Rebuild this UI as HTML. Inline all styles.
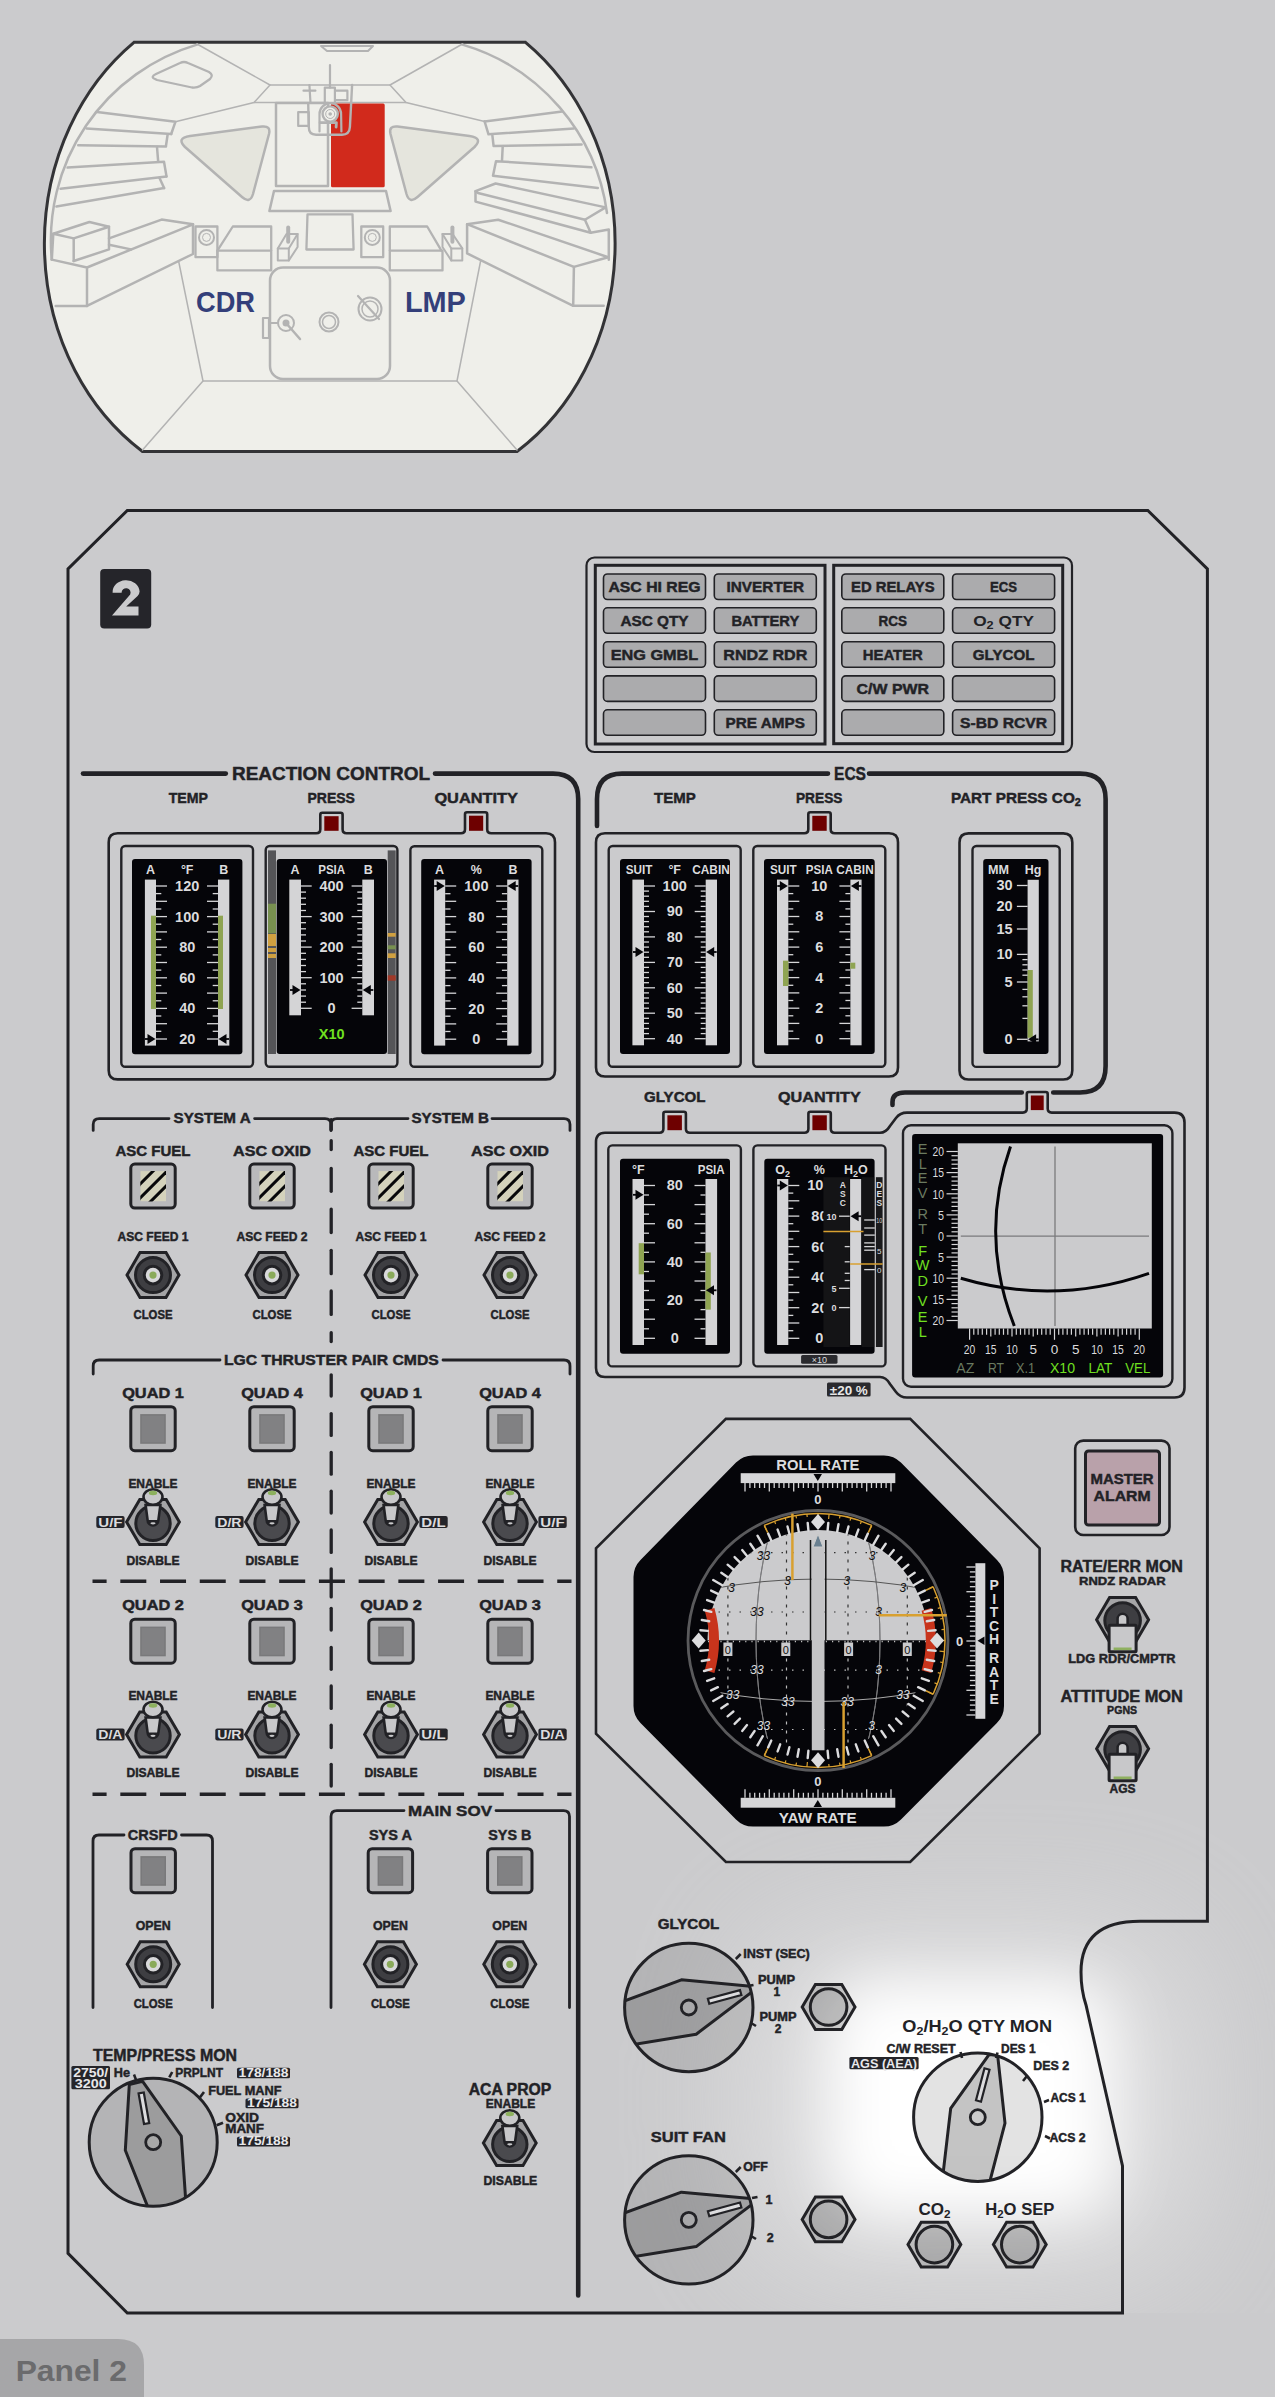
<!DOCTYPE html>
<html><head><meta charset="utf-8"><style>
html,body{margin:0;padding:0;background:#cbcbcd;overflow:hidden;}
svg{display:block;}

</style></head><body>
<svg width="1275" height="2397" viewBox="0 0 1275 2397" font-family='"Liberation Sans", sans-serif' font-weight="bold" fill="#222226">
<defs><filter id="gblur" x="-50%" y="-50%" width="200%" height="200%"><feGaussianBlur stdDeviation="30"/></filter></defs><defs><filter id="gblur2" x="-50%" y="-50%" width="200%" height="200%"><feGaussianBlur stdDeviation="70"/></filter></defs><clipPath id="gclip"><rect x="0" y="1800" width="1275" height="513"/></clipPath><g clip-path="url(#gclip)"><rect x="760" y="1940" width="420" height="320" rx="60" fill="#ffffff" opacity="0.45" filter="url(#gblur2)"/><rect x="832" y="1982" width="280" height="232" rx="40" fill="#ffffff" filter="url(#gblur)"/></g><path d="M134,42.3 L525.5,42.3 A219.2,249.5 0 0 1 517,451.5 L142.5,451.5 A219.2,249.5 0 0 1 134,42.3 Z" fill="#efefea" stroke="#333336" stroke-width="3"/><path d="M197,44.6 A204,204 0 0 0 51.8,259.6" fill="none" stroke="#b3b3b3" stroke-width="2.5" stroke-linejoin="round" stroke-linecap="round"/><path d="M462.5,44.6 A204,204 0 0 1 607,213" fill="none" stroke="#b3b3b3" stroke-width="2.5" stroke-linejoin="round" stroke-linecap="round"/><path d="M197.0,44.0 L270.0,85.0 L254.0,102.5 L175.4,121.8" fill="none" stroke="#b3b3b3" stroke-width="1.5" stroke-linejoin="round" stroke-linecap="round"/><path d="M462.5,44.0 L390.0,85.0 L406.0,102.5 L484.6,121.4" fill="none" stroke="#b3b3b3" stroke-width="1.5" stroke-linejoin="round" stroke-linecap="round"/><path d="M270.0,85.0 L390.0,85.0" fill="none" stroke="#b3b3b3" stroke-width="1.5" stroke-linejoin="round" stroke-linecap="round"/><path d="M254.0,102.5 L406.0,102.5" fill="none" stroke="#b3b3b3" stroke-width="1.5" stroke-linejoin="round" stroke-linecap="round"/><path d="M321.0,46.0 L373.0,46.0 L368.0,51.0 L327.0,51.0 Z" fill="none" stroke="#b3b3b3" stroke-width="2" stroke-linejoin="round" stroke-linecap="round"/><path d="M155,79 Q150,77 156,74 L180,63 Q184,61 188,63 L209,72 Q214,75 210,79 L200,86 Q197,88 192,87.5 L157,80 Z" fill="none" stroke="#b3b3b3" stroke-width="2.3" stroke-linejoin="round" stroke-linecap="round"/><path d="M185,147 Q176,138 190,136 L262,126.5 Q271,125.5 269,134 L253,194 Q250,204 242,197 Z" fill="#e5e5dd" stroke="#b3b3b3" stroke-width="2.5" stroke-linejoin="round" stroke-linecap="round"/><path d="M474.5,147 Q483.5,138 469.5,136 L397.5,126.5 Q388.5,125.5 390.5,134 L406.5,194 Q409.5,204 417.5,197 Z" fill="#e5e5dd" stroke="#b3b3b3" stroke-width="2.5" stroke-linejoin="round" stroke-linecap="round"/><path d="M97.0,111.9 L175.4,121.8 L171.2,134.0" fill="none" stroke="#b3b3b3" stroke-width="2.5" stroke-linejoin="round" stroke-linecap="round"/><path d="M86.5,128.4 L171.2,134.0" fill="none" stroke="#b3b3b3" stroke-width="2.5" stroke-linejoin="round" stroke-linecap="round"/><path d="M167.6,134.7 L166.0,145.8" fill="none" stroke="#b3b3b3" stroke-width="2.5" stroke-linejoin="round" stroke-linecap="round"/><path d="M78.2,145.3 L166.0,146.5" fill="none" stroke="#b3b3b3" stroke-width="2.5" stroke-linejoin="round" stroke-linecap="round"/><path d="M157.0,147.0 L158.2,161.8" fill="none" stroke="#b3b3b3" stroke-width="2.5" stroke-linejoin="round" stroke-linecap="round"/><path d="M67.6,167.6 L164.0,161.8 L166.5,176.4" fill="none" stroke="#b3b3b3" stroke-width="2.5" stroke-linejoin="round" stroke-linecap="round"/><path d="M60.6,188.8 L166.5,176.4" fill="none" stroke="#b3b3b3" stroke-width="2.5" stroke-linejoin="round" stroke-linecap="round"/><path d="M159.4,177.8 L164.1,188.1" fill="none" stroke="#b3b3b3" stroke-width="2.5" stroke-linejoin="round" stroke-linecap="round"/><path d="M56.4,206.5 L164.1,188.1" fill="none" stroke="#b3b3b3" stroke-width="2.5" stroke-linejoin="round" stroke-linecap="round"/><path d="M484.6,121.4 L562.2,111.6" fill="none" stroke="#b3b3b3" stroke-width="2.5" stroke-linejoin="round" stroke-linecap="round"/><path d="M484.6,121.4 L488.5,134.3 L573.9,128.5" fill="none" stroke="#b3b3b3" stroke-width="2.5" stroke-linejoin="round" stroke-linecap="round"/><path d="M492.4,135.6 L493.6,146.0 L581.6,144.6" fill="none" stroke="#b3b3b3" stroke-width="2.5" stroke-linejoin="round" stroke-linecap="round"/><path d="M502.7,146.6 L502.0,160.8" fill="none" stroke="#b3b3b3" stroke-width="2.5" stroke-linejoin="round" stroke-linecap="round"/><path d="M591.4,167.3 L496.0,161.2 L493.0,175.7 L597.8,188.0" fill="none" stroke="#b3b3b3" stroke-width="2.5" stroke-linejoin="round" stroke-linecap="round"/><path d="M475.5,191.2 L495.6,183.5 L605.6,207.4 L584.9,219.7 L478.0,193.0 Z" fill="none" stroke="#b3b3b3" stroke-width="2.5" stroke-linejoin="round" stroke-linecap="round"/><path d="M475.5,191.2 L475.5,201.6 L590.7,232.7 L584.9,219.7" fill="none" stroke="#b3b3b3" stroke-width="2.5" stroke-linejoin="round" stroke-linecap="round"/><path d="M467.1,224.2 L498.2,219.7 L608.2,257.2 L573.9,266.9 L467.1,224.2 Z" fill="none" stroke="#b3b3b3" stroke-width="2.5" stroke-linejoin="round" stroke-linecap="round"/><path d="M590.7,232.7 L608.8,229.4 L608.8,259.8" fill="none" stroke="#b3b3b3" stroke-width="2.5" stroke-linejoin="round" stroke-linecap="round"/><path d="M467.1,224.2 L467.1,253.4 L573.2,305.8 L573.9,266.9" fill="none" stroke="#b3b3b3" stroke-width="2.5" stroke-linejoin="round" stroke-linecap="round"/><path d="M573.2,305.8 L603.7,305.8" fill="none" stroke="#b3b3b3" stroke-width="2.5" stroke-linejoin="round" stroke-linecap="round"/><path d="M53.3,233.7 L89.4,222.0 L109.0,226.7 L73.7,238.4 L53.3,233.7 Z" fill="none" stroke="#b3b3b3" stroke-width="2.5" stroke-linejoin="round" stroke-linecap="round"/><path d="M53.3,233.7 L51.8,259.6" fill="none" stroke="#b3b3b3" stroke-width="2.5" stroke-linejoin="round" stroke-linecap="round"/><path d="M73.7,238.4 L73.7,261.0" fill="none" stroke="#b3b3b3" stroke-width="2.5" stroke-linejoin="round" stroke-linecap="round"/><path d="M109.0,226.7 L109.0,249.4 L73.7,261.0" fill="none" stroke="#b3b3b3" stroke-width="2.5" stroke-linejoin="round" stroke-linecap="round"/><path d="M109.0,238.4 L161.6,219.6 L193.0,224.3" fill="none" stroke="#b3b3b3" stroke-width="2.5" stroke-linejoin="round" stroke-linecap="round"/><path d="M51.8,259.6 L87.0,267.5 L193.0,224.3 L193.0,254.0 L87.0,305.9 L87.0,267.5" fill="none" stroke="#b3b3b3" stroke-width="2.5" stroke-linejoin="round" stroke-linecap="round"/><path d="M109.0,244.7 L131.0,249.4" fill="none" stroke="#b3b3b3" stroke-width="2.5" stroke-linejoin="round" stroke-linecap="round"/><path d="M55.7,305.9 L87.0,305.9" fill="none" stroke="#b3b3b3" stroke-width="2.5" stroke-linejoin="round" stroke-linecap="round"/><path d="M195.5,226.5 L217.4,226.5 L217.4,257.2 L195.5,257.2 Z" fill="none" stroke="#b3b3b3" stroke-width="2.3" stroke-linejoin="round" stroke-linecap="round"/><path d="M361.3,226.5 L383.2,226.5 L383.2,257.2 L361.3,257.2 Z" fill="none" stroke="#b3b3b3" stroke-width="2.3" stroke-linejoin="round" stroke-linecap="round"/><circle cx="206.5" cy="237.4" r="7.5" fill="none" stroke="#b3b3b3" stroke-width="2"/><circle cx="206.5" cy="237.4" r="4" fill="none" stroke="#b3b3b3" stroke-width="1"/><circle cx="372.3" cy="237.4" r="7.5" fill="none" stroke="#b3b3b3" stroke-width="2"/><circle cx="372.3" cy="237.4" r="4" fill="none" stroke="#b3b3b3" stroke-width="1"/><path d="M217.4,250.6 L232.8,226.5 L271.2,226.5 L271.2,250.6" fill="none" stroke="#b3b3b3" stroke-width="2.3" stroke-linejoin="round" stroke-linecap="round"/><path d="M217.4,250.6 L271.2,250.6 L271.2,270.4 L217.4,270.4 Z" fill="none" stroke="#b3b3b3" stroke-width="2.3" stroke-linejoin="round" stroke-linecap="round"/><path d="M389.8,250.6 L389.8,226.5 L427.2,226.5 L441.4,250.6" fill="none" stroke="#b3b3b3" stroke-width="2.3" stroke-linejoin="round" stroke-linecap="round"/><path d="M389.8,250.6 L442.5,250.6 L442.5,270.4 L389.8,270.4 Z" fill="none" stroke="#b3b3b3" stroke-width="2.3" stroke-linejoin="round" stroke-linecap="round"/><path d="M277.8,248.4 L288.8,248.4 L288.8,260.5 L277.8,260.5 Z" fill="none" stroke="#b3b3b3" stroke-width="2" stroke-linejoin="round" stroke-linecap="round"/><path d="M277.8,248.4 L286.5,234.0 L297.6,234.0 L288.8,248.4" fill="none" stroke="#b3b3b3" stroke-width="2" stroke-linejoin="round" stroke-linecap="round"/><path d="M297.6,234.0 L297.6,247.0 L288.8,260.5" fill="none" stroke="#b3b3b3" stroke-width="2" stroke-linejoin="round" stroke-linecap="round"/><path d="M288.2,227.6 L288.2,241.8" fill="none" stroke="#b3b3b3" stroke-width="4" stroke-linejoin="round" stroke-linecap="round"/><path d="M451.3,248.4 L462.3,248.4 L462.3,260.5 L451.3,260.5 Z" fill="none" stroke="#b3b3b3" stroke-width="2" stroke-linejoin="round" stroke-linecap="round"/><path d="M462.3,248.4 L452.6,234.0 L442.5,234.0 L451.3,248.4" fill="none" stroke="#b3b3b3" stroke-width="2" stroke-linejoin="round" stroke-linecap="round"/><path d="M442.5,234.0 L442.5,247.0 L451.3,260.5" fill="none" stroke="#b3b3b3" stroke-width="2" stroke-linejoin="round" stroke-linecap="round"/><path d="M452.4,227.6 L452.4,241.8" fill="none" stroke="#b3b3b3" stroke-width="4" stroke-linejoin="round" stroke-linecap="round"/><path d="M307.5,214.4 L352.5,214.4 L353.6,249.5 L306.4,249.5 Z" fill="none" stroke="#b3b3b3" stroke-width="2.3" stroke-linejoin="round" stroke-linecap="round"/><path d="M276.0,103.0 L328.0,103.0 L328.0,186.0 L276.0,186.0 Z" fill="none" stroke="#b3b3b3" stroke-width="2.5" stroke-linejoin="round" stroke-linecap="round"/><path d="M274.0,191.0 L386.0,191.0 L390.6,211.0 L269.4,211.0 Z" fill="none" stroke="#b3b3b3" stroke-width="2.5" stroke-linejoin="round" stroke-linecap="round"/><path d="M178.8,262.0 L203.0,381.0 L142.5,450.0" fill="none" stroke="#b3b3b3" stroke-width="1.5" stroke-linejoin="round" stroke-linecap="round"/><path d="M480.7,260.5 L457.0,381.0 L517.0,450.0" fill="none" stroke="#b3b3b3" stroke-width="1.5" stroke-linejoin="round" stroke-linecap="round"/><path d="M203.0,381.0 L457.0,381.0" fill="none" stroke="#b3b3b3" stroke-width="1.5" stroke-linejoin="round" stroke-linecap="round"/><rect x="270" y="267.6" width="120" height="111.4" rx="13" fill="#efefea" stroke="#b3b3b3" stroke-width="2.5"/><circle cx="286" cy="323" r="8" fill="none" stroke="#b3b3b3" stroke-width="2"/><circle cx="286" cy="323" r="3.5" fill="#b3b3b3"/><path d="M286,323 L300,339" fill="none" stroke="#b3b3b3" stroke-width="2.5" stroke-linejoin="round" stroke-linecap="round"/><path d="M263,318 L269,318 L269,338 L263,338 Z" fill="none" stroke="#b3b3b3" stroke-width="2.2" stroke-linejoin="round" stroke-linecap="round"/><path d="M269,323 L278,323" fill="none" stroke="#b3b3b3" stroke-width="2" stroke-linejoin="round" stroke-linecap="round"/><circle cx="329" cy="322" r="9.5" fill="none" stroke="#b3b3b3" stroke-width="2"/><circle cx="329" cy="322" r="6.5" fill="none" stroke="#b3b3b3" stroke-width="1.5"/><circle cx="370" cy="309" r="11.5" fill="none" stroke="#b3b3b3" stroke-width="2"/><circle cx="370" cy="309" r="8" fill="none" stroke="#b3b3b3" stroke-width="1.5"/><path d="M358,296 L379,319" fill="none" stroke="#b3b3b3" stroke-width="2.2" stroke-linejoin="round" stroke-linecap="round"/><rect x="331" y="103.4" width="53.7" height="83.8" rx="1.5" fill="#d12a1c"/><path d="M330,65 L330,87.6" fill="none" stroke="#b3b3b3" stroke-width="2.2" stroke-linejoin="round" stroke-linecap="round"/><path d="M309.4,85 L310.5,103 M303.5,90.7 L315.4,90.7" fill="none" stroke="#b3b3b3" stroke-width="2.2" stroke-linejoin="round" stroke-linecap="round"/><path d="M324.8,103 L324.8,87.6 L334.9,87.6 L334.9,103 M334.9,90.7 L347.4,90.7 L347.4,100.2 L334.9,100.2" fill="none" stroke="#b3b3b3" stroke-width="2.2" stroke-linejoin="round" stroke-linecap="round"/><path d="M352.1,85 L349.9,127 Q349.5,134.7 342,134.7 L316,134.7 Q308.8,134.7 308.8,127 L308.2,103.3" fill="none" stroke="#b3b3b3" stroke-width="2.4" stroke-linejoin="round" stroke-linecap="round"/><path d="M319.5,131.5 L319.5,114 A10.8,10.8 0 0 1 341.1,114 L341.4,131.5" fill="none" stroke="#b3b3b3" stroke-width="2.2" stroke-linejoin="round" stroke-linecap="round"/><circle cx="330.2" cy="114" r="7.6" fill="#efefea" stroke="#b3b3b3" stroke-width="2.4"/><circle cx="330.2" cy="114" r="4.5" fill="none" stroke="#b3b3b3" stroke-width="1"/><circle cx="330.2" cy="114" r="1.8" fill="#b3b3b3"/><path d="M298.2,112.1 L308.8,112.1 L308.8,125.9 L298.2,125.9 Z" fill="none" stroke="#b3b3b3" stroke-width="2.2" stroke-linejoin="round" stroke-linecap="round"/><path d="M320.1,122.7 L336.4,122.7 L336.1,127.1" fill="none" stroke="#b3b3b3" stroke-width="2.8" stroke-linejoin="round" stroke-linecap="round"/><text x="225.5" y="312.4" font-size="29.5" text-anchor="middle" fill="#343f7a" textLength="59" lengthAdjust="spacingAndGlyphs">CDR</text><text x="435.4" y="312.4" font-size="29.5" text-anchor="middle" fill="#343f7a" textLength="61" lengthAdjust="spacingAndGlyphs">LMP</text><path d="M127.3,510.4 L1147.8,510.4 L1207.4,569 L1207.4,1921.3 L1140,1921.3 Q1081,1921.3 1081,1972 Q1081,1990 1086,2005 L1122.5,2166 L1122.5,2313 L127.3,2313 L68,2253.3 L68,569 Z" fill="none" stroke="#222226" stroke-width="3"/><rect x="100.2" y="569.0" width="51.0" height="59.4" rx="4" fill="#25252a"/><path d="M112,615.4 L138.5,615.4 L138.5,606.6 L126.2,606.6 L137.6,596 Q139.6,593.5 139.6,591.5 A13.5,12 0 1 0 112.6,592.8 L121.6,592.8 A4.5,4.5 0 1 1 130.2,594.5 Z" fill="#cbcbcd" stroke="none" stroke-width="0"/><path d="M0,2339 L118,2339 Q144,2339 144,2365 L144,2397 L0,2397 Z" fill="#a6a6a8" stroke="none" stroke-width="0"/><text x="71.3" y="2381.0" font-size="29" text-anchor="middle" fill="#6b6b6d" textLength="111.3" lengthAdjust="spacingAndGlyphs">Panel 2</text><rect x="586.5" y="557.5" width="485.5" height="194.5" rx="8" fill="none" stroke="#222226" stroke-width="2.2"/><rect x="595.3" y="565.3" width="229.7" height="178.7" rx="0" fill="none" stroke="#222226" stroke-width="3"/><rect x="833.7" y="565.3" width="229.0" height="178.4" rx="0" fill="none" stroke="#222226" stroke-width="3"/><rect x="603.5" y="574.0" width="102.0" height="25.5" rx="4" fill="#ababad" stroke="#222226" stroke-width="1.6"/><text x="654.5" y="591.9" font-size="15" text-anchor="middle" stroke="#222226" stroke-width="0.45" textLength="92.2" lengthAdjust="spacingAndGlyphs">ASC HI REG</text><rect x="714.3" y="574.0" width="102.0" height="25.5" rx="4" fill="#ababad" stroke="#222226" stroke-width="1.6"/><text x="765.3" y="591.9" font-size="15" text-anchor="middle" stroke="#222226" stroke-width="0.45" textLength="77.5" lengthAdjust="spacingAndGlyphs">INVERTER</text><rect x="841.8" y="574.0" width="102.0" height="25.5" rx="4" fill="#ababad" stroke="#222226" stroke-width="1.6"/><text x="892.8" y="591.9" font-size="15" text-anchor="middle" stroke="#222226" stroke-width="0.45" textLength="83.6" lengthAdjust="spacingAndGlyphs">ED RELAYS</text><rect x="952.6" y="574.0" width="102.0" height="25.5" rx="4" fill="#ababad" stroke="#222226" stroke-width="1.6"/><text x="1003.6" y="591.9" font-size="15" text-anchor="middle" stroke="#222226" stroke-width="0.45" textLength="27" lengthAdjust="spacingAndGlyphs">ECS</text><rect x="603.5" y="607.8" width="102.0" height="25.5" rx="4" fill="#ababad" stroke="#222226" stroke-width="1.6"/><text x="654.5" y="625.7" font-size="15" text-anchor="middle" stroke="#222226" stroke-width="0.45" textLength="68.2" lengthAdjust="spacingAndGlyphs">ASC QTY</text><rect x="714.3" y="607.8" width="102.0" height="25.5" rx="4" fill="#ababad" stroke="#222226" stroke-width="1.6"/><text x="765.3" y="625.7" font-size="15" text-anchor="middle" stroke="#222226" stroke-width="0.45" textLength="67.8" lengthAdjust="spacingAndGlyphs">BATTERY</text><rect x="841.8" y="607.8" width="102.0" height="25.5" rx="4" fill="#ababad" stroke="#222226" stroke-width="1.6"/><text x="892.8" y="625.7" font-size="15" text-anchor="middle" stroke="#222226" stroke-width="0.45" textLength="28.5" lengthAdjust="spacingAndGlyphs">RCS</text><rect x="952.6" y="607.8" width="102.0" height="25.5" rx="4" fill="#ababad" stroke="#222226" stroke-width="1.6"/><text x="1003.6" y="625.8" font-size="15" text-anchor="middle" textLength="60.8" lengthAdjust="spacingAndGlyphs">O<tspan font-size="11" dy="3">2</tspan><tspan dy="-3"> QTY</tspan></text><rect x="603.5" y="641.8" width="102.0" height="25.5" rx="4" fill="#ababad" stroke="#222226" stroke-width="1.6"/><text x="654.5" y="659.7" font-size="15" text-anchor="middle" stroke="#222226" stroke-width="0.45" textLength="87.6" lengthAdjust="spacingAndGlyphs">ENG GMBL</text><rect x="714.3" y="641.8" width="102.0" height="25.5" rx="4" fill="#ababad" stroke="#222226" stroke-width="1.6"/><text x="765.3" y="659.7" font-size="15" text-anchor="middle" stroke="#222226" stroke-width="0.45" textLength="84" lengthAdjust="spacingAndGlyphs">RNDZ RDR</text><rect x="841.8" y="641.8" width="102.0" height="25.5" rx="4" fill="#ababad" stroke="#222226" stroke-width="1.6"/><text x="892.8" y="659.7" font-size="15" text-anchor="middle" stroke="#222226" stroke-width="0.45" textLength="60" lengthAdjust="spacingAndGlyphs">HEATER</text><rect x="952.6" y="641.8" width="102.0" height="25.5" rx="4" fill="#ababad" stroke="#222226" stroke-width="1.6"/><text x="1003.6" y="659.7" font-size="15" text-anchor="middle" stroke="#222226" stroke-width="0.45" textLength="61.6" lengthAdjust="spacingAndGlyphs">GLYCOL</text><rect x="603.5" y="675.9" width="102.0" height="25.5" rx="4" fill="#ababad" stroke="#222226" stroke-width="1.6"/><rect x="714.3" y="675.9" width="102.0" height="25.5" rx="4" fill="#ababad" stroke="#222226" stroke-width="1.6"/><rect x="841.8" y="675.9" width="102.0" height="25.5" rx="4" fill="#ababad" stroke="#222226" stroke-width="1.6"/><text x="892.8" y="693.8" font-size="15" text-anchor="middle" stroke="#222226" stroke-width="0.45" textLength="72.4" lengthAdjust="spacingAndGlyphs">C/W PWR</text><rect x="952.6" y="675.9" width="102.0" height="25.5" rx="4" fill="#ababad" stroke="#222226" stroke-width="1.6"/><rect x="603.5" y="709.8" width="102.0" height="25.5" rx="4" fill="#ababad" stroke="#222226" stroke-width="1.6"/><rect x="714.3" y="709.8" width="102.0" height="25.5" rx="4" fill="#ababad" stroke="#222226" stroke-width="1.6"/><text x="765.3" y="727.7" font-size="15" text-anchor="middle" stroke="#222226" stroke-width="0.45" textLength="79.4" lengthAdjust="spacingAndGlyphs">PRE AMPS</text><rect x="841.8" y="709.8" width="102.0" height="25.5" rx="4" fill="#ababad" stroke="#222226" stroke-width="1.6"/><rect x="952.6" y="709.8" width="102.0" height="25.5" rx="4" fill="#ababad" stroke="#222226" stroke-width="1.6"/><text x="1003.6" y="727.7" font-size="15" text-anchor="middle" stroke="#222226" stroke-width="0.45" textLength="87" lengthAdjust="spacingAndGlyphs">S-BD RCVR</text><line x1="83.0" y1="773.6" x2="225.8" y2="773.6" stroke="#222226" stroke-width="4.6" stroke-linecap="round"/><text x="331.0" y="780.4" font-size="19" text-anchor="middle" stroke="#222226" stroke-width="0.45" textLength="198" lengthAdjust="spacingAndGlyphs">REACTION CONTROL</text><path d="M435,773.6 L553,773.6 Q578.2,773.6 578.2,799 L578.2,2295.5" fill="none" stroke="#222226" stroke-width="4.6" stroke-linecap="round"/><text x="188.3" y="802.8" font-size="15.4" text-anchor="middle" stroke="#222226" stroke-width="0.45" textLength="39.3" lengthAdjust="spacingAndGlyphs">TEMP</text><text x="331.2" y="802.8" font-size="15.4" text-anchor="middle" stroke="#222226" stroke-width="0.45" textLength="47.5" lengthAdjust="spacingAndGlyphs">PRESS</text><text x="476.2" y="802.8" font-size="15.4" text-anchor="middle" stroke="#222226" stroke-width="0.45" textLength="83.6" lengthAdjust="spacingAndGlyphs">QUANTITY</text><path d="M108.7,842.3 Q108.7,833.3 117.7,833.3 L316.3,833.3 Q320.3,833.3 320.3,829.3 L320.3,814.7 Q320.3,812.7 322.3,812.7 L340.6,812.7 Q342.6,812.7 342.6,814.7 L342.6,829.3 Q342.6,833.3 346.6,833.3 L461,833.3 Q465,833.3 465,829.3 L465,814.2 Q465,812.2 467,812.2 L485.2,812.2 Q487.2,812.2 487.2,814.2 L487.2,829.3 Q487.2,833.3 491.2,833.3 L546,833.3 Q555,833.3 555,842.3 L555,1070.4 Q555,1079.4 546,1079.4 L117.7,1079.4 Q108.7,1079.4 108.7,1070.4 Z" fill="none" stroke="#222226" stroke-width="2.6"/><rect x="324.3" y="816.2" width="14.3" height="14.6" rx="0" fill="#6e0000"/><rect x="469.0" y="815.7" width="14.2" height="15.1" rx="0" fill="#6e0000"/><rect x="121.3" y="846.0" width="131.7" height="220.7" rx="4" fill="none" stroke="#222226" stroke-width="2.4"/><rect x="265.7" y="846.0" width="131.7" height="220.7" rx="4" fill="none" stroke="#222226" stroke-width="2.4"/><rect x="410.4" y="846.2" width="131.9" height="220.6" rx="4" fill="none" stroke="#222226" stroke-width="2.4"/><rect x="132.0" y="859.0" width="110.4" height="195.2" rx="3" fill="#050509"/><rect x="144.9" y="879.6" width="11.1" height="166.0" rx="0" fill="#d4d4d6"/><rect x="218.0" y="879.6" width="11.3" height="166.0" rx="0" fill="#d4d4d6"/><rect x="151.0" y="915.7" width="5.0" height="93.3" rx="0" fill="#8fa452"/><rect x="218.0" y="915.7" width="5.0" height="93.3" rx="0" fill="#8fa452"/><text x="150.4" y="873.7" font-size="12.5" text-anchor="middle" fill="#dcdcde">A</text><text x="187.2" y="873.7" font-size="12.5" text-anchor="middle" fill="#dcdcde">°F</text><text x="223.7" y="873.7" font-size="12.5" text-anchor="middle" fill="#dcdcde">B</text><line x1="156.0" y1="886.0" x2="167.0" y2="886.0" stroke="#d6d6d8" stroke-width="1.3" stroke-linecap="butt"/><line x1="218.0" y1="886.0" x2="207.0" y2="886.0" stroke="#d6d6d8" stroke-width="1.3" stroke-linecap="butt"/><line x1="156.0" y1="893.6" x2="161.3" y2="893.6" stroke="#d6d6d8" stroke-width="1.3" stroke-linecap="butt"/><line x1="218.0" y1="893.6" x2="212.7" y2="893.6" stroke="#d6d6d8" stroke-width="1.3" stroke-linecap="butt"/><line x1="156.0" y1="901.3" x2="167.0" y2="901.3" stroke="#d6d6d8" stroke-width="1.3" stroke-linecap="butt"/><line x1="218.0" y1="901.3" x2="207.0" y2="901.3" stroke="#d6d6d8" stroke-width="1.3" stroke-linecap="butt"/><line x1="156.0" y1="909.0" x2="161.3" y2="909.0" stroke="#d6d6d8" stroke-width="1.3" stroke-linecap="butt"/><line x1="218.0" y1="909.0" x2="212.7" y2="909.0" stroke="#d6d6d8" stroke-width="1.3" stroke-linecap="butt"/><line x1="156.0" y1="916.6" x2="167.0" y2="916.6" stroke="#d6d6d8" stroke-width="1.3" stroke-linecap="butt"/><line x1="218.0" y1="916.6" x2="207.0" y2="916.6" stroke="#d6d6d8" stroke-width="1.3" stroke-linecap="butt"/><line x1="156.0" y1="924.2" x2="161.3" y2="924.2" stroke="#d6d6d8" stroke-width="1.3" stroke-linecap="butt"/><line x1="218.0" y1="924.2" x2="212.7" y2="924.2" stroke="#d6d6d8" stroke-width="1.3" stroke-linecap="butt"/><line x1="156.0" y1="931.9" x2="167.0" y2="931.9" stroke="#d6d6d8" stroke-width="1.3" stroke-linecap="butt"/><line x1="218.0" y1="931.9" x2="207.0" y2="931.9" stroke="#d6d6d8" stroke-width="1.3" stroke-linecap="butt"/><line x1="156.0" y1="939.5" x2="161.3" y2="939.5" stroke="#d6d6d8" stroke-width="1.3" stroke-linecap="butt"/><line x1="218.0" y1="939.5" x2="212.7" y2="939.5" stroke="#d6d6d8" stroke-width="1.3" stroke-linecap="butt"/><line x1="156.0" y1="947.2" x2="167.0" y2="947.2" stroke="#d6d6d8" stroke-width="1.3" stroke-linecap="butt"/><line x1="218.0" y1="947.2" x2="207.0" y2="947.2" stroke="#d6d6d8" stroke-width="1.3" stroke-linecap="butt"/><line x1="156.0" y1="954.9" x2="161.3" y2="954.9" stroke="#d6d6d8" stroke-width="1.3" stroke-linecap="butt"/><line x1="218.0" y1="954.9" x2="212.7" y2="954.9" stroke="#d6d6d8" stroke-width="1.3" stroke-linecap="butt"/><line x1="156.0" y1="962.5" x2="167.0" y2="962.5" stroke="#d6d6d8" stroke-width="1.3" stroke-linecap="butt"/><line x1="218.0" y1="962.5" x2="207.0" y2="962.5" stroke="#d6d6d8" stroke-width="1.3" stroke-linecap="butt"/><line x1="156.0" y1="970.1" x2="161.3" y2="970.1" stroke="#d6d6d8" stroke-width="1.3" stroke-linecap="butt"/><line x1="218.0" y1="970.1" x2="212.7" y2="970.1" stroke="#d6d6d8" stroke-width="1.3" stroke-linecap="butt"/><line x1="156.0" y1="977.8" x2="167.0" y2="977.8" stroke="#d6d6d8" stroke-width="1.3" stroke-linecap="butt"/><line x1="218.0" y1="977.8" x2="207.0" y2="977.8" stroke="#d6d6d8" stroke-width="1.3" stroke-linecap="butt"/><line x1="156.0" y1="985.5" x2="161.3" y2="985.5" stroke="#d6d6d8" stroke-width="1.3" stroke-linecap="butt"/><line x1="218.0" y1="985.5" x2="212.7" y2="985.5" stroke="#d6d6d8" stroke-width="1.3" stroke-linecap="butt"/><line x1="156.0" y1="993.1" x2="167.0" y2="993.1" stroke="#d6d6d8" stroke-width="1.3" stroke-linecap="butt"/><line x1="218.0" y1="993.1" x2="207.0" y2="993.1" stroke="#d6d6d8" stroke-width="1.3" stroke-linecap="butt"/><line x1="156.0" y1="1000.8" x2="161.3" y2="1000.8" stroke="#d6d6d8" stroke-width="1.3" stroke-linecap="butt"/><line x1="218.0" y1="1000.8" x2="212.7" y2="1000.8" stroke="#d6d6d8" stroke-width="1.3" stroke-linecap="butt"/><line x1="156.0" y1="1008.4" x2="167.0" y2="1008.4" stroke="#d6d6d8" stroke-width="1.3" stroke-linecap="butt"/><line x1="218.0" y1="1008.4" x2="207.0" y2="1008.4" stroke="#d6d6d8" stroke-width="1.3" stroke-linecap="butt"/><line x1="156.0" y1="1016.0" x2="161.3" y2="1016.0" stroke="#d6d6d8" stroke-width="1.3" stroke-linecap="butt"/><line x1="218.0" y1="1016.0" x2="212.7" y2="1016.0" stroke="#d6d6d8" stroke-width="1.3" stroke-linecap="butt"/><line x1="156.0" y1="1023.7" x2="167.0" y2="1023.7" stroke="#d6d6d8" stroke-width="1.3" stroke-linecap="butt"/><line x1="218.0" y1="1023.7" x2="207.0" y2="1023.7" stroke="#d6d6d8" stroke-width="1.3" stroke-linecap="butt"/><line x1="156.0" y1="1031.3" x2="161.3" y2="1031.3" stroke="#d6d6d8" stroke-width="1.3" stroke-linecap="butt"/><line x1="218.0" y1="1031.3" x2="212.7" y2="1031.3" stroke="#d6d6d8" stroke-width="1.3" stroke-linecap="butt"/><line x1="156.0" y1="1039.0" x2="167.0" y2="1039.0" stroke="#d6d6d8" stroke-width="1.3" stroke-linecap="butt"/><line x1="218.0" y1="1039.0" x2="207.0" y2="1039.0" stroke="#d6d6d8" stroke-width="1.3" stroke-linecap="butt"/><text x="187.2" y="890.9" font-size="14.5" text-anchor="middle" fill="#dcdcde">120</text><text x="187.2" y="921.5" font-size="14.5" text-anchor="middle" fill="#dcdcde">100</text><text x="187.2" y="952.1" font-size="14.5" text-anchor="middle" fill="#dcdcde">80</text><text x="187.2" y="982.7" font-size="14.5" text-anchor="middle" fill="#dcdcde">60</text><text x="187.2" y="1013.3" font-size="14.5" text-anchor="middle" fill="#dcdcde">40</text><text x="187.2" y="1043.9" font-size="14.5" text-anchor="middle" fill="#dcdcde">20</text><path d="M155.5,1039.0 L147.5,1034.0 L147.5,1044.0 Z" fill="#050509"/><line x1="145.0" y1="1039.0" x2="149.5" y2="1039.0" stroke="#050509" stroke-width="1.8" stroke-linecap="butt"/><path d="M218.5,1039.0 L226.5,1034.0 L226.5,1044.0 Z" fill="#050509"/><line x1="229.0" y1="1039.0" x2="224.5" y2="1039.0" stroke="#050509" stroke-width="1.8" stroke-linecap="butt"/><rect x="268.0" y="850.4" width="8.0" height="203.6" rx="0" fill="#555558"/><rect x="387.7" y="850.4" width="8.0" height="203.6" rx="0" fill="#555558"/><rect x="268.0" y="903.7" width="8.0" height="29.6" rx="0" fill="#789050"/><rect x="268.0" y="934.0" width="8.0" height="12.0" rx="0" fill="#d0a040"/><rect x="268.0" y="948.0" width="8.0" height="4.0" rx="0" fill="#d0a040"/><rect x="268.0" y="954.0" width="8.0" height="4.0" rx="0" fill="#d0a040"/><rect x="387.7" y="933.0" width="8.0" height="3.7" rx="0" fill="#d0a040"/><rect x="387.7" y="945.3" width="8.0" height="4.0" rx="0" fill="#789050"/><rect x="387.7" y="953.3" width="8.0" height="4.7" rx="0" fill="#d0a040"/><rect x="387.7" y="975.3" width="8.0" height="5.4" rx="0" fill="#a03828"/><rect x="276.7" y="859.0" width="110.3" height="195.0" rx="3" fill="#050509"/><rect x="289.3" y="879.6" width="11.7" height="135.7" rx="0" fill="#d4d4d6"/><rect x="362.3" y="879.6" width="11.7" height="135.7" rx="0" fill="#d4d4d6"/><text x="295.0" y="873.7" font-size="12.5" text-anchor="middle" fill="#dcdcde">A</text><text x="331.7" y="873.7" font-size="12.5" text-anchor="middle" fill="#dcdcde" textLength="27" lengthAdjust="spacingAndGlyphs">PSIA</text><text x="368.3" y="873.7" font-size="12.5" text-anchor="middle" fill="#dcdcde">B</text><line x1="301.0" y1="886.0" x2="311.7" y2="886.0" stroke="#d6d6d8" stroke-width="1.3" stroke-linecap="butt"/><line x1="362.3" y1="886.0" x2="351.6" y2="886.0" stroke="#d6d6d8" stroke-width="1.3" stroke-linecap="butt"/><line x1="301.0" y1="892.1" x2="306.0" y2="892.1" stroke="#d6d6d8" stroke-width="1.3" stroke-linecap="butt"/><line x1="362.3" y1="892.1" x2="357.3" y2="892.1" stroke="#d6d6d8" stroke-width="1.3" stroke-linecap="butt"/><line x1="301.0" y1="898.2" x2="306.0" y2="898.2" stroke="#d6d6d8" stroke-width="1.3" stroke-linecap="butt"/><line x1="362.3" y1="898.2" x2="357.3" y2="898.2" stroke="#d6d6d8" stroke-width="1.3" stroke-linecap="butt"/><line x1="301.0" y1="904.3" x2="306.0" y2="904.3" stroke="#d6d6d8" stroke-width="1.3" stroke-linecap="butt"/><line x1="362.3" y1="904.3" x2="357.3" y2="904.3" stroke="#d6d6d8" stroke-width="1.3" stroke-linecap="butt"/><line x1="301.0" y1="910.5" x2="306.0" y2="910.5" stroke="#d6d6d8" stroke-width="1.3" stroke-linecap="butt"/><line x1="362.3" y1="910.5" x2="357.3" y2="910.5" stroke="#d6d6d8" stroke-width="1.3" stroke-linecap="butt"/><line x1="301.0" y1="916.6" x2="311.7" y2="916.6" stroke="#d6d6d8" stroke-width="1.3" stroke-linecap="butt"/><line x1="362.3" y1="916.6" x2="351.6" y2="916.6" stroke="#d6d6d8" stroke-width="1.3" stroke-linecap="butt"/><line x1="301.0" y1="922.7" x2="306.0" y2="922.7" stroke="#d6d6d8" stroke-width="1.3" stroke-linecap="butt"/><line x1="362.3" y1="922.7" x2="357.3" y2="922.7" stroke="#d6d6d8" stroke-width="1.3" stroke-linecap="butt"/><line x1="301.0" y1="928.8" x2="306.0" y2="928.8" stroke="#d6d6d8" stroke-width="1.3" stroke-linecap="butt"/><line x1="362.3" y1="928.8" x2="357.3" y2="928.8" stroke="#d6d6d8" stroke-width="1.3" stroke-linecap="butt"/><line x1="301.0" y1="934.9" x2="306.0" y2="934.9" stroke="#d6d6d8" stroke-width="1.3" stroke-linecap="butt"/><line x1="362.3" y1="934.9" x2="357.3" y2="934.9" stroke="#d6d6d8" stroke-width="1.3" stroke-linecap="butt"/><line x1="301.0" y1="941.0" x2="306.0" y2="941.0" stroke="#d6d6d8" stroke-width="1.3" stroke-linecap="butt"/><line x1="362.3" y1="941.0" x2="357.3" y2="941.0" stroke="#d6d6d8" stroke-width="1.3" stroke-linecap="butt"/><line x1="301.0" y1="947.1" x2="311.7" y2="947.1" stroke="#d6d6d8" stroke-width="1.3" stroke-linecap="butt"/><line x1="362.3" y1="947.1" x2="351.6" y2="947.1" stroke="#d6d6d8" stroke-width="1.3" stroke-linecap="butt"/><line x1="301.0" y1="953.3" x2="306.0" y2="953.3" stroke="#d6d6d8" stroke-width="1.3" stroke-linecap="butt"/><line x1="362.3" y1="953.3" x2="357.3" y2="953.3" stroke="#d6d6d8" stroke-width="1.3" stroke-linecap="butt"/><line x1="301.0" y1="959.4" x2="306.0" y2="959.4" stroke="#d6d6d8" stroke-width="1.3" stroke-linecap="butt"/><line x1="362.3" y1="959.4" x2="357.3" y2="959.4" stroke="#d6d6d8" stroke-width="1.3" stroke-linecap="butt"/><line x1="301.0" y1="965.5" x2="306.0" y2="965.5" stroke="#d6d6d8" stroke-width="1.3" stroke-linecap="butt"/><line x1="362.3" y1="965.5" x2="357.3" y2="965.5" stroke="#d6d6d8" stroke-width="1.3" stroke-linecap="butt"/><line x1="301.0" y1="971.6" x2="306.0" y2="971.6" stroke="#d6d6d8" stroke-width="1.3" stroke-linecap="butt"/><line x1="362.3" y1="971.6" x2="357.3" y2="971.6" stroke="#d6d6d8" stroke-width="1.3" stroke-linecap="butt"/><line x1="301.0" y1="977.7" x2="311.7" y2="977.7" stroke="#d6d6d8" stroke-width="1.3" stroke-linecap="butt"/><line x1="362.3" y1="977.7" x2="351.6" y2="977.7" stroke="#d6d6d8" stroke-width="1.3" stroke-linecap="butt"/><line x1="301.0" y1="983.8" x2="306.0" y2="983.8" stroke="#d6d6d8" stroke-width="1.3" stroke-linecap="butt"/><line x1="362.3" y1="983.8" x2="357.3" y2="983.8" stroke="#d6d6d8" stroke-width="1.3" stroke-linecap="butt"/><line x1="301.0" y1="990.0" x2="306.0" y2="990.0" stroke="#d6d6d8" stroke-width="1.3" stroke-linecap="butt"/><line x1="362.3" y1="990.0" x2="357.3" y2="990.0" stroke="#d6d6d8" stroke-width="1.3" stroke-linecap="butt"/><line x1="301.0" y1="996.1" x2="306.0" y2="996.1" stroke="#d6d6d8" stroke-width="1.3" stroke-linecap="butt"/><line x1="362.3" y1="996.1" x2="357.3" y2="996.1" stroke="#d6d6d8" stroke-width="1.3" stroke-linecap="butt"/><line x1="301.0" y1="1002.2" x2="306.0" y2="1002.2" stroke="#d6d6d8" stroke-width="1.3" stroke-linecap="butt"/><line x1="362.3" y1="1002.2" x2="357.3" y2="1002.2" stroke="#d6d6d8" stroke-width="1.3" stroke-linecap="butt"/><line x1="301.0" y1="1008.3" x2="311.7" y2="1008.3" stroke="#d6d6d8" stroke-width="1.3" stroke-linecap="butt"/><line x1="362.3" y1="1008.3" x2="351.6" y2="1008.3" stroke="#d6d6d8" stroke-width="1.3" stroke-linecap="butt"/><text x="331.5" y="890.9" font-size="14.5" text-anchor="middle" fill="#dcdcde">400</text><text x="331.5" y="921.5" font-size="14.5" text-anchor="middle" fill="#dcdcde">300</text><text x="331.5" y="952.0" font-size="14.5" text-anchor="middle" fill="#dcdcde">200</text><text x="331.5" y="982.6" font-size="14.5" text-anchor="middle" fill="#dcdcde">100</text><text x="331.5" y="1013.2" font-size="14.5" text-anchor="middle" fill="#dcdcde">0</text><path d="M300.5,990.0 L292.5,985.0 L292.5,995.0 Z" fill="#050509"/><line x1="290.0" y1="990.0" x2="294.5" y2="990.0" stroke="#050509" stroke-width="1.8" stroke-linecap="butt"/><path d="M362.8,990.0 L370.8,985.0 L370.8,995.0 Z" fill="#050509"/><line x1="373.3" y1="990.0" x2="368.8" y2="990.0" stroke="#050509" stroke-width="1.8" stroke-linecap="butt"/><text x="331.7" y="1039.3" font-size="14.5" text-anchor="middle" fill="#70e020">X10</text><rect x="421.2" y="859.0" width="110.4" height="195.2" rx="3" fill="#050509"/><rect x="434.1" y="879.6" width="11.1" height="166.0" rx="0" fill="#d4d4d6"/><rect x="507.2" y="879.6" width="11.3" height="166.0" rx="0" fill="#d4d4d6"/><text x="439.6" y="873.7" font-size="12.5" text-anchor="middle" fill="#dcdcde">A</text><text x="476.4" y="873.7" font-size="12.5" text-anchor="middle" fill="#dcdcde">%</text><text x="512.9" y="873.7" font-size="12.5" text-anchor="middle" fill="#dcdcde">B</text><line x1="445.2" y1="886.0" x2="456.2" y2="886.0" stroke="#d6d6d8" stroke-width="1.3" stroke-linecap="butt"/><line x1="507.2" y1="886.0" x2="496.2" y2="886.0" stroke="#d6d6d8" stroke-width="1.3" stroke-linecap="butt"/><line x1="445.2" y1="893.7" x2="450.5" y2="893.7" stroke="#d6d6d8" stroke-width="1.3" stroke-linecap="butt"/><line x1="507.2" y1="893.7" x2="501.9" y2="893.7" stroke="#d6d6d8" stroke-width="1.3" stroke-linecap="butt"/><line x1="445.2" y1="901.3" x2="456.2" y2="901.3" stroke="#d6d6d8" stroke-width="1.3" stroke-linecap="butt"/><line x1="507.2" y1="901.3" x2="496.2" y2="901.3" stroke="#d6d6d8" stroke-width="1.3" stroke-linecap="butt"/><line x1="445.2" y1="909.0" x2="450.5" y2="909.0" stroke="#d6d6d8" stroke-width="1.3" stroke-linecap="butt"/><line x1="507.2" y1="909.0" x2="501.9" y2="909.0" stroke="#d6d6d8" stroke-width="1.3" stroke-linecap="butt"/><line x1="445.2" y1="916.6" x2="456.2" y2="916.6" stroke="#d6d6d8" stroke-width="1.3" stroke-linecap="butt"/><line x1="507.2" y1="916.6" x2="496.2" y2="916.6" stroke="#d6d6d8" stroke-width="1.3" stroke-linecap="butt"/><line x1="445.2" y1="924.3" x2="450.5" y2="924.3" stroke="#d6d6d8" stroke-width="1.3" stroke-linecap="butt"/><line x1="507.2" y1="924.3" x2="501.9" y2="924.3" stroke="#d6d6d8" stroke-width="1.3" stroke-linecap="butt"/><line x1="445.2" y1="932.0" x2="456.2" y2="932.0" stroke="#d6d6d8" stroke-width="1.3" stroke-linecap="butt"/><line x1="507.2" y1="932.0" x2="496.2" y2="932.0" stroke="#d6d6d8" stroke-width="1.3" stroke-linecap="butt"/><line x1="445.2" y1="939.6" x2="450.5" y2="939.6" stroke="#d6d6d8" stroke-width="1.3" stroke-linecap="butt"/><line x1="507.2" y1="939.6" x2="501.9" y2="939.6" stroke="#d6d6d8" stroke-width="1.3" stroke-linecap="butt"/><line x1="445.2" y1="947.3" x2="456.2" y2="947.3" stroke="#d6d6d8" stroke-width="1.3" stroke-linecap="butt"/><line x1="507.2" y1="947.3" x2="496.2" y2="947.3" stroke="#d6d6d8" stroke-width="1.3" stroke-linecap="butt"/><line x1="445.2" y1="954.9" x2="450.5" y2="954.9" stroke="#d6d6d8" stroke-width="1.3" stroke-linecap="butt"/><line x1="507.2" y1="954.9" x2="501.9" y2="954.9" stroke="#d6d6d8" stroke-width="1.3" stroke-linecap="butt"/><line x1="445.2" y1="962.6" x2="456.2" y2="962.6" stroke="#d6d6d8" stroke-width="1.3" stroke-linecap="butt"/><line x1="507.2" y1="962.6" x2="496.2" y2="962.6" stroke="#d6d6d8" stroke-width="1.3" stroke-linecap="butt"/><line x1="445.2" y1="970.3" x2="450.5" y2="970.3" stroke="#d6d6d8" stroke-width="1.3" stroke-linecap="butt"/><line x1="507.2" y1="970.3" x2="501.9" y2="970.3" stroke="#d6d6d8" stroke-width="1.3" stroke-linecap="butt"/><line x1="445.2" y1="977.9" x2="456.2" y2="977.9" stroke="#d6d6d8" stroke-width="1.3" stroke-linecap="butt"/><line x1="507.2" y1="977.9" x2="496.2" y2="977.9" stroke="#d6d6d8" stroke-width="1.3" stroke-linecap="butt"/><line x1="445.2" y1="985.6" x2="450.5" y2="985.6" stroke="#d6d6d8" stroke-width="1.3" stroke-linecap="butt"/><line x1="507.2" y1="985.6" x2="501.9" y2="985.6" stroke="#d6d6d8" stroke-width="1.3" stroke-linecap="butt"/><line x1="445.2" y1="993.2" x2="456.2" y2="993.2" stroke="#d6d6d8" stroke-width="1.3" stroke-linecap="butt"/><line x1="507.2" y1="993.2" x2="496.2" y2="993.2" stroke="#d6d6d8" stroke-width="1.3" stroke-linecap="butt"/><line x1="445.2" y1="1000.9" x2="450.5" y2="1000.9" stroke="#d6d6d8" stroke-width="1.3" stroke-linecap="butt"/><line x1="507.2" y1="1000.9" x2="501.9" y2="1000.9" stroke="#d6d6d8" stroke-width="1.3" stroke-linecap="butt"/><line x1="445.2" y1="1008.6" x2="456.2" y2="1008.6" stroke="#d6d6d8" stroke-width="1.3" stroke-linecap="butt"/><line x1="507.2" y1="1008.6" x2="496.2" y2="1008.6" stroke="#d6d6d8" stroke-width="1.3" stroke-linecap="butt"/><line x1="445.2" y1="1016.2" x2="450.5" y2="1016.2" stroke="#d6d6d8" stroke-width="1.3" stroke-linecap="butt"/><line x1="507.2" y1="1016.2" x2="501.9" y2="1016.2" stroke="#d6d6d8" stroke-width="1.3" stroke-linecap="butt"/><line x1="445.2" y1="1023.9" x2="456.2" y2="1023.9" stroke="#d6d6d8" stroke-width="1.3" stroke-linecap="butt"/><line x1="507.2" y1="1023.9" x2="496.2" y2="1023.9" stroke="#d6d6d8" stroke-width="1.3" stroke-linecap="butt"/><line x1="445.2" y1="1031.5" x2="450.5" y2="1031.5" stroke="#d6d6d8" stroke-width="1.3" stroke-linecap="butt"/><line x1="507.2" y1="1031.5" x2="501.9" y2="1031.5" stroke="#d6d6d8" stroke-width="1.3" stroke-linecap="butt"/><line x1="445.2" y1="1039.2" x2="456.2" y2="1039.2" stroke="#d6d6d8" stroke-width="1.3" stroke-linecap="butt"/><line x1="507.2" y1="1039.2" x2="496.2" y2="1039.2" stroke="#d6d6d8" stroke-width="1.3" stroke-linecap="butt"/><text x="476.4" y="890.9" font-size="14.5" text-anchor="middle" fill="#dcdcde">100</text><text x="476.4" y="921.5" font-size="14.5" text-anchor="middle" fill="#dcdcde">80</text><text x="476.4" y="952.2" font-size="14.5" text-anchor="middle" fill="#dcdcde">60</text><text x="476.4" y="982.8" font-size="14.5" text-anchor="middle" fill="#dcdcde">40</text><text x="476.4" y="1013.5" font-size="14.5" text-anchor="middle" fill="#dcdcde">20</text><text x="476.4" y="1044.1" font-size="14.5" text-anchor="middle" fill="#dcdcde">0</text><path d="M444.7,886.0 L436.7,881.0 L436.7,891.0 Z" fill="#050509"/><line x1="434.2" y1="886.0" x2="438.7" y2="886.0" stroke="#050509" stroke-width="1.8" stroke-linecap="butt"/><path d="M507.7,886.0 L515.7,881.0 L515.7,891.0 Z" fill="#050509"/><line x1="518.2" y1="886.0" x2="513.7" y2="886.0" stroke="#050509" stroke-width="1.8" stroke-linecap="butt"/><path d="M597,826 L597,799 Q597,773.6 622,773.6 L828,773.6" fill="none" stroke="#222226" stroke-width="4.6" stroke-linecap="round"/><path d="M869,773.6 L1080,773.6 Q1105.6,773.6 1105.6,799 L1105.6,1066 Q1105.6,1092.5 1080,1092.5 L1053.2,1092.5" fill="none" stroke="#222226" stroke-width="4.6" stroke-linecap="round"/><path d="M1021.8,1092.5 L905,1092.5 Q892.5,1092.5 892.5,1102 L892.5,1105" fill="none" stroke="#222226" stroke-width="4.6" stroke-linecap="round"/><text x="850.0" y="780.4" font-size="19" text-anchor="middle" stroke="#222226" stroke-width="0.45" textLength="32" lengthAdjust="spacingAndGlyphs">ECS</text><text x="674.9" y="802.8" font-size="15.4" text-anchor="middle" stroke="#222226" stroke-width="0.45" textLength="41.7" lengthAdjust="spacingAndGlyphs">TEMP</text><text x="819.2" y="802.8" font-size="15.4" text-anchor="middle" stroke="#222226" stroke-width="0.45" textLength="46.5" lengthAdjust="spacingAndGlyphs">PRESS</text><text x="950.9" y="803" font-size="15.4" text-anchor="start" textLength="130" lengthAdjust="spacingAndGlyphs" stroke="#222226" stroke-width="0.45">PART PRESS CO<tspan font-size="11" dy="3">2</tspan></text><path d="M596,842.3 Q596,833.3 605,833.3 L804.3,833.3 Q808.3,833.3 808.3,829.3 L808.3,814.3 Q808.3,812.3 810.3,812.3 L828.7,812.3 Q830.7,812.3 830.7,814.3 L830.7,829.3 Q830.7,833.3 834.7,833.3 L889,833.3 Q898,833.3 898,842.3 L898,1067.5 Q898,1076.5 889,1076.5 L605,1076.5 Q596,1076.5 596,1067.5 Z" fill="none" stroke="#222226" stroke-width="2.6"/><rect x="812.3" y="815.8" width="14.4" height="15.0" rx="0" fill="#6e0000"/><rect x="608.7" y="846.0" width="132.0" height="220.7" rx="4" fill="none" stroke="#222226" stroke-width="2.4"/><rect x="753.3" y="846.0" width="132.0" height="220.7" rx="4" fill="none" stroke="#222226" stroke-width="2.4"/><path d="M959.5,842.4 Q959.5,833.4 968.5,833.4 L1063.3,833.4 Q1072.3,833.4 1072.3,842.4 L1072.3,1070.5 Q1072.3,1079.5 1063.3,1079.5 L968.5,1079.5 Q959.5,1079.5 959.5,1070.5 Z" fill="none" stroke="#222226" stroke-width="2.6"/><rect x="972.5" y="846.0" width="87.2" height="220.9" rx="4" fill="none" stroke="#222226" stroke-width="2.4"/><rect x="620.0" y="859.0" width="110.0" height="195.0" rx="3" fill="#050509"/><rect x="632.4" y="879.6" width="11.6" height="165.7" rx="0" fill="#d4d4d6"/><rect x="705.7" y="879.6" width="11.3" height="165.7" rx="0" fill="#d4d4d6"/><text x="639.0" y="873.7" font-size="12.5" text-anchor="middle" fill="#dcdcde" textLength="26.7" lengthAdjust="spacingAndGlyphs">SUIT</text><text x="674.7" y="873.7" font-size="12.5" text-anchor="middle" fill="#dcdcde">°F</text><text x="711.0" y="873.7" font-size="12.5" text-anchor="middle" fill="#dcdcde" textLength="37.5" lengthAdjust="spacingAndGlyphs">CABIN</text><line x1="644.0" y1="886.0" x2="655.0" y2="886.0" stroke="#d6d6d8" stroke-width="1.3" stroke-linecap="butt"/><line x1="705.7" y1="886.0" x2="694.7" y2="886.0" stroke="#d6d6d8" stroke-width="1.3" stroke-linecap="butt"/><line x1="644.0" y1="891.1" x2="649.0" y2="891.1" stroke="#d6d6d8" stroke-width="1.3" stroke-linecap="butt"/><line x1="705.7" y1="891.1" x2="700.7" y2="891.1" stroke="#d6d6d8" stroke-width="1.3" stroke-linecap="butt"/><line x1="644.0" y1="896.2" x2="649.0" y2="896.2" stroke="#d6d6d8" stroke-width="1.3" stroke-linecap="butt"/><line x1="705.7" y1="896.2" x2="700.7" y2="896.2" stroke="#d6d6d8" stroke-width="1.3" stroke-linecap="butt"/><line x1="644.0" y1="901.3" x2="649.0" y2="901.3" stroke="#d6d6d8" stroke-width="1.3" stroke-linecap="butt"/><line x1="705.7" y1="901.3" x2="700.7" y2="901.3" stroke="#d6d6d8" stroke-width="1.3" stroke-linecap="butt"/><line x1="644.0" y1="906.4" x2="649.0" y2="906.4" stroke="#d6d6d8" stroke-width="1.3" stroke-linecap="butt"/><line x1="705.7" y1="906.4" x2="700.7" y2="906.4" stroke="#d6d6d8" stroke-width="1.3" stroke-linecap="butt"/><line x1="644.0" y1="911.5" x2="655.0" y2="911.5" stroke="#d6d6d8" stroke-width="1.3" stroke-linecap="butt"/><line x1="705.7" y1="911.5" x2="694.7" y2="911.5" stroke="#d6d6d8" stroke-width="1.3" stroke-linecap="butt"/><line x1="644.0" y1="916.5" x2="649.0" y2="916.5" stroke="#d6d6d8" stroke-width="1.3" stroke-linecap="butt"/><line x1="705.7" y1="916.5" x2="700.7" y2="916.5" stroke="#d6d6d8" stroke-width="1.3" stroke-linecap="butt"/><line x1="644.0" y1="921.6" x2="649.0" y2="921.6" stroke="#d6d6d8" stroke-width="1.3" stroke-linecap="butt"/><line x1="705.7" y1="921.6" x2="700.7" y2="921.6" stroke="#d6d6d8" stroke-width="1.3" stroke-linecap="butt"/><line x1="644.0" y1="926.7" x2="649.0" y2="926.7" stroke="#d6d6d8" stroke-width="1.3" stroke-linecap="butt"/><line x1="705.7" y1="926.7" x2="700.7" y2="926.7" stroke="#d6d6d8" stroke-width="1.3" stroke-linecap="butt"/><line x1="644.0" y1="931.8" x2="649.0" y2="931.8" stroke="#d6d6d8" stroke-width="1.3" stroke-linecap="butt"/><line x1="705.7" y1="931.8" x2="700.7" y2="931.8" stroke="#d6d6d8" stroke-width="1.3" stroke-linecap="butt"/><line x1="644.0" y1="936.9" x2="655.0" y2="936.9" stroke="#d6d6d8" stroke-width="1.3" stroke-linecap="butt"/><line x1="705.7" y1="936.9" x2="694.7" y2="936.9" stroke="#d6d6d8" stroke-width="1.3" stroke-linecap="butt"/><line x1="644.0" y1="942.0" x2="649.0" y2="942.0" stroke="#d6d6d8" stroke-width="1.3" stroke-linecap="butt"/><line x1="705.7" y1="942.0" x2="700.7" y2="942.0" stroke="#d6d6d8" stroke-width="1.3" stroke-linecap="butt"/><line x1="644.0" y1="947.1" x2="649.0" y2="947.1" stroke="#d6d6d8" stroke-width="1.3" stroke-linecap="butt"/><line x1="705.7" y1="947.1" x2="700.7" y2="947.1" stroke="#d6d6d8" stroke-width="1.3" stroke-linecap="butt"/><line x1="644.0" y1="952.2" x2="649.0" y2="952.2" stroke="#d6d6d8" stroke-width="1.3" stroke-linecap="butt"/><line x1="705.7" y1="952.2" x2="700.7" y2="952.2" stroke="#d6d6d8" stroke-width="1.3" stroke-linecap="butt"/><line x1="644.0" y1="957.3" x2="649.0" y2="957.3" stroke="#d6d6d8" stroke-width="1.3" stroke-linecap="butt"/><line x1="705.7" y1="957.3" x2="700.7" y2="957.3" stroke="#d6d6d8" stroke-width="1.3" stroke-linecap="butt"/><line x1="644.0" y1="962.4" x2="655.0" y2="962.4" stroke="#d6d6d8" stroke-width="1.3" stroke-linecap="butt"/><line x1="705.7" y1="962.4" x2="694.7" y2="962.4" stroke="#d6d6d8" stroke-width="1.3" stroke-linecap="butt"/><line x1="644.0" y1="967.4" x2="649.0" y2="967.4" stroke="#d6d6d8" stroke-width="1.3" stroke-linecap="butt"/><line x1="705.7" y1="967.4" x2="700.7" y2="967.4" stroke="#d6d6d8" stroke-width="1.3" stroke-linecap="butt"/><line x1="644.0" y1="972.5" x2="649.0" y2="972.5" stroke="#d6d6d8" stroke-width="1.3" stroke-linecap="butt"/><line x1="705.7" y1="972.5" x2="700.7" y2="972.5" stroke="#d6d6d8" stroke-width="1.3" stroke-linecap="butt"/><line x1="644.0" y1="977.6" x2="649.0" y2="977.6" stroke="#d6d6d8" stroke-width="1.3" stroke-linecap="butt"/><line x1="705.7" y1="977.6" x2="700.7" y2="977.6" stroke="#d6d6d8" stroke-width="1.3" stroke-linecap="butt"/><line x1="644.0" y1="982.7" x2="649.0" y2="982.7" stroke="#d6d6d8" stroke-width="1.3" stroke-linecap="butt"/><line x1="705.7" y1="982.7" x2="700.7" y2="982.7" stroke="#d6d6d8" stroke-width="1.3" stroke-linecap="butt"/><line x1="644.0" y1="987.8" x2="655.0" y2="987.8" stroke="#d6d6d8" stroke-width="1.3" stroke-linecap="butt"/><line x1="705.7" y1="987.8" x2="694.7" y2="987.8" stroke="#d6d6d8" stroke-width="1.3" stroke-linecap="butt"/><line x1="644.0" y1="992.9" x2="649.0" y2="992.9" stroke="#d6d6d8" stroke-width="1.3" stroke-linecap="butt"/><line x1="705.7" y1="992.9" x2="700.7" y2="992.9" stroke="#d6d6d8" stroke-width="1.3" stroke-linecap="butt"/><line x1="644.0" y1="998.0" x2="649.0" y2="998.0" stroke="#d6d6d8" stroke-width="1.3" stroke-linecap="butt"/><line x1="705.7" y1="998.0" x2="700.7" y2="998.0" stroke="#d6d6d8" stroke-width="1.3" stroke-linecap="butt"/><line x1="644.0" y1="1003.1" x2="649.0" y2="1003.1" stroke="#d6d6d8" stroke-width="1.3" stroke-linecap="butt"/><line x1="705.7" y1="1003.1" x2="700.7" y2="1003.1" stroke="#d6d6d8" stroke-width="1.3" stroke-linecap="butt"/><line x1="644.0" y1="1008.2" x2="649.0" y2="1008.2" stroke="#d6d6d8" stroke-width="1.3" stroke-linecap="butt"/><line x1="705.7" y1="1008.2" x2="700.7" y2="1008.2" stroke="#d6d6d8" stroke-width="1.3" stroke-linecap="butt"/><line x1="644.0" y1="1013.2" x2="655.0" y2="1013.2" stroke="#d6d6d8" stroke-width="1.3" stroke-linecap="butt"/><line x1="705.7" y1="1013.2" x2="694.7" y2="1013.2" stroke="#d6d6d8" stroke-width="1.3" stroke-linecap="butt"/><line x1="644.0" y1="1018.3" x2="649.0" y2="1018.3" stroke="#d6d6d8" stroke-width="1.3" stroke-linecap="butt"/><line x1="705.7" y1="1018.3" x2="700.7" y2="1018.3" stroke="#d6d6d8" stroke-width="1.3" stroke-linecap="butt"/><line x1="644.0" y1="1023.4" x2="649.0" y2="1023.4" stroke="#d6d6d8" stroke-width="1.3" stroke-linecap="butt"/><line x1="705.7" y1="1023.4" x2="700.7" y2="1023.4" stroke="#d6d6d8" stroke-width="1.3" stroke-linecap="butt"/><line x1="644.0" y1="1028.5" x2="649.0" y2="1028.5" stroke="#d6d6d8" stroke-width="1.3" stroke-linecap="butt"/><line x1="705.7" y1="1028.5" x2="700.7" y2="1028.5" stroke="#d6d6d8" stroke-width="1.3" stroke-linecap="butt"/><line x1="644.0" y1="1033.6" x2="649.0" y2="1033.6" stroke="#d6d6d8" stroke-width="1.3" stroke-linecap="butt"/><line x1="705.7" y1="1033.6" x2="700.7" y2="1033.6" stroke="#d6d6d8" stroke-width="1.3" stroke-linecap="butt"/><line x1="644.0" y1="1038.7" x2="655.0" y2="1038.7" stroke="#d6d6d8" stroke-width="1.3" stroke-linecap="butt"/><line x1="705.7" y1="1038.7" x2="694.7" y2="1038.7" stroke="#d6d6d8" stroke-width="1.3" stroke-linecap="butt"/><text x="674.7" y="890.9" font-size="14.5" text-anchor="middle" fill="#dcdcde">100</text><text x="674.7" y="916.4" font-size="14.5" text-anchor="middle" fill="#dcdcde">90</text><text x="674.7" y="941.8" font-size="14.5" text-anchor="middle" fill="#dcdcde">80</text><text x="674.7" y="967.2" font-size="14.5" text-anchor="middle" fill="#dcdcde">70</text><text x="674.7" y="992.7" font-size="14.5" text-anchor="middle" fill="#dcdcde">60</text><text x="674.7" y="1018.1" font-size="14.5" text-anchor="middle" fill="#dcdcde">50</text><text x="674.7" y="1043.6" font-size="14.5" text-anchor="middle" fill="#dcdcde">40</text><path d="M643.5,952.0 L635.5,947.0 L635.5,957.0 Z" fill="#050509"/><line x1="633.0" y1="952.0" x2="637.5" y2="952.0" stroke="#050509" stroke-width="1.8" stroke-linecap="butt"/><path d="M706.2,952.0 L714.2,947.0 L714.2,957.0 Z" fill="#050509"/><line x1="716.7" y1="952.0" x2="712.2" y2="952.0" stroke="#050509" stroke-width="1.8" stroke-linecap="butt"/><rect x="764.0" y="859.0" width="110.7" height="195.0" rx="3" fill="#050509"/><rect x="783.0" y="960.7" width="5.3" height="25.3" rx="0" fill="#8fa452"/><rect x="850.4" y="962.7" width="4.9" height="6.0" rx="0" fill="#8fa452"/><rect x="777.0" y="879.6" width="11.3" height="165.7" rx="0" fill="#d4d4d6"/><rect x="850.4" y="879.6" width="11.2" height="165.7" rx="0" fill="#d4d4d6"/><rect x="783.0" y="960.7" width="5.3" height="25.3" rx="0" fill="#8fa452"/><rect x="850.4" y="962.7" width="4.9" height="6.0" rx="0" fill="#8fa452"/><text x="783.3" y="873.7" font-size="12.5" text-anchor="middle" fill="#dcdcde" textLength="26.7" lengthAdjust="spacingAndGlyphs">SUIT</text><text x="819.3" y="873.7" font-size="12.5" text-anchor="middle" fill="#dcdcde" textLength="27" lengthAdjust="spacingAndGlyphs">PSIA</text><text x="855.0" y="873.7" font-size="12.5" text-anchor="middle" fill="#dcdcde" textLength="37.3" lengthAdjust="spacingAndGlyphs">CABIN</text><line x1="788.3" y1="886.0" x2="799.3" y2="886.0" stroke="#d6d6d8" stroke-width="1.3" stroke-linecap="butt"/><line x1="850.4" y1="886.0" x2="839.4" y2="886.0" stroke="#d6d6d8" stroke-width="1.3" stroke-linecap="butt"/><line x1="788.3" y1="893.6" x2="793.3" y2="893.6" stroke="#d6d6d8" stroke-width="1.3" stroke-linecap="butt"/><line x1="850.4" y1="893.6" x2="845.4" y2="893.6" stroke="#d6d6d8" stroke-width="1.3" stroke-linecap="butt"/><line x1="788.3" y1="901.3" x2="799.3" y2="901.3" stroke="#d6d6d8" stroke-width="1.3" stroke-linecap="butt"/><line x1="850.4" y1="901.3" x2="839.4" y2="901.3" stroke="#d6d6d8" stroke-width="1.3" stroke-linecap="butt"/><line x1="788.3" y1="908.9" x2="793.3" y2="908.9" stroke="#d6d6d8" stroke-width="1.3" stroke-linecap="butt"/><line x1="850.4" y1="908.9" x2="845.4" y2="908.9" stroke="#d6d6d8" stroke-width="1.3" stroke-linecap="butt"/><line x1="788.3" y1="916.5" x2="799.3" y2="916.5" stroke="#d6d6d8" stroke-width="1.3" stroke-linecap="butt"/><line x1="850.4" y1="916.5" x2="839.4" y2="916.5" stroke="#d6d6d8" stroke-width="1.3" stroke-linecap="butt"/><line x1="788.3" y1="924.2" x2="793.3" y2="924.2" stroke="#d6d6d8" stroke-width="1.3" stroke-linecap="butt"/><line x1="850.4" y1="924.2" x2="845.4" y2="924.2" stroke="#d6d6d8" stroke-width="1.3" stroke-linecap="butt"/><line x1="788.3" y1="931.8" x2="799.3" y2="931.8" stroke="#d6d6d8" stroke-width="1.3" stroke-linecap="butt"/><line x1="850.4" y1="931.8" x2="839.4" y2="931.8" stroke="#d6d6d8" stroke-width="1.3" stroke-linecap="butt"/><line x1="788.3" y1="939.4" x2="793.3" y2="939.4" stroke="#d6d6d8" stroke-width="1.3" stroke-linecap="butt"/><line x1="850.4" y1="939.4" x2="845.4" y2="939.4" stroke="#d6d6d8" stroke-width="1.3" stroke-linecap="butt"/><line x1="788.3" y1="947.1" x2="799.3" y2="947.1" stroke="#d6d6d8" stroke-width="1.3" stroke-linecap="butt"/><line x1="850.4" y1="947.1" x2="839.4" y2="947.1" stroke="#d6d6d8" stroke-width="1.3" stroke-linecap="butt"/><line x1="788.3" y1="954.7" x2="793.3" y2="954.7" stroke="#d6d6d8" stroke-width="1.3" stroke-linecap="butt"/><line x1="850.4" y1="954.7" x2="845.4" y2="954.7" stroke="#d6d6d8" stroke-width="1.3" stroke-linecap="butt"/><line x1="788.3" y1="962.4" x2="799.3" y2="962.4" stroke="#d6d6d8" stroke-width="1.3" stroke-linecap="butt"/><line x1="850.4" y1="962.4" x2="839.4" y2="962.4" stroke="#d6d6d8" stroke-width="1.3" stroke-linecap="butt"/><line x1="788.3" y1="970.0" x2="793.3" y2="970.0" stroke="#d6d6d8" stroke-width="1.3" stroke-linecap="butt"/><line x1="850.4" y1="970.0" x2="845.4" y2="970.0" stroke="#d6d6d8" stroke-width="1.3" stroke-linecap="butt"/><line x1="788.3" y1="977.6" x2="799.3" y2="977.6" stroke="#d6d6d8" stroke-width="1.3" stroke-linecap="butt"/><line x1="850.4" y1="977.6" x2="839.4" y2="977.6" stroke="#d6d6d8" stroke-width="1.3" stroke-linecap="butt"/><line x1="788.3" y1="985.3" x2="793.3" y2="985.3" stroke="#d6d6d8" stroke-width="1.3" stroke-linecap="butt"/><line x1="850.4" y1="985.3" x2="845.4" y2="985.3" stroke="#d6d6d8" stroke-width="1.3" stroke-linecap="butt"/><line x1="788.3" y1="992.9" x2="799.3" y2="992.9" stroke="#d6d6d8" stroke-width="1.3" stroke-linecap="butt"/><line x1="850.4" y1="992.9" x2="839.4" y2="992.9" stroke="#d6d6d8" stroke-width="1.3" stroke-linecap="butt"/><line x1="788.3" y1="1000.5" x2="793.3" y2="1000.5" stroke="#d6d6d8" stroke-width="1.3" stroke-linecap="butt"/><line x1="850.4" y1="1000.5" x2="845.4" y2="1000.5" stroke="#d6d6d8" stroke-width="1.3" stroke-linecap="butt"/><line x1="788.3" y1="1008.2" x2="799.3" y2="1008.2" stroke="#d6d6d8" stroke-width="1.3" stroke-linecap="butt"/><line x1="850.4" y1="1008.2" x2="839.4" y2="1008.2" stroke="#d6d6d8" stroke-width="1.3" stroke-linecap="butt"/><line x1="788.3" y1="1015.8" x2="793.3" y2="1015.8" stroke="#d6d6d8" stroke-width="1.3" stroke-linecap="butt"/><line x1="850.4" y1="1015.8" x2="845.4" y2="1015.8" stroke="#d6d6d8" stroke-width="1.3" stroke-linecap="butt"/><line x1="788.3" y1="1023.4" x2="799.3" y2="1023.4" stroke="#d6d6d8" stroke-width="1.3" stroke-linecap="butt"/><line x1="850.4" y1="1023.4" x2="839.4" y2="1023.4" stroke="#d6d6d8" stroke-width="1.3" stroke-linecap="butt"/><line x1="788.3" y1="1031.1" x2="793.3" y2="1031.1" stroke="#d6d6d8" stroke-width="1.3" stroke-linecap="butt"/><line x1="850.4" y1="1031.1" x2="845.4" y2="1031.1" stroke="#d6d6d8" stroke-width="1.3" stroke-linecap="butt"/><line x1="788.3" y1="1038.7" x2="799.3" y2="1038.7" stroke="#d6d6d8" stroke-width="1.3" stroke-linecap="butt"/><line x1="850.4" y1="1038.7" x2="839.4" y2="1038.7" stroke="#d6d6d8" stroke-width="1.3" stroke-linecap="butt"/><text x="819.3" y="890.9" font-size="14.5" text-anchor="middle" fill="#dcdcde">10</text><text x="819.3" y="921.4" font-size="14.5" text-anchor="middle" fill="#dcdcde">8</text><text x="819.3" y="952.0" font-size="14.5" text-anchor="middle" fill="#dcdcde">6</text><text x="819.3" y="982.5" font-size="14.5" text-anchor="middle" fill="#dcdcde">4</text><text x="819.3" y="1013.1" font-size="14.5" text-anchor="middle" fill="#dcdcde">2</text><text x="819.3" y="1043.6" font-size="14.5" text-anchor="middle" fill="#dcdcde">0</text><path d="M787.8,886.0 L779.8,881.0 L779.8,891.0 Z" fill="#050509"/><line x1="777.3" y1="886.0" x2="781.8" y2="886.0" stroke="#050509" stroke-width="1.8" stroke-linecap="butt"/><path d="M850.9,886.0 L858.9,881.0 L858.9,891.0 Z" fill="#050509"/><line x1="861.4" y1="886.0" x2="856.9" y2="886.0" stroke="#050509" stroke-width="1.8" stroke-linecap="butt"/><rect x="983.2" y="859.0" width="65.3" height="194.9" rx="3" fill="#050509"/><rect x="1027.6" y="879.8" width="11.2" height="161.6" rx="0" fill="#d4d4d6"/><rect x="1027.6" y="970.0" width="5.2" height="67.8" rx="0" fill="#8fa452"/><text x="998.6" y="873.6" font-size="12.5" text-anchor="middle" fill="#dcdcde" textLength="21" lengthAdjust="spacingAndGlyphs">MM</text><text x="1033.1" y="873.6" font-size="12.5" text-anchor="middle" fill="#dcdcde">Hg</text><line x1="1016.9" y1="885.5" x2="1027.6" y2="885.5" stroke="#d6d6d8" stroke-width="1.3" stroke-linecap="butt"/><text x="1012.7" y="890.4" font-size="14.5" text-anchor="end" fill="#dcdcde">30</text><line x1="1016.9" y1="906.4" x2="1027.6" y2="906.4" stroke="#d6d6d8" stroke-width="1.3" stroke-linecap="butt"/><text x="1012.7" y="911.3" font-size="14.5" text-anchor="end" fill="#dcdcde">20</text><line x1="1016.9" y1="929.0" x2="1027.6" y2="929.0" stroke="#d6d6d8" stroke-width="1.3" stroke-linecap="butt"/><text x="1012.7" y="933.9" font-size="14.5" text-anchor="end" fill="#dcdcde">15</text><line x1="1016.9" y1="954.4" x2="1027.6" y2="954.4" stroke="#d6d6d8" stroke-width="1.3" stroke-linecap="butt"/><text x="1012.7" y="959.3" font-size="14.5" text-anchor="end" fill="#dcdcde">10</text><line x1="1016.9" y1="982.0" x2="1027.6" y2="982.0" stroke="#d6d6d8" stroke-width="1.3" stroke-linecap="butt"/><text x="1012.7" y="986.9" font-size="14.5" text-anchor="end" fill="#dcdcde">5</text><line x1="1016.9" y1="1039.3" x2="1027.6" y2="1039.3" stroke="#d6d6d8" stroke-width="1.3" stroke-linecap="butt"/><text x="1012.7" y="1044.2" font-size="14.5" text-anchor="end" fill="#dcdcde">0</text><line x1="1022.4" y1="959.6" x2="1027.6" y2="959.6" stroke="#d6d6d8" stroke-width="1.3" stroke-linecap="butt"/><line x1="1022.4" y1="964.8" x2="1027.6" y2="964.8" stroke="#d6d6d8" stroke-width="1.3" stroke-linecap="butt"/><line x1="1022.4" y1="970.0" x2="1027.6" y2="970.0" stroke="#d6d6d8" stroke-width="1.3" stroke-linecap="butt"/><line x1="1022.4" y1="975.2" x2="1027.6" y2="975.2" stroke="#d6d6d8" stroke-width="1.3" stroke-linecap="butt"/><line x1="1022.4" y1="989.4" x2="1027.6" y2="989.4" stroke="#d6d6d8" stroke-width="1.3" stroke-linecap="butt"/><line x1="1022.4" y1="996.8" x2="1027.6" y2="996.8" stroke="#d6d6d8" stroke-width="1.3" stroke-linecap="butt"/><line x1="1022.4" y1="1005.8" x2="1027.6" y2="1005.8" stroke="#d6d6d8" stroke-width="1.3" stroke-linecap="butt"/><line x1="1022.4" y1="1018.4" x2="1027.6" y2="1018.4" stroke="#d6d6d8" stroke-width="1.3" stroke-linecap="butt"/><path d="M1028.1,1039.3 L1036.1,1034.3 L1036.1,1044.3 Z" fill="#050509"/><line x1="1038.6" y1="1039.3" x2="1034.1" y2="1039.3" stroke="#050509" stroke-width="1.8" stroke-linecap="butt"/><text x="674.8" y="1101.6" font-size="15.4" text-anchor="middle" stroke="#222226" stroke-width="0.45" textLength="61.5" lengthAdjust="spacingAndGlyphs">GLYCOL</text><text x="819.4" y="1101.6" font-size="15.4" text-anchor="middle" stroke="#222226" stroke-width="0.45" textLength="82.8" lengthAdjust="spacingAndGlyphs">QUANTITY</text><path d="M596,1142 Q596,1132.7 605,1132.7 L659.4,1132.7 Q663.4,1132.7 663.4,1128.7 L663.4,1113.8 Q663.4,1111.8 665.4,1111.8 L683.9,1111.8 Q685.9,1111.8 685.9,1113.8 L685.9,1128.7 Q685.9,1132.7 689.9,1132.7 L804.4,1132.7 Q808.4,1132.7 808.4,1128.7 L808.4,1113.8 Q808.4,1111.8 810.4,1111.8 L828.8,1111.8 Q830.8,1111.8 830.8,1113.8 L830.8,1128.7 Q830.8,1132.7 834.8,1132.7 L880,1132.7 Q886,1132.7 890,1126 L896,1118 Q900,1112.6 907,1112.6 L1022.8,1112.6 Q1026.8,1112.6 1026.8,1108.6 L1026.8,1094 Q1026.8,1092 1028.8,1092 L1045.7,1092 Q1047.7,1092 1047.7,1094 L1047.7,1108.6 Q1047.7,1112.6 1051.7,1112.6 L1174.5,1112.6 Q1184.5,1112.6 1184.5,1122.6 L1184.5,1387.5 Q1184.5,1397.5 1174.5,1397.5 L907,1397.5 Q900,1397.5 896,1392 L890,1384 Q886,1377 880,1377 L605,1377 Q596,1377 596,1368 Z" fill="none" stroke="#222226" stroke-width="2.6"/><rect x="667.4" y="1115.3" width="14.5" height="14.9" rx="0" fill="#6e0000"/><rect x="812.4" y="1115.3" width="14.4" height="14.9" rx="0" fill="#6e0000"/><rect x="1030.8" y="1095.5" width="12.9" height="14.6" rx="0" fill="#6e0000"/><rect x="608.3" y="1145.4" width="132.6" height="221.0" rx="4" fill="none" stroke="#222226" stroke-width="2.4"/><rect x="753.4" y="1145.4" width="132.1" height="221.0" rx="4" fill="none" stroke="#222226" stroke-width="2.4"/><rect x="903.0" y="1125.2" width="269.4" height="261.5" rx="8" fill="none" stroke="#222226" stroke-width="2.4"/><rect x="620.0" y="1158.8" width="110.0" height="194.9" rx="3" fill="#050509"/><rect x="632.5" y="1179.0" width="11.5" height="166.0" rx="0" fill="#d4d4d6"/><rect x="705.5" y="1179.0" width="11.6" height="166.0" rx="0" fill="#d4d4d6"/><rect x="638.7" y="1243.2" width="5.3" height="31.1" rx="0" fill="#8fa452"/><rect x="705.5" y="1252.5" width="5.3" height="57.1" rx="0" fill="#8fa452"/><text x="638.3" y="1173.5" font-size="12.5" text-anchor="middle" fill="#dcdcde">°F</text><text x="711.2" y="1173.5" font-size="12.5" text-anchor="middle" fill="#dcdcde" textLength="27" lengthAdjust="spacingAndGlyphs">PSIA</text><line x1="644.0" y1="1185.5" x2="655.0" y2="1185.5" stroke="#d6d6d8" stroke-width="1.3" stroke-linecap="butt"/><line x1="705.5" y1="1185.5" x2="694.5" y2="1185.5" stroke="#d6d6d8" stroke-width="1.3" stroke-linecap="butt"/><line x1="644.0" y1="1195.0" x2="649.0" y2="1195.0" stroke="#d6d6d8" stroke-width="1.3" stroke-linecap="butt"/><line x1="705.5" y1="1195.0" x2="700.5" y2="1195.0" stroke="#d6d6d8" stroke-width="1.3" stroke-linecap="butt"/><line x1="644.0" y1="1204.6" x2="655.0" y2="1204.6" stroke="#d6d6d8" stroke-width="1.3" stroke-linecap="butt"/><line x1="705.5" y1="1204.6" x2="694.5" y2="1204.6" stroke="#d6d6d8" stroke-width="1.3" stroke-linecap="butt"/><line x1="644.0" y1="1214.2" x2="649.0" y2="1214.2" stroke="#d6d6d8" stroke-width="1.3" stroke-linecap="butt"/><line x1="705.5" y1="1214.2" x2="700.5" y2="1214.2" stroke="#d6d6d8" stroke-width="1.3" stroke-linecap="butt"/><line x1="644.0" y1="1223.7" x2="655.0" y2="1223.7" stroke="#d6d6d8" stroke-width="1.3" stroke-linecap="butt"/><line x1="705.5" y1="1223.7" x2="694.5" y2="1223.7" stroke="#d6d6d8" stroke-width="1.3" stroke-linecap="butt"/><line x1="644.0" y1="1233.2" x2="649.0" y2="1233.2" stroke="#d6d6d8" stroke-width="1.3" stroke-linecap="butt"/><line x1="705.5" y1="1233.2" x2="700.5" y2="1233.2" stroke="#d6d6d8" stroke-width="1.3" stroke-linecap="butt"/><line x1="644.0" y1="1242.8" x2="655.0" y2="1242.8" stroke="#d6d6d8" stroke-width="1.3" stroke-linecap="butt"/><line x1="705.5" y1="1242.8" x2="694.5" y2="1242.8" stroke="#d6d6d8" stroke-width="1.3" stroke-linecap="butt"/><line x1="644.0" y1="1252.3" x2="649.0" y2="1252.3" stroke="#d6d6d8" stroke-width="1.3" stroke-linecap="butt"/><line x1="705.5" y1="1252.3" x2="700.5" y2="1252.3" stroke="#d6d6d8" stroke-width="1.3" stroke-linecap="butt"/><line x1="644.0" y1="1261.9" x2="655.0" y2="1261.9" stroke="#d6d6d8" stroke-width="1.3" stroke-linecap="butt"/><line x1="705.5" y1="1261.9" x2="694.5" y2="1261.9" stroke="#d6d6d8" stroke-width="1.3" stroke-linecap="butt"/><line x1="644.0" y1="1271.5" x2="649.0" y2="1271.5" stroke="#d6d6d8" stroke-width="1.3" stroke-linecap="butt"/><line x1="705.5" y1="1271.5" x2="700.5" y2="1271.5" stroke="#d6d6d8" stroke-width="1.3" stroke-linecap="butt"/><line x1="644.0" y1="1281.0" x2="655.0" y2="1281.0" stroke="#d6d6d8" stroke-width="1.3" stroke-linecap="butt"/><line x1="705.5" y1="1281.0" x2="694.5" y2="1281.0" stroke="#d6d6d8" stroke-width="1.3" stroke-linecap="butt"/><line x1="644.0" y1="1290.5" x2="649.0" y2="1290.5" stroke="#d6d6d8" stroke-width="1.3" stroke-linecap="butt"/><line x1="705.5" y1="1290.5" x2="700.5" y2="1290.5" stroke="#d6d6d8" stroke-width="1.3" stroke-linecap="butt"/><line x1="644.0" y1="1300.1" x2="655.0" y2="1300.1" stroke="#d6d6d8" stroke-width="1.3" stroke-linecap="butt"/><line x1="705.5" y1="1300.1" x2="694.5" y2="1300.1" stroke="#d6d6d8" stroke-width="1.3" stroke-linecap="butt"/><line x1="644.0" y1="1309.6" x2="649.0" y2="1309.6" stroke="#d6d6d8" stroke-width="1.3" stroke-linecap="butt"/><line x1="705.5" y1="1309.6" x2="700.5" y2="1309.6" stroke="#d6d6d8" stroke-width="1.3" stroke-linecap="butt"/><line x1="644.0" y1="1319.2" x2="655.0" y2="1319.2" stroke="#d6d6d8" stroke-width="1.3" stroke-linecap="butt"/><line x1="705.5" y1="1319.2" x2="694.5" y2="1319.2" stroke="#d6d6d8" stroke-width="1.3" stroke-linecap="butt"/><line x1="644.0" y1="1328.8" x2="649.0" y2="1328.8" stroke="#d6d6d8" stroke-width="1.3" stroke-linecap="butt"/><line x1="705.5" y1="1328.8" x2="700.5" y2="1328.8" stroke="#d6d6d8" stroke-width="1.3" stroke-linecap="butt"/><line x1="644.0" y1="1338.3" x2="655.0" y2="1338.3" stroke="#d6d6d8" stroke-width="1.3" stroke-linecap="butt"/><line x1="705.5" y1="1338.3" x2="694.5" y2="1338.3" stroke="#d6d6d8" stroke-width="1.3" stroke-linecap="butt"/><text x="674.8" y="1190.4" font-size="14.5" text-anchor="middle" fill="#dcdcde">80</text><text x="674.8" y="1228.6" font-size="14.5" text-anchor="middle" fill="#dcdcde">60</text><text x="674.8" y="1266.8" font-size="14.5" text-anchor="middle" fill="#dcdcde">40</text><text x="674.8" y="1305.0" font-size="14.5" text-anchor="middle" fill="#dcdcde">20</text><text x="674.8" y="1343.2" font-size="14.5" text-anchor="middle" fill="#dcdcde">0</text><path d="M643.5,1194.8 L635.5,1189.8 L635.5,1199.8 Z" fill="#050509"/><line x1="633.0" y1="1194.8" x2="637.5" y2="1194.8" stroke="#050509" stroke-width="1.8" stroke-linecap="butt"/><path d="M706.0,1290.3 L714.0,1285.3 L714.0,1295.3 Z" fill="#050509"/><line x1="716.5" y1="1290.3" x2="712.0" y2="1290.3" stroke="#050509" stroke-width="1.8" stroke-linecap="butt"/><rect x="764.3" y="1158.8" width="110.3" height="194.9" rx="3" fill="#050509"/><rect x="777.1" y="1179.0" width="11.2" height="166.0" rx="0" fill="#d4d4d6"/><text x="782.7" y="1173.5" font-size="12.5" text-anchor="middle" fill="#dcdcde">O<tspan font-size="9" dy="3">2</tspan></text><text x="819.4" y="1173.5" font-size="12.5" text-anchor="middle" fill="#dcdcde">%</text><text x="855.9" y="1173.5" font-size="12.5" text-anchor="middle" fill="#dcdcde">H<tspan font-size="9" dy="3">2</tspan><tspan dy="-3">O</tspan></text><line x1="788.3" y1="1185.5" x2="799.3" y2="1185.5" stroke="#d6d6d8" stroke-width="1.3" stroke-linecap="butt"/><line x1="788.3" y1="1193.1" x2="793.3" y2="1193.1" stroke="#d6d6d8" stroke-width="1.3" stroke-linecap="butt"/><line x1="788.3" y1="1200.8" x2="799.3" y2="1200.8" stroke="#d6d6d8" stroke-width="1.3" stroke-linecap="butt"/><line x1="788.3" y1="1208.4" x2="793.3" y2="1208.4" stroke="#d6d6d8" stroke-width="1.3" stroke-linecap="butt"/><line x1="788.3" y1="1216.1" x2="799.3" y2="1216.1" stroke="#d6d6d8" stroke-width="1.3" stroke-linecap="butt"/><line x1="788.3" y1="1223.7" x2="793.3" y2="1223.7" stroke="#d6d6d8" stroke-width="1.3" stroke-linecap="butt"/><line x1="788.3" y1="1231.3" x2="799.3" y2="1231.3" stroke="#d6d6d8" stroke-width="1.3" stroke-linecap="butt"/><line x1="788.3" y1="1239.0" x2="793.3" y2="1239.0" stroke="#d6d6d8" stroke-width="1.3" stroke-linecap="butt"/><line x1="788.3" y1="1246.6" x2="799.3" y2="1246.6" stroke="#d6d6d8" stroke-width="1.3" stroke-linecap="butt"/><line x1="788.3" y1="1254.3" x2="793.3" y2="1254.3" stroke="#d6d6d8" stroke-width="1.3" stroke-linecap="butt"/><line x1="788.3" y1="1261.9" x2="799.3" y2="1261.9" stroke="#d6d6d8" stroke-width="1.3" stroke-linecap="butt"/><line x1="788.3" y1="1269.5" x2="793.3" y2="1269.5" stroke="#d6d6d8" stroke-width="1.3" stroke-linecap="butt"/><line x1="788.3" y1="1277.2" x2="799.3" y2="1277.2" stroke="#d6d6d8" stroke-width="1.3" stroke-linecap="butt"/><line x1="788.3" y1="1284.8" x2="793.3" y2="1284.8" stroke="#d6d6d8" stroke-width="1.3" stroke-linecap="butt"/><line x1="788.3" y1="1292.5" x2="799.3" y2="1292.5" stroke="#d6d6d8" stroke-width="1.3" stroke-linecap="butt"/><line x1="788.3" y1="1300.1" x2="793.3" y2="1300.1" stroke="#d6d6d8" stroke-width="1.3" stroke-linecap="butt"/><line x1="788.3" y1="1307.7" x2="799.3" y2="1307.7" stroke="#d6d6d8" stroke-width="1.3" stroke-linecap="butt"/><line x1="788.3" y1="1315.4" x2="793.3" y2="1315.4" stroke="#d6d6d8" stroke-width="1.3" stroke-linecap="butt"/><line x1="788.3" y1="1323.0" x2="799.3" y2="1323.0" stroke="#d6d6d8" stroke-width="1.3" stroke-linecap="butt"/><line x1="788.3" y1="1330.7" x2="793.3" y2="1330.7" stroke="#d6d6d8" stroke-width="1.3" stroke-linecap="butt"/><line x1="788.3" y1="1338.3" x2="799.3" y2="1338.3" stroke="#d6d6d8" stroke-width="1.3" stroke-linecap="butt"/><text x="819.4" y="1190.4" font-size="14.5" text-anchor="middle" fill="#dcdcde">100</text><text x="819.4" y="1221.0" font-size="14.5" text-anchor="middle" fill="#dcdcde">80</text><text x="819.4" y="1251.5" font-size="14.5" text-anchor="middle" fill="#dcdcde">60</text><text x="819.4" y="1282.1" font-size="14.5" text-anchor="middle" fill="#dcdcde">40</text><text x="819.4" y="1312.6" font-size="14.5" text-anchor="middle" fill="#dcdcde">20</text><text x="819.4" y="1343.2" font-size="14.5" text-anchor="middle" fill="#dcdcde">0</text><path d="M787.8,1185.5 L779.8,1180.5 L779.8,1190.5 Z" fill="#050509"/><line x1="777.3" y1="1185.5" x2="781.8" y2="1185.5" stroke="#050509" stroke-width="1.8" stroke-linecap="butt"/><rect x="823.4" y="1177.2" width="26.3" height="169.8" rx="0" fill="#141416"/><rect x="850.1" y="1179.0" width="11.1" height="166.0" rx="0" fill="#d4d4d6"/><rect x="861.8" y="1177.2" width="12.4" height="169.8" rx="0" fill="#141416"/><rect x="875.9" y="1177.2" width="6.7" height="169.8" rx="0" fill="#1a1a1c"/><text x="842.8" y="1187.9" font-size="8.5" text-anchor="middle" fill="#dcdcde">A</text><text x="842.8" y="1196.8" font-size="8.5" text-anchor="middle" fill="#dcdcde">S</text><text x="842.8" y="1205.8" font-size="8.5" text-anchor="middle" fill="#dcdcde">C</text><text x="879.3" y="1187.9" font-size="8.5" text-anchor="middle" fill="#dcdcde">D</text><text x="879.3" y="1196.8" font-size="8.5" text-anchor="middle" fill="#dcdcde">E</text><text x="879.3" y="1205.8" font-size="8.5" text-anchor="middle" fill="#dcdcde">S</text><line x1="849.7" y1="1216.2" x2="839.0" y2="1216.2" stroke="#d6d6d8" stroke-width="1.3" stroke-linecap="butt"/><line x1="849.7" y1="1246.6" x2="844.7" y2="1246.6" stroke="#d6d6d8" stroke-width="1.3" stroke-linecap="butt"/><line x1="849.7" y1="1261.8" x2="844.7" y2="1261.8" stroke="#d6d6d8" stroke-width="1.3" stroke-linecap="butt"/><line x1="849.7" y1="1273.3" x2="844.7" y2="1273.3" stroke="#d6d6d8" stroke-width="1.3" stroke-linecap="butt"/><line x1="849.7" y1="1280.5" x2="844.7" y2="1280.5" stroke="#d6d6d8" stroke-width="1.3" stroke-linecap="butt"/><line x1="849.7" y1="1288.3" x2="839.0" y2="1288.3" stroke="#d6d6d8" stroke-width="1.3" stroke-linecap="butt"/><line x1="849.7" y1="1307.6" x2="839.0" y2="1307.6" stroke="#d6d6d8" stroke-width="1.3" stroke-linecap="butt"/><text x="836.5" y="1219.5" font-size="9" text-anchor="end" fill="#dcdcde">10</text><text x="836.5" y="1291.6" font-size="9" text-anchor="end" fill="#dcdcde">5</text><text x="836.5" y="1310.9" font-size="9" text-anchor="end" fill="#dcdcde">0</text><path d="M850.6,1216.2 L858.6,1211.2 L858.6,1221.2 Z" fill="#050509"/><line x1="861.1" y1="1216.2" x2="856.6" y2="1216.2" stroke="#050509" stroke-width="1.8" stroke-linecap="butt"/><line x1="864.2" y1="1220.0" x2="874.8" y2="1220.0" stroke="#d6d6d8" stroke-width="1.3" stroke-linecap="butt"/><line x1="864.2" y1="1228.0" x2="874.8" y2="1228.0" stroke="#d6d6d8" stroke-width="1.3" stroke-linecap="butt"/><line x1="864.2" y1="1235.1" x2="874.8" y2="1235.1" stroke="#d6d6d8" stroke-width="1.3" stroke-linecap="butt"/><line x1="864.2" y1="1242.9" x2="874.8" y2="1242.9" stroke="#d6d6d8" stroke-width="1.3" stroke-linecap="butt"/><line x1="864.2" y1="1246.6" x2="874.8" y2="1246.6" stroke="#d6d6d8" stroke-width="1.3" stroke-linecap="butt"/><line x1="864.2" y1="1250.2" x2="874.8" y2="1250.2" stroke="#d6d6d8" stroke-width="1.3" stroke-linecap="butt"/><line x1="864.2" y1="1269.6" x2="874.8" y2="1269.6" stroke="#d6d6d8" stroke-width="1.3" stroke-linecap="butt"/><text x="879.3" y="1223.3" font-size="8" text-anchor="middle" fill="#dcdcde" font-weight="normal" textLength="6" lengthAdjust="spacingAndGlyphs">10</text><text x="879.3" y="1254.3" font-size="8" text-anchor="middle" fill="#dcdcde" font-weight="normal">5</text><text x="879.3" y="1273.3" font-size="8" text-anchor="middle" fill="#dcdcde" font-weight="normal">0</text><line x1="823.4" y1="1231.5" x2="863.5" y2="1231.5" stroke="#d8a030" stroke-width="1.5" stroke-linecap="butt"/><line x1="850.1" y1="1264.0" x2="882.6" y2="1264.0" stroke="#d8a030" stroke-width="1.5" stroke-linecap="butt"/><rect x="801.1" y="1355.0" width="36.4" height="8.7" rx="1.5" fill="#2a2a2e"/><text x="819.4" y="1362.8" font-size="9" text-anchor="middle" fill="#dcdcde" font-weight="normal">×10</text><rect x="827.0" y="1382.4" width="43.6" height="14.0" rx="1.5" fill="#2a2a2e"/><text x="848.8" y="1394.5" font-size="13" text-anchor="middle" fill="#e8e8e8" textLength="38" lengthAdjust="spacingAndGlyphs">±20 %</text><rect x="912.1" y="1134.0" width="251.0" height="243.4" rx="3" fill="#050509"/><rect x="957.8" y="1143.3" width="194.0" height="185.2" rx="0" fill="#cbcbcd"/><line x1="1055.0" y1="1146.5" x2="1055.0" y2="1326.0" stroke="#7a7a7c" stroke-width="1.3" stroke-linecap="butt"/><line x1="960.8" y1="1236.1" x2="1149.0" y2="1236.1" stroke="#7a7a7c" stroke-width="1.3" stroke-linecap="butt"/><line x1="957.8" y1="1151.5" x2="946.5" y2="1151.5" stroke="#d6d6d8" stroke-width="1.2" stroke-linecap="butt"/><line x1="957.8" y1="1155.7" x2="951.5" y2="1155.7" stroke="#d6d6d8" stroke-width="1.2" stroke-linecap="butt"/><line x1="957.8" y1="1160.0" x2="951.5" y2="1160.0" stroke="#d6d6d8" stroke-width="1.2" stroke-linecap="butt"/><line x1="957.8" y1="1164.2" x2="951.5" y2="1164.2" stroke="#d6d6d8" stroke-width="1.2" stroke-linecap="butt"/><line x1="957.8" y1="1168.4" x2="951.5" y2="1168.4" stroke="#d6d6d8" stroke-width="1.2" stroke-linecap="butt"/><line x1="957.8" y1="1172.6" x2="946.5" y2="1172.6" stroke="#d6d6d8" stroke-width="1.2" stroke-linecap="butt"/><line x1="957.8" y1="1176.8" x2="951.5" y2="1176.8" stroke="#d6d6d8" stroke-width="1.2" stroke-linecap="butt"/><line x1="957.8" y1="1181.1" x2="951.5" y2="1181.1" stroke="#d6d6d8" stroke-width="1.2" stroke-linecap="butt"/><line x1="957.8" y1="1185.3" x2="951.5" y2="1185.3" stroke="#d6d6d8" stroke-width="1.2" stroke-linecap="butt"/><line x1="957.8" y1="1189.5" x2="951.5" y2="1189.5" stroke="#d6d6d8" stroke-width="1.2" stroke-linecap="butt"/><line x1="957.8" y1="1193.8" x2="946.5" y2="1193.8" stroke="#d6d6d8" stroke-width="1.2" stroke-linecap="butt"/><line x1="957.8" y1="1198.0" x2="951.5" y2="1198.0" stroke="#d6d6d8" stroke-width="1.2" stroke-linecap="butt"/><line x1="957.8" y1="1202.2" x2="951.5" y2="1202.2" stroke="#d6d6d8" stroke-width="1.2" stroke-linecap="butt"/><line x1="957.8" y1="1206.4" x2="951.5" y2="1206.4" stroke="#d6d6d8" stroke-width="1.2" stroke-linecap="butt"/><line x1="957.8" y1="1210.7" x2="951.5" y2="1210.7" stroke="#d6d6d8" stroke-width="1.2" stroke-linecap="butt"/><line x1="957.8" y1="1214.9" x2="946.5" y2="1214.9" stroke="#d6d6d8" stroke-width="1.2" stroke-linecap="butt"/><line x1="957.8" y1="1219.1" x2="951.5" y2="1219.1" stroke="#d6d6d8" stroke-width="1.2" stroke-linecap="butt"/><line x1="957.8" y1="1223.3" x2="951.5" y2="1223.3" stroke="#d6d6d8" stroke-width="1.2" stroke-linecap="butt"/><line x1="957.8" y1="1227.5" x2="951.5" y2="1227.5" stroke="#d6d6d8" stroke-width="1.2" stroke-linecap="butt"/><line x1="957.8" y1="1231.8" x2="951.5" y2="1231.8" stroke="#d6d6d8" stroke-width="1.2" stroke-linecap="butt"/><line x1="957.8" y1="1236.0" x2="946.5" y2="1236.0" stroke="#d6d6d8" stroke-width="1.2" stroke-linecap="butt"/><line x1="957.8" y1="1240.2" x2="951.5" y2="1240.2" stroke="#d6d6d8" stroke-width="1.2" stroke-linecap="butt"/><line x1="957.8" y1="1244.5" x2="951.5" y2="1244.5" stroke="#d6d6d8" stroke-width="1.2" stroke-linecap="butt"/><line x1="957.8" y1="1248.7" x2="951.5" y2="1248.7" stroke="#d6d6d8" stroke-width="1.2" stroke-linecap="butt"/><line x1="957.8" y1="1252.9" x2="951.5" y2="1252.9" stroke="#d6d6d8" stroke-width="1.2" stroke-linecap="butt"/><line x1="957.8" y1="1257.1" x2="946.5" y2="1257.1" stroke="#d6d6d8" stroke-width="1.2" stroke-linecap="butt"/><line x1="957.8" y1="1261.3" x2="951.5" y2="1261.3" stroke="#d6d6d8" stroke-width="1.2" stroke-linecap="butt"/><line x1="957.8" y1="1265.6" x2="951.5" y2="1265.6" stroke="#d6d6d8" stroke-width="1.2" stroke-linecap="butt"/><line x1="957.8" y1="1269.8" x2="951.5" y2="1269.8" stroke="#d6d6d8" stroke-width="1.2" stroke-linecap="butt"/><line x1="957.8" y1="1274.0" x2="951.5" y2="1274.0" stroke="#d6d6d8" stroke-width="1.2" stroke-linecap="butt"/><line x1="957.8" y1="1278.2" x2="946.5" y2="1278.2" stroke="#d6d6d8" stroke-width="1.2" stroke-linecap="butt"/><line x1="957.8" y1="1282.5" x2="951.5" y2="1282.5" stroke="#d6d6d8" stroke-width="1.2" stroke-linecap="butt"/><line x1="957.8" y1="1286.7" x2="951.5" y2="1286.7" stroke="#d6d6d8" stroke-width="1.2" stroke-linecap="butt"/><line x1="957.8" y1="1290.9" x2="951.5" y2="1290.9" stroke="#d6d6d8" stroke-width="1.2" stroke-linecap="butt"/><line x1="957.8" y1="1295.2" x2="951.5" y2="1295.2" stroke="#d6d6d8" stroke-width="1.2" stroke-linecap="butt"/><line x1="957.8" y1="1299.4" x2="946.5" y2="1299.4" stroke="#d6d6d8" stroke-width="1.2" stroke-linecap="butt"/><line x1="957.8" y1="1303.6" x2="951.5" y2="1303.6" stroke="#d6d6d8" stroke-width="1.2" stroke-linecap="butt"/><line x1="957.8" y1="1307.8" x2="951.5" y2="1307.8" stroke="#d6d6d8" stroke-width="1.2" stroke-linecap="butt"/><line x1="957.8" y1="1312.0" x2="951.5" y2="1312.0" stroke="#d6d6d8" stroke-width="1.2" stroke-linecap="butt"/><line x1="957.8" y1="1316.3" x2="951.5" y2="1316.3" stroke="#d6d6d8" stroke-width="1.2" stroke-linecap="butt"/><line x1="957.8" y1="1320.5" x2="946.5" y2="1320.5" stroke="#d6d6d8" stroke-width="1.2" stroke-linecap="butt"/><text x="944.0" y="1156.3" font-size="13.5" text-anchor="end" fill="#dcdcde" font-weight="normal" textLength="11.5" lengthAdjust="spacingAndGlyphs">20</text><text x="944.0" y="1177.4" font-size="13.5" text-anchor="end" fill="#dcdcde" font-weight="normal" textLength="11.5" lengthAdjust="spacingAndGlyphs">15</text><text x="944.0" y="1198.5" font-size="13.5" text-anchor="end" fill="#dcdcde" font-weight="normal" textLength="11.5" lengthAdjust="spacingAndGlyphs">10</text><text x="944.0" y="1219.7" font-size="13.5" text-anchor="end" fill="#dcdcde" font-weight="normal" textLength="6" lengthAdjust="spacingAndGlyphs">5</text><text x="944.0" y="1240.8" font-size="13.5" text-anchor="end" fill="#dcdcde" font-weight="normal" textLength="6" lengthAdjust="spacingAndGlyphs">0</text><text x="944.0" y="1261.9" font-size="13.5" text-anchor="end" fill="#dcdcde" font-weight="normal" textLength="6" lengthAdjust="spacingAndGlyphs">5</text><text x="944.0" y="1283.0" font-size="13.5" text-anchor="end" fill="#dcdcde" font-weight="normal" textLength="11.5" lengthAdjust="spacingAndGlyphs">10</text><text x="944.0" y="1304.2" font-size="13.5" text-anchor="end" fill="#dcdcde" font-weight="normal" textLength="11.5" lengthAdjust="spacingAndGlyphs">15</text><text x="944.0" y="1325.3" font-size="13.5" text-anchor="end" fill="#dcdcde" font-weight="normal" textLength="11.5" lengthAdjust="spacingAndGlyphs">20</text><line x1="969.6" y1="1328.5" x2="969.6" y2="1339.8" stroke="#d6d6d8" stroke-width="1.2" stroke-linecap="butt"/><line x1="973.8" y1="1328.5" x2="973.8" y2="1334.8" stroke="#d6d6d8" stroke-width="1.2" stroke-linecap="butt"/><line x1="978.1" y1="1328.5" x2="978.1" y2="1334.8" stroke="#d6d6d8" stroke-width="1.2" stroke-linecap="butt"/><line x1="982.3" y1="1328.5" x2="982.3" y2="1334.8" stroke="#d6d6d8" stroke-width="1.2" stroke-linecap="butt"/><line x1="986.6" y1="1328.5" x2="986.6" y2="1334.8" stroke="#d6d6d8" stroke-width="1.2" stroke-linecap="butt"/><line x1="990.8" y1="1328.5" x2="990.8" y2="1336.5" stroke="#d6d6d8" stroke-width="1.2" stroke-linecap="butt"/><line x1="995.1" y1="1328.5" x2="995.1" y2="1334.8" stroke="#d6d6d8" stroke-width="1.2" stroke-linecap="butt"/><line x1="999.3" y1="1328.5" x2="999.3" y2="1334.8" stroke="#d6d6d8" stroke-width="1.2" stroke-linecap="butt"/><line x1="1003.5" y1="1328.5" x2="1003.5" y2="1334.8" stroke="#d6d6d8" stroke-width="1.2" stroke-linecap="butt"/><line x1="1007.8" y1="1328.5" x2="1007.8" y2="1334.8" stroke="#d6d6d8" stroke-width="1.2" stroke-linecap="butt"/><line x1="1012.0" y1="1328.5" x2="1012.0" y2="1336.5" stroke="#d6d6d8" stroke-width="1.2" stroke-linecap="butt"/><line x1="1016.3" y1="1328.5" x2="1016.3" y2="1334.8" stroke="#d6d6d8" stroke-width="1.2" stroke-linecap="butt"/><line x1="1020.5" y1="1328.5" x2="1020.5" y2="1334.8" stroke="#d6d6d8" stroke-width="1.2" stroke-linecap="butt"/><line x1="1024.8" y1="1328.5" x2="1024.8" y2="1334.8" stroke="#d6d6d8" stroke-width="1.2" stroke-linecap="butt"/><line x1="1029.0" y1="1328.5" x2="1029.0" y2="1334.8" stroke="#d6d6d8" stroke-width="1.2" stroke-linecap="butt"/><line x1="1033.2" y1="1328.5" x2="1033.2" y2="1336.5" stroke="#d6d6d8" stroke-width="1.2" stroke-linecap="butt"/><line x1="1037.5" y1="1328.5" x2="1037.5" y2="1334.8" stroke="#d6d6d8" stroke-width="1.2" stroke-linecap="butt"/><line x1="1041.7" y1="1328.5" x2="1041.7" y2="1334.8" stroke="#d6d6d8" stroke-width="1.2" stroke-linecap="butt"/><line x1="1046.0" y1="1328.5" x2="1046.0" y2="1334.8" stroke="#d6d6d8" stroke-width="1.2" stroke-linecap="butt"/><line x1="1050.2" y1="1328.5" x2="1050.2" y2="1334.8" stroke="#d6d6d8" stroke-width="1.2" stroke-linecap="butt"/><line x1="1054.5" y1="1328.5" x2="1054.5" y2="1339.8" stroke="#d6d6d8" stroke-width="1.2" stroke-linecap="butt"/><line x1="1058.7" y1="1328.5" x2="1058.7" y2="1334.8" stroke="#d6d6d8" stroke-width="1.2" stroke-linecap="butt"/><line x1="1062.9" y1="1328.5" x2="1062.9" y2="1334.8" stroke="#d6d6d8" stroke-width="1.2" stroke-linecap="butt"/><line x1="1067.2" y1="1328.5" x2="1067.2" y2="1334.8" stroke="#d6d6d8" stroke-width="1.2" stroke-linecap="butt"/><line x1="1071.4" y1="1328.5" x2="1071.4" y2="1334.8" stroke="#d6d6d8" stroke-width="1.2" stroke-linecap="butt"/><line x1="1075.7" y1="1328.5" x2="1075.7" y2="1336.5" stroke="#d6d6d8" stroke-width="1.2" stroke-linecap="butt"/><line x1="1079.9" y1="1328.5" x2="1079.9" y2="1334.8" stroke="#d6d6d8" stroke-width="1.2" stroke-linecap="butt"/><line x1="1084.1" y1="1328.5" x2="1084.1" y2="1334.8" stroke="#d6d6d8" stroke-width="1.2" stroke-linecap="butt"/><line x1="1088.4" y1="1328.5" x2="1088.4" y2="1334.8" stroke="#d6d6d8" stroke-width="1.2" stroke-linecap="butt"/><line x1="1092.6" y1="1328.5" x2="1092.6" y2="1334.8" stroke="#d6d6d8" stroke-width="1.2" stroke-linecap="butt"/><line x1="1096.9" y1="1328.5" x2="1096.9" y2="1336.5" stroke="#d6d6d8" stroke-width="1.2" stroke-linecap="butt"/><line x1="1101.1" y1="1328.5" x2="1101.1" y2="1334.8" stroke="#d6d6d8" stroke-width="1.2" stroke-linecap="butt"/><line x1="1105.4" y1="1328.5" x2="1105.4" y2="1334.8" stroke="#d6d6d8" stroke-width="1.2" stroke-linecap="butt"/><line x1="1109.6" y1="1328.5" x2="1109.6" y2="1334.8" stroke="#d6d6d8" stroke-width="1.2" stroke-linecap="butt"/><line x1="1113.8" y1="1328.5" x2="1113.8" y2="1334.8" stroke="#d6d6d8" stroke-width="1.2" stroke-linecap="butt"/><line x1="1118.1" y1="1328.5" x2="1118.1" y2="1336.5" stroke="#d6d6d8" stroke-width="1.2" stroke-linecap="butt"/><line x1="1122.3" y1="1328.5" x2="1122.3" y2="1334.8" stroke="#d6d6d8" stroke-width="1.2" stroke-linecap="butt"/><line x1="1126.6" y1="1328.5" x2="1126.6" y2="1334.8" stroke="#d6d6d8" stroke-width="1.2" stroke-linecap="butt"/><line x1="1130.8" y1="1328.5" x2="1130.8" y2="1334.8" stroke="#d6d6d8" stroke-width="1.2" stroke-linecap="butt"/><line x1="1135.1" y1="1328.5" x2="1135.1" y2="1334.8" stroke="#d6d6d8" stroke-width="1.2" stroke-linecap="butt"/><line x1="1139.3" y1="1328.5" x2="1139.3" y2="1339.8" stroke="#d6d6d8" stroke-width="1.2" stroke-linecap="butt"/><text x="969.6" y="1353.6" font-size="13.5" text-anchor="middle" fill="#dcdcde" font-weight="normal" textLength="11.5" lengthAdjust="spacingAndGlyphs">20</text><text x="990.8" y="1353.6" font-size="13.5" text-anchor="middle" fill="#dcdcde" font-weight="normal" textLength="11.5" lengthAdjust="spacingAndGlyphs">15</text><text x="1012.0" y="1353.6" font-size="13.5" text-anchor="middle" fill="#dcdcde" font-weight="normal" textLength="11.5" lengthAdjust="spacingAndGlyphs">10</text><text x="1033.2" y="1353.6" font-size="13.5" text-anchor="middle" fill="#dcdcde" font-weight="normal">5</text><text x="1054.5" y="1353.6" font-size="13.5" text-anchor="middle" fill="#dcdcde" font-weight="normal">0</text><text x="1075.7" y="1353.6" font-size="13.5" text-anchor="middle" fill="#dcdcde" font-weight="normal">5</text><text x="1096.9" y="1353.6" font-size="13.5" text-anchor="middle" fill="#dcdcde" font-weight="normal" textLength="11.5" lengthAdjust="spacingAndGlyphs">10</text><text x="1118.1" y="1353.6" font-size="13.5" text-anchor="middle" fill="#dcdcde" font-weight="normal" textLength="11.5" lengthAdjust="spacingAndGlyphs">15</text><text x="1139.3" y="1353.6" font-size="13.5" text-anchor="middle" fill="#dcdcde" font-weight="normal" textLength="11.5" lengthAdjust="spacingAndGlyphs">20</text><text x="965.3" y="1373.2" font-size="15" text-anchor="middle" fill="#6a7a60" font-weight="normal" textLength="18" lengthAdjust="spacingAndGlyphs">AZ</text><text x="996.0" y="1373.2" font-size="15" text-anchor="middle" fill="#6a7a60" font-weight="normal" textLength="16" lengthAdjust="spacingAndGlyphs">RT</text><text x="1025.6" y="1373.2" font-size="15" text-anchor="middle" fill="#6a7a60" font-weight="normal" textLength="19" lengthAdjust="spacingAndGlyphs">X.1</text><text x="1062.5" y="1373.2" font-size="15" text-anchor="middle" fill="#70e020" font-weight="normal" textLength="25" lengthAdjust="spacingAndGlyphs">X10</text><text x="1100.4" y="1373.2" font-size="15" text-anchor="middle" fill="#70e020" font-weight="normal" textLength="24" lengthAdjust="spacingAndGlyphs">LAT</text><text x="1137.8" y="1373.2" font-size="15" text-anchor="middle" fill="#70e020" font-weight="normal" textLength="25" lengthAdjust="spacingAndGlyphs">VEL</text><text x="922.7" y="1154.0" font-size="14.5" text-anchor="middle" fill="#6a7a60" font-weight="normal">E</text><text x="922.7" y="1169.1" font-size="14.5" text-anchor="middle" fill="#6a7a60" font-weight="normal">L</text><text x="922.7" y="1183.4" font-size="14.5" text-anchor="middle" fill="#6a7a60" font-weight="normal">E</text><text x="922.7" y="1198.0" font-size="14.5" text-anchor="middle" fill="#6a7a60" font-weight="normal">V</text><text x="922.7" y="1219.3" font-size="14.5" text-anchor="middle" fill="#6a7a60" font-weight="normal">R</text><text x="922.7" y="1234.4" font-size="14.5" text-anchor="middle" fill="#6a7a60" font-weight="normal">T</text><text x="922.7" y="1255.7" font-size="14.5" text-anchor="middle" fill="#70e020" font-weight="normal">F</text><text x="922.7" y="1269.5" font-size="14.5" text-anchor="middle" fill="#70e020" font-weight="normal">W</text><text x="922.7" y="1285.8" font-size="14.5" text-anchor="middle" fill="#70e020" font-weight="normal">D</text><text x="922.7" y="1305.9" font-size="14.5" text-anchor="middle" fill="#70e020" font-weight="normal">V</text><text x="922.7" y="1321.5" font-size="14.5" text-anchor="middle" fill="#70e020" font-weight="normal">E</text><text x="922.7" y="1336.5" font-size="14.5" text-anchor="middle" fill="#70e020" font-weight="normal">L</text><path d="M1010.5,1146.5 Q979,1236 1014.3,1326" fill="none" stroke="#050509" stroke-width="3"/><path d="M960.8,1278.3 Q1055,1306 1149,1273.3" fill="none" stroke="#050509" stroke-width="3"/><path d="M93.2,1130.4 L93.2,1124.6 Q93.2,1118.6 99.2,1118.6 L169,1118.6" fill="none" stroke="#222226" stroke-width="2.8" stroke-linecap="round"/><path d="M254.6,1118.6 L325,1118.6 Q331,1118.6 331,1124.6 L331,1130.4" fill="none" stroke="#222226" stroke-width="2.8" stroke-linecap="round"/><path d="M331,1130.4 L331,1124.6 Q331,1118.6 337,1118.6 L408,1118.6" fill="none" stroke="#222226" stroke-width="2.8" stroke-linecap="round"/><path d="M492,1118.6 L564,1118.6 Q570,1118.6 570,1124.6 L570,1130.4" fill="none" stroke="#222226" stroke-width="2.8" stroke-linecap="round"/><text x="212.1" y="1123.0" font-size="15.5" text-anchor="middle" stroke="#222226" stroke-width="0.45" textLength="77.1" lengthAdjust="spacingAndGlyphs">SYSTEM A</text><text x="450.2" y="1123.0" font-size="15.5" text-anchor="middle" stroke="#222226" stroke-width="0.45" textLength="77.5" lengthAdjust="spacingAndGlyphs">SYSTEM B</text><text x="153.0" y="1155.9" font-size="15" text-anchor="middle" stroke="#222226" stroke-width="0.45" textLength="75" lengthAdjust="spacingAndGlyphs">ASC FUEL</text><rect x="130.8" y="1164.1" width="44.4" height="44.0" rx="4" fill="#b9b9bb" stroke="#222226" stroke-width="3"/><clipPath id="cl153_1164"><rect x="140.3" y="1171.1" width="25.69999999999999" height="30.299999999999955"/></clipPath><g clip-path="url(#cl153_1164)"><rect x="140.3" y="1171.1" width="25.69999999999999" height="30.299999999999955" fill="#d4d2bc"/><line x1="119" y1="1205.1" x2="159" y2="1165.1" stroke="#08080a" stroke-width="3"/><line x1="133" y1="1205.1" x2="173" y2="1165.1" stroke="#08080a" stroke-width="3"/><line x1="147" y1="1205.1" x2="187" y2="1165.1" stroke="#08080a" stroke-width="3"/></g><text x="153.0" y="1240.8" font-size="12.5" text-anchor="middle" stroke="#222226" stroke-width="0.45" textLength="71" lengthAdjust="spacingAndGlyphs">ASC FEED 1</text><path d="M127.0,1275.1 L140.0,1252.6 L166.0,1252.6 L179.0,1275.1 L166.0,1297.6 L140.0,1297.6 Z" fill="#a4a4a6" stroke="#222226" stroke-width="3"/><circle cx="153" cy="1275.1" r="17.5" fill="#3e3e42" stroke="#222226" stroke-width="3"/><circle cx="153" cy="1275.1" r="8.8" fill="#d8d8da" stroke="#222226" stroke-width="3"/><circle cx="153" cy="1275.1" r="3.6" fill="#8aaa5a"/><text x="153.0" y="1318.6" font-size="12.5" text-anchor="middle" stroke="#222226" stroke-width="0.45" textLength="39" lengthAdjust="spacingAndGlyphs">CLOSE</text><text x="272.0" y="1155.9" font-size="15" text-anchor="middle" stroke="#222226" stroke-width="0.45" textLength="78" lengthAdjust="spacingAndGlyphs">ASC OXID</text><rect x="249.8" y="1164.1" width="44.4" height="44.0" rx="4" fill="#b9b9bb" stroke="#222226" stroke-width="3"/><clipPath id="cl272_1164"><rect x="259.3" y="1171.1" width="25.69999999999999" height="30.299999999999955"/></clipPath><g clip-path="url(#cl272_1164)"><rect x="259.3" y="1171.1" width="25.69999999999999" height="30.299999999999955" fill="#d4d2bc"/><line x1="238" y1="1205.1" x2="278" y2="1165.1" stroke="#08080a" stroke-width="3"/><line x1="252" y1="1205.1" x2="292" y2="1165.1" stroke="#08080a" stroke-width="3"/><line x1="266" y1="1205.1" x2="306" y2="1165.1" stroke="#08080a" stroke-width="3"/></g><text x="272.0" y="1240.8" font-size="12.5" text-anchor="middle" stroke="#222226" stroke-width="0.45" textLength="71" lengthAdjust="spacingAndGlyphs">ASC FEED 2</text><path d="M246.0,1275.1 L259.0,1252.6 L285.0,1252.6 L298.0,1275.1 L285.0,1297.6 L259.0,1297.6 Z" fill="#a4a4a6" stroke="#222226" stroke-width="3"/><circle cx="272" cy="1275.1" r="17.5" fill="#3e3e42" stroke="#222226" stroke-width="3"/><circle cx="272" cy="1275.1" r="8.8" fill="#d8d8da" stroke="#222226" stroke-width="3"/><circle cx="272" cy="1275.1" r="3.6" fill="#8aaa5a"/><text x="272.0" y="1318.6" font-size="12.5" text-anchor="middle" stroke="#222226" stroke-width="0.45" textLength="39" lengthAdjust="spacingAndGlyphs">CLOSE</text><text x="391.0" y="1155.9" font-size="15" text-anchor="middle" stroke="#222226" stroke-width="0.45" textLength="75" lengthAdjust="spacingAndGlyphs">ASC FUEL</text><rect x="368.8" y="1164.1" width="44.4" height="44.0" rx="4" fill="#b9b9bb" stroke="#222226" stroke-width="3"/><clipPath id="cl391_1164"><rect x="378.3" y="1171.1" width="25.69999999999999" height="30.299999999999955"/></clipPath><g clip-path="url(#cl391_1164)"><rect x="378.3" y="1171.1" width="25.69999999999999" height="30.299999999999955" fill="#d4d2bc"/><line x1="357" y1="1205.1" x2="397" y2="1165.1" stroke="#08080a" stroke-width="3"/><line x1="371" y1="1205.1" x2="411" y2="1165.1" stroke="#08080a" stroke-width="3"/><line x1="385" y1="1205.1" x2="425" y2="1165.1" stroke="#08080a" stroke-width="3"/></g><text x="391.0" y="1240.8" font-size="12.5" text-anchor="middle" stroke="#222226" stroke-width="0.45" textLength="71" lengthAdjust="spacingAndGlyphs">ASC FEED 1</text><path d="M365.0,1275.1 L378.0,1252.6 L404.0,1252.6 L417.0,1275.1 L404.0,1297.6 L378.0,1297.6 Z" fill="#a4a4a6" stroke="#222226" stroke-width="3"/><circle cx="391" cy="1275.1" r="17.5" fill="#3e3e42" stroke="#222226" stroke-width="3"/><circle cx="391" cy="1275.1" r="8.8" fill="#d8d8da" stroke="#222226" stroke-width="3"/><circle cx="391" cy="1275.1" r="3.6" fill="#8aaa5a"/><text x="391.0" y="1318.6" font-size="12.5" text-anchor="middle" stroke="#222226" stroke-width="0.45" textLength="39" lengthAdjust="spacingAndGlyphs">CLOSE</text><text x="510.0" y="1155.9" font-size="15" text-anchor="middle" stroke="#222226" stroke-width="0.45" textLength="78" lengthAdjust="spacingAndGlyphs">ASC OXID</text><rect x="487.8" y="1164.1" width="44.4" height="44.0" rx="4" fill="#b9b9bb" stroke="#222226" stroke-width="3"/><clipPath id="cl510_1164"><rect x="497.3" y="1171.1" width="25.69999999999999" height="30.299999999999955"/></clipPath><g clip-path="url(#cl510_1164)"><rect x="497.3" y="1171.1" width="25.69999999999999" height="30.299999999999955" fill="#d4d2bc"/><line x1="476" y1="1205.1" x2="516" y2="1165.1" stroke="#08080a" stroke-width="3"/><line x1="490" y1="1205.1" x2="530" y2="1165.1" stroke="#08080a" stroke-width="3"/><line x1="504" y1="1205.1" x2="544" y2="1165.1" stroke="#08080a" stroke-width="3"/></g><text x="510.0" y="1240.8" font-size="12.5" text-anchor="middle" stroke="#222226" stroke-width="0.45" textLength="71" lengthAdjust="spacingAndGlyphs">ASC FEED 2</text><path d="M484.0,1275.1 L497.0,1252.6 L523.0,1252.6 L536.0,1275.1 L523.0,1297.6 L497.0,1297.6 Z" fill="#a4a4a6" stroke="#222226" stroke-width="3"/><circle cx="510" cy="1275.1" r="17.5" fill="#3e3e42" stroke="#222226" stroke-width="3"/><circle cx="510" cy="1275.1" r="8.8" fill="#d8d8da" stroke="#222226" stroke-width="3"/><circle cx="510" cy="1275.1" r="3.6" fill="#8aaa5a"/><text x="510.0" y="1318.6" font-size="12.5" text-anchor="middle" stroke="#222226" stroke-width="0.45" textLength="39" lengthAdjust="spacingAndGlyphs">CLOSE</text><path d="M93.2,1374 L93.2,1366 Q93.2,1360 99.2,1360 L220,1360" fill="none" stroke="#222226" stroke-width="2.8" stroke-linecap="round"/><path d="M443,1360 L564,1360 Q570,1360 570,1366 L570,1374" fill="none" stroke="#222226" stroke-width="2.8" stroke-linecap="round"/><text x="331.4" y="1365.0" font-size="15.5" text-anchor="middle" stroke="#222226" stroke-width="0.45" textLength="214.8" lengthAdjust="spacingAndGlyphs">LGC THRUSTER PAIR CMDS</text><text x="153.0" y="1397.8" font-size="14.5" text-anchor="middle" stroke="#222226" stroke-width="0.45" textLength="61.7" lengthAdjust="spacingAndGlyphs">QUAD 1</text><rect x="130.8" y="1406.7" width="44.4" height="44.0" rx="4" fill="#b5b5b7" stroke="#222226" stroke-width="3"/><rect x="140.2" y="1414.1" width="25.6" height="29.7" rx="0" fill="#79797b"/><rect x="141.7" y="1415.6" width="22.6" height="26.7" rx="0" fill="#818183"/><text x="153.0" y="1487.9" font-size="13" text-anchor="middle" stroke="#222226" stroke-width="0.45" textLength="49.2" lengthAdjust="spacingAndGlyphs">ENABLE</text><path d="M126.6,1522.0 L139.8,1499.4 L166.2,1499.4 L179.4,1522.0 L166.2,1544.6 L139.8,1544.6 Z" fill="#a4a4a6" stroke="#222226" stroke-width="3"/><circle cx="153" cy="1523.3" r="17.2" fill="#4a4a4e" stroke="#222226" stroke-width="3"/><path d="M145.6,1505.0 L147.6,1520.0 A5.4,5.4 0 0 0 158.4,1520.0 L160.4,1505.0 Z" fill="#c8c8ca" stroke="#222226" stroke-width="2.6"/><path d="M147.6,1520.0 A5.4,5.4 0 0 0 158.4,1520.0 Z" fill="#222226"/><ellipse cx="153" cy="1523.3" rx="2.6" ry="1.1" fill="#c8c8ca"/><ellipse cx="153" cy="1497.0" rx="9.5" ry="7.8" fill="#c8c8ca" stroke="#222226" stroke-width="2.6"/><ellipse cx="153" cy="1493.0" rx="4.2" ry="2.2" fill="#8db15e"/><text x="153.0" y="1564.8" font-size="13" text-anchor="middle" stroke="#222226" stroke-width="0.45" textLength="53.2" lengthAdjust="spacingAndGlyphs">DISABLE</text><rect x="96.3" y="1516.0" width="28.3" height="12.0" rx="2" fill="#25252a"/><text x="110.4" y="1526.6" font-size="12.5" text-anchor="middle" fill="#dcdcde" textLength="24.299999999999997" lengthAdjust="spacingAndGlyphs">U/F</text><text x="272.0" y="1397.8" font-size="14.5" text-anchor="middle" stroke="#222226" stroke-width="0.45" textLength="61.7" lengthAdjust="spacingAndGlyphs">QUAD 4</text><rect x="249.8" y="1406.7" width="44.4" height="44.0" rx="4" fill="#b5b5b7" stroke="#222226" stroke-width="3"/><rect x="259.2" y="1414.1" width="25.6" height="29.7" rx="0" fill="#79797b"/><rect x="260.7" y="1415.6" width="22.6" height="26.7" rx="0" fill="#818183"/><text x="272.0" y="1487.9" font-size="13" text-anchor="middle" stroke="#222226" stroke-width="0.45" textLength="49.2" lengthAdjust="spacingAndGlyphs">ENABLE</text><path d="M245.6,1522.0 L258.8,1499.4 L285.2,1499.4 L298.4,1522.0 L285.2,1544.6 L258.8,1544.6 Z" fill="#a4a4a6" stroke="#222226" stroke-width="3"/><circle cx="272" cy="1523.3" r="17.2" fill="#4a4a4e" stroke="#222226" stroke-width="3"/><path d="M264.6,1505.0 L266.6,1520.0 A5.4,5.4 0 0 0 277.4,1520.0 L279.4,1505.0 Z" fill="#c8c8ca" stroke="#222226" stroke-width="2.6"/><path d="M266.6,1520.0 A5.4,5.4 0 0 0 277.4,1520.0 Z" fill="#222226"/><ellipse cx="272" cy="1523.3" rx="2.6" ry="1.1" fill="#c8c8ca"/><ellipse cx="272" cy="1497.0" rx="9.5" ry="7.8" fill="#c8c8ca" stroke="#222226" stroke-width="2.6"/><ellipse cx="272" cy="1493.0" rx="4.2" ry="2.2" fill="#8db15e"/><text x="272.0" y="1564.8" font-size="13" text-anchor="middle" stroke="#222226" stroke-width="0.45" textLength="53.2" lengthAdjust="spacingAndGlyphs">DISABLE</text><rect x="215.3" y="1516.0" width="28.3" height="12.0" rx="2" fill="#25252a"/><text x="229.4" y="1526.6" font-size="12.5" text-anchor="middle" fill="#dcdcde" textLength="24.299999999999983" lengthAdjust="spacingAndGlyphs">D/R</text><text x="391.0" y="1397.8" font-size="14.5" text-anchor="middle" stroke="#222226" stroke-width="0.45" textLength="61.7" lengthAdjust="spacingAndGlyphs">QUAD 1</text><rect x="368.8" y="1406.7" width="44.4" height="44.0" rx="4" fill="#b5b5b7" stroke="#222226" stroke-width="3"/><rect x="378.2" y="1414.1" width="25.6" height="29.7" rx="0" fill="#79797b"/><rect x="379.7" y="1415.6" width="22.6" height="26.7" rx="0" fill="#818183"/><text x="391.0" y="1487.9" font-size="13" text-anchor="middle" stroke="#222226" stroke-width="0.45" textLength="49.2" lengthAdjust="spacingAndGlyphs">ENABLE</text><path d="M364.6,1522.0 L377.8,1499.4 L404.2,1499.4 L417.4,1522.0 L404.2,1544.6 L377.8,1544.6 Z" fill="#a4a4a6" stroke="#222226" stroke-width="3"/><circle cx="391" cy="1523.3" r="17.2" fill="#4a4a4e" stroke="#222226" stroke-width="3"/><path d="M383.6,1505.0 L385.6,1520.0 A5.4,5.4 0 0 0 396.4,1520.0 L398.4,1505.0 Z" fill="#c8c8ca" stroke="#222226" stroke-width="2.6"/><path d="M385.6,1520.0 A5.4,5.4 0 0 0 396.4,1520.0 Z" fill="#222226"/><ellipse cx="391" cy="1523.3" rx="2.6" ry="1.1" fill="#c8c8ca"/><ellipse cx="391" cy="1497.0" rx="9.5" ry="7.8" fill="#c8c8ca" stroke="#222226" stroke-width="2.6"/><ellipse cx="391" cy="1493.0" rx="4.2" ry="2.2" fill="#8db15e"/><text x="391.0" y="1564.8" font-size="13" text-anchor="middle" stroke="#222226" stroke-width="0.45" textLength="53.2" lengthAdjust="spacingAndGlyphs">DISABLE</text><rect x="419.4" y="1516.0" width="28.3" height="12.0" rx="2" fill="#25252a"/><text x="433.5" y="1526.6" font-size="12.5" text-anchor="middle" fill="#dcdcde" textLength="24.30000000000001" lengthAdjust="spacingAndGlyphs">D/L</text><text x="510.0" y="1397.8" font-size="14.5" text-anchor="middle" stroke="#222226" stroke-width="0.45" textLength="61.7" lengthAdjust="spacingAndGlyphs">QUAD 4</text><rect x="487.8" y="1406.7" width="44.4" height="44.0" rx="4" fill="#b5b5b7" stroke="#222226" stroke-width="3"/><rect x="497.2" y="1414.1" width="25.6" height="29.7" rx="0" fill="#79797b"/><rect x="498.7" y="1415.6" width="22.6" height="26.7" rx="0" fill="#818183"/><text x="510.0" y="1487.9" font-size="13" text-anchor="middle" stroke="#222226" stroke-width="0.45" textLength="49.2" lengthAdjust="spacingAndGlyphs">ENABLE</text><path d="M483.6,1522.0 L496.8,1499.4 L523.2,1499.4 L536.4,1522.0 L523.2,1544.6 L496.8,1544.6 Z" fill="#a4a4a6" stroke="#222226" stroke-width="3"/><circle cx="510" cy="1523.3" r="17.2" fill="#4a4a4e" stroke="#222226" stroke-width="3"/><path d="M502.6,1505.0 L504.6,1520.0 A5.4,5.4 0 0 0 515.4,1520.0 L517.4,1505.0 Z" fill="#c8c8ca" stroke="#222226" stroke-width="2.6"/><path d="M504.6,1520.0 A5.4,5.4 0 0 0 515.4,1520.0 Z" fill="#222226"/><ellipse cx="510" cy="1523.3" rx="2.6" ry="1.1" fill="#c8c8ca"/><ellipse cx="510" cy="1497.0" rx="9.5" ry="7.8" fill="#c8c8ca" stroke="#222226" stroke-width="2.6"/><ellipse cx="510" cy="1493.0" rx="4.2" ry="2.2" fill="#8db15e"/><text x="510.0" y="1564.8" font-size="13" text-anchor="middle" stroke="#222226" stroke-width="0.45" textLength="53.2" lengthAdjust="spacingAndGlyphs">DISABLE</text><rect x="538.4" y="1516.0" width="28.3" height="12.0" rx="2" fill="#25252a"/><text x="552.5" y="1526.6" font-size="12.5" text-anchor="middle" fill="#dcdcde" textLength="24.300000000000068" lengthAdjust="spacingAndGlyphs">U/F</text><text x="153.0" y="1610.3" font-size="14.5" text-anchor="middle" stroke="#222226" stroke-width="0.45" textLength="61.7" lengthAdjust="spacingAndGlyphs">QUAD 2</text><rect x="130.8" y="1619.2" width="44.4" height="44.0" rx="4" fill="#b5b5b7" stroke="#222226" stroke-width="3"/><rect x="140.2" y="1626.6" width="25.6" height="29.7" rx="0" fill="#79797b"/><rect x="141.7" y="1628.1" width="22.6" height="26.7" rx="0" fill="#818183"/><text x="153.0" y="1700.4" font-size="13" text-anchor="middle" stroke="#222226" stroke-width="0.45" textLength="49.2" lengthAdjust="spacingAndGlyphs">ENABLE</text><path d="M126.6,1734.5 L139.8,1711.9 L166.2,1711.9 L179.4,1734.5 L166.2,1757.1 L139.8,1757.1 Z" fill="#a4a4a6" stroke="#222226" stroke-width="3"/><circle cx="153" cy="1735.8" r="17.2" fill="#4a4a4e" stroke="#222226" stroke-width="3"/><path d="M145.6,1717.5 L147.6,1732.5 A5.4,5.4 0 0 0 158.4,1732.5 L160.4,1717.5 Z" fill="#c8c8ca" stroke="#222226" stroke-width="2.6"/><path d="M147.6,1732.5 A5.4,5.4 0 0 0 158.4,1732.5 Z" fill="#222226"/><ellipse cx="153" cy="1735.8" rx="2.6" ry="1.1" fill="#c8c8ca"/><ellipse cx="153" cy="1709.5" rx="9.5" ry="7.8" fill="#c8c8ca" stroke="#222226" stroke-width="2.6"/><ellipse cx="153" cy="1705.5" rx="4.2" ry="2.2" fill="#8db15e"/><text x="153.0" y="1777.3" font-size="13" text-anchor="middle" stroke="#222226" stroke-width="0.45" textLength="53.2" lengthAdjust="spacingAndGlyphs">DISABLE</text><rect x="96.3" y="1728.5" width="28.3" height="12.0" rx="2" fill="#25252a"/><text x="110.4" y="1739.1" font-size="12.5" text-anchor="middle" fill="#dcdcde" textLength="24.299999999999997" lengthAdjust="spacingAndGlyphs">D/A</text><text x="272.0" y="1610.3" font-size="14.5" text-anchor="middle" stroke="#222226" stroke-width="0.45" textLength="61.7" lengthAdjust="spacingAndGlyphs">QUAD 3</text><rect x="249.8" y="1619.2" width="44.4" height="44.0" rx="4" fill="#b5b5b7" stroke="#222226" stroke-width="3"/><rect x="259.2" y="1626.6" width="25.6" height="29.7" rx="0" fill="#79797b"/><rect x="260.7" y="1628.1" width="22.6" height="26.7" rx="0" fill="#818183"/><text x="272.0" y="1700.4" font-size="13" text-anchor="middle" stroke="#222226" stroke-width="0.45" textLength="49.2" lengthAdjust="spacingAndGlyphs">ENABLE</text><path d="M245.6,1734.5 L258.8,1711.9 L285.2,1711.9 L298.4,1734.5 L285.2,1757.1 L258.8,1757.1 Z" fill="#a4a4a6" stroke="#222226" stroke-width="3"/><circle cx="272" cy="1735.8" r="17.2" fill="#4a4a4e" stroke="#222226" stroke-width="3"/><path d="M264.6,1717.5 L266.6,1732.5 A5.4,5.4 0 0 0 277.4,1732.5 L279.4,1717.5 Z" fill="#c8c8ca" stroke="#222226" stroke-width="2.6"/><path d="M266.6,1732.5 A5.4,5.4 0 0 0 277.4,1732.5 Z" fill="#222226"/><ellipse cx="272" cy="1735.8" rx="2.6" ry="1.1" fill="#c8c8ca"/><ellipse cx="272" cy="1709.5" rx="9.5" ry="7.8" fill="#c8c8ca" stroke="#222226" stroke-width="2.6"/><ellipse cx="272" cy="1705.5" rx="4.2" ry="2.2" fill="#8db15e"/><text x="272.0" y="1777.3" font-size="13" text-anchor="middle" stroke="#222226" stroke-width="0.45" textLength="53.2" lengthAdjust="spacingAndGlyphs">DISABLE</text><rect x="215.3" y="1728.5" width="28.3" height="12.0" rx="2" fill="#25252a"/><text x="229.4" y="1739.1" font-size="12.5" text-anchor="middle" fill="#dcdcde" textLength="24.299999999999983" lengthAdjust="spacingAndGlyphs">U/R</text><text x="391.0" y="1610.3" font-size="14.5" text-anchor="middle" stroke="#222226" stroke-width="0.45" textLength="61.7" lengthAdjust="spacingAndGlyphs">QUAD 2</text><rect x="368.8" y="1619.2" width="44.4" height="44.0" rx="4" fill="#b5b5b7" stroke="#222226" stroke-width="3"/><rect x="378.2" y="1626.6" width="25.6" height="29.7" rx="0" fill="#79797b"/><rect x="379.7" y="1628.1" width="22.6" height="26.7" rx="0" fill="#818183"/><text x="391.0" y="1700.4" font-size="13" text-anchor="middle" stroke="#222226" stroke-width="0.45" textLength="49.2" lengthAdjust="spacingAndGlyphs">ENABLE</text><path d="M364.6,1734.5 L377.8,1711.9 L404.2,1711.9 L417.4,1734.5 L404.2,1757.1 L377.8,1757.1 Z" fill="#a4a4a6" stroke="#222226" stroke-width="3"/><circle cx="391" cy="1735.8" r="17.2" fill="#4a4a4e" stroke="#222226" stroke-width="3"/><path d="M383.6,1717.5 L385.6,1732.5 A5.4,5.4 0 0 0 396.4,1732.5 L398.4,1717.5 Z" fill="#c8c8ca" stroke="#222226" stroke-width="2.6"/><path d="M385.6,1732.5 A5.4,5.4 0 0 0 396.4,1732.5 Z" fill="#222226"/><ellipse cx="391" cy="1735.8" rx="2.6" ry="1.1" fill="#c8c8ca"/><ellipse cx="391" cy="1709.5" rx="9.5" ry="7.8" fill="#c8c8ca" stroke="#222226" stroke-width="2.6"/><ellipse cx="391" cy="1705.5" rx="4.2" ry="2.2" fill="#8db15e"/><text x="391.0" y="1777.3" font-size="13" text-anchor="middle" stroke="#222226" stroke-width="0.45" textLength="53.2" lengthAdjust="spacingAndGlyphs">DISABLE</text><rect x="419.4" y="1728.5" width="28.3" height="12.0" rx="2" fill="#25252a"/><text x="433.5" y="1739.1" font-size="12.5" text-anchor="middle" fill="#dcdcde" textLength="24.30000000000001" lengthAdjust="spacingAndGlyphs">U/L</text><text x="510.0" y="1610.3" font-size="14.5" text-anchor="middle" stroke="#222226" stroke-width="0.45" textLength="61.7" lengthAdjust="spacingAndGlyphs">QUAD 3</text><rect x="487.8" y="1619.2" width="44.4" height="44.0" rx="4" fill="#b5b5b7" stroke="#222226" stroke-width="3"/><rect x="497.2" y="1626.6" width="25.6" height="29.7" rx="0" fill="#79797b"/><rect x="498.7" y="1628.1" width="22.6" height="26.7" rx="0" fill="#818183"/><text x="510.0" y="1700.4" font-size="13" text-anchor="middle" stroke="#222226" stroke-width="0.45" textLength="49.2" lengthAdjust="spacingAndGlyphs">ENABLE</text><path d="M483.6,1734.5 L496.8,1711.9 L523.2,1711.9 L536.4,1734.5 L523.2,1757.1 L496.8,1757.1 Z" fill="#a4a4a6" stroke="#222226" stroke-width="3"/><circle cx="510" cy="1735.8" r="17.2" fill="#4a4a4e" stroke="#222226" stroke-width="3"/><path d="M502.6,1717.5 L504.6,1732.5 A5.4,5.4 0 0 0 515.4,1732.5 L517.4,1717.5 Z" fill="#c8c8ca" stroke="#222226" stroke-width="2.6"/><path d="M504.6,1732.5 A5.4,5.4 0 0 0 515.4,1732.5 Z" fill="#222226"/><ellipse cx="510" cy="1735.8" rx="2.6" ry="1.1" fill="#c8c8ca"/><ellipse cx="510" cy="1709.5" rx="9.5" ry="7.8" fill="#c8c8ca" stroke="#222226" stroke-width="2.6"/><ellipse cx="510" cy="1705.5" rx="4.2" ry="2.2" fill="#8db15e"/><text x="510.0" y="1777.3" font-size="13" text-anchor="middle" stroke="#222226" stroke-width="0.45" textLength="53.2" lengthAdjust="spacingAndGlyphs">DISABLE</text><rect x="538.4" y="1728.5" width="28.3" height="12.0" rx="2" fill="#25252a"/><text x="552.5" y="1739.1" font-size="12.5" text-anchor="middle" fill="#dcdcde" textLength="24.300000000000068" lengthAdjust="spacingAndGlyphs">D/A</text><line x1="331.2" y1="1119.6" x2="331.2" y2="1129.2" stroke="#222226" stroke-width="3.3" stroke-linecap="round"/><line x1="331.2" y1="1140.7" x2="331.2" y2="1149.5" stroke="#222226" stroke-width="3.3" stroke-linecap="round"/><line x1="331.2" y1="1168.4" x2="331.2" y2="1191.3" stroke="#222226" stroke-width="3.3" stroke-linecap="round"/><line x1="331.2" y1="1209.1" x2="331.2" y2="1232.5" stroke="#222226" stroke-width="3.3" stroke-linecap="round"/><line x1="331.2" y1="1250.3" x2="331.2" y2="1273.7" stroke="#222226" stroke-width="3.3" stroke-linecap="round"/><line x1="331.2" y1="1291.0" x2="331.2" y2="1314.4" stroke="#222226" stroke-width="3.3" stroke-linecap="round"/><line x1="331.2" y1="1332.7" x2="331.2" y2="1341.6" stroke="#222226" stroke-width="3.3" stroke-linecap="round"/><line x1="331.2" y1="1374.8" x2="331.2" y2="1396.0" stroke="#222226" stroke-width="3.3" stroke-linecap="round"/><line x1="331.2" y1="1413.6" x2="331.2" y2="1435.4" stroke="#222226" stroke-width="3.3" stroke-linecap="round"/><line x1="331.2" y1="1452.4" x2="331.2" y2="1474.2" stroke="#222226" stroke-width="3.3" stroke-linecap="round"/><line x1="331.2" y1="1491.2" x2="331.2" y2="1513.0" stroke="#222226" stroke-width="3.3" stroke-linecap="round"/><line x1="331.2" y1="1530.0" x2="331.2" y2="1552.4" stroke="#222226" stroke-width="3.3" stroke-linecap="round"/><line x1="331.2" y1="1568.8" x2="331.2" y2="1596.9" stroke="#222226" stroke-width="3.3" stroke-linecap="round"/><line x1="331.2" y1="1608.3" x2="331.2" y2="1630.1" stroke="#222226" stroke-width="3.3" stroke-linecap="round"/><line x1="331.2" y1="1647.4" x2="331.2" y2="1669.3" stroke="#222226" stroke-width="3.3" stroke-linecap="round"/><line x1="331.2" y1="1686.0" x2="331.2" y2="1708.4" stroke="#222226" stroke-width="3.3" stroke-linecap="round"/><line x1="331.2" y1="1725.2" x2="331.2" y2="1747.5" stroke="#222226" stroke-width="3.3" stroke-linecap="round"/><line x1="331.2" y1="1764.3" x2="331.2" y2="1786.1" stroke="#222226" stroke-width="3.3" stroke-linecap="round"/><line x1="92.5" y1="1581.3" x2="571.5" y2="1581.3" stroke="#222226" stroke-width="3.5" stroke-dasharray="26 13.72" stroke-dashoffset="11.9"/><line x1="92.5" y1="1794.3" x2="571.5" y2="1794.3" stroke="#222226" stroke-width="3.5" stroke-dasharray="26 13.72" stroke-dashoffset="11.9"/><path d="M331,2007.5 L331,1816.6 Q331,1810.6 337,1810.6 L404,1810.6" fill="none" stroke="#222226" stroke-width="2.8" stroke-linecap="round"/><path d="M496,1810.6 L563.5,1810.6 Q569.5,1810.6 569.5,1816.6 L569.5,2007.5" fill="none" stroke="#222226" stroke-width="2.8" stroke-linecap="round"/><text x="450.0" y="1816.0" font-size="15.5" text-anchor="middle" stroke="#222226" stroke-width="0.45" textLength="84" lengthAdjust="spacingAndGlyphs">MAIN SOV</text><path d="M93,2007.5 L93,1841 Q93,1835 99,1835 L124,1835" fill="none" stroke="#222226" stroke-width="2.8" stroke-linecap="round"/><path d="M181.5,1835 L206.5,1835 Q212.5,1835 212.5,1841 L212.5,2007.5" fill="none" stroke="#222226" stroke-width="2.8" stroke-linecap="round"/><text x="152.8" y="1840.2" font-size="15.5" text-anchor="middle" stroke="#222226" stroke-width="0.45" textLength="49.9" lengthAdjust="spacingAndGlyphs">CRSFD</text><rect x="131.0" y="1848.7" width="44.4" height="44.0" rx="4" fill="#b5b5b7" stroke="#222226" stroke-width="3"/><rect x="140.4" y="1856.1" width="25.6" height="29.7" rx="0" fill="#79797b"/><rect x="141.9" y="1857.6" width="22.6" height="26.7" rx="0" fill="#818183"/><text x="153.2" y="1930.0" font-size="12.5" text-anchor="middle" stroke="#222226" stroke-width="0.45" textLength="35" lengthAdjust="spacingAndGlyphs">OPEN</text><path d="M127.2,1964.3 L140.2,1941.8 L166.2,1941.8 L179.2,1964.3 L166.2,1986.8 L140.2,1986.8 Z" fill="#a4a4a6" stroke="#222226" stroke-width="3"/><circle cx="153.2" cy="1964.3" r="17.5" fill="#3e3e42" stroke="#222226" stroke-width="3"/><circle cx="153.2" cy="1964.3" r="8.8" fill="#d8d8da" stroke="#222226" stroke-width="3"/><circle cx="153.2" cy="1964.3" r="3.6" fill="#8aaa5a"/><text x="153.2" y="2007.5" font-size="12.5" text-anchor="middle" stroke="#222226" stroke-width="0.45" textLength="39" lengthAdjust="spacingAndGlyphs">CLOSE</text><text x="390.4" y="1840.2" font-size="15" text-anchor="middle" stroke="#222226" stroke-width="0.45" textLength="43" lengthAdjust="spacingAndGlyphs">SYS A</text><rect x="368.2" y="1848.7" width="44.4" height="44.0" rx="4" fill="#b5b5b7" stroke="#222226" stroke-width="3"/><rect x="377.6" y="1856.1" width="25.6" height="29.7" rx="0" fill="#79797b"/><rect x="379.1" y="1857.6" width="22.6" height="26.7" rx="0" fill="#818183"/><text x="390.4" y="1930.0" font-size="12.5" text-anchor="middle" stroke="#222226" stroke-width="0.45" textLength="35" lengthAdjust="spacingAndGlyphs">OPEN</text><path d="M364.4,1964.3 L377.4,1941.8 L403.4,1941.8 L416.4,1964.3 L403.4,1986.8 L377.4,1986.8 Z" fill="#a4a4a6" stroke="#222226" stroke-width="3"/><circle cx="390.4" cy="1964.3" r="17.5" fill="#3e3e42" stroke="#222226" stroke-width="3"/><circle cx="390.4" cy="1964.3" r="8.8" fill="#d8d8da" stroke="#222226" stroke-width="3"/><circle cx="390.4" cy="1964.3" r="3.6" fill="#8aaa5a"/><text x="390.4" y="2007.5" font-size="12.5" text-anchor="middle" stroke="#222226" stroke-width="0.45" textLength="39" lengthAdjust="spacingAndGlyphs">CLOSE</text><text x="509.8" y="1840.2" font-size="15" text-anchor="middle" stroke="#222226" stroke-width="0.45" textLength="43" lengthAdjust="spacingAndGlyphs">SYS B</text><rect x="487.6" y="1848.7" width="44.4" height="44.0" rx="4" fill="#b5b5b7" stroke="#222226" stroke-width="3"/><rect x="497.0" y="1856.1" width="25.6" height="29.7" rx="0" fill="#79797b"/><rect x="498.5" y="1857.6" width="22.6" height="26.7" rx="0" fill="#818183"/><text x="509.8" y="1930.0" font-size="12.5" text-anchor="middle" stroke="#222226" stroke-width="0.45" textLength="35" lengthAdjust="spacingAndGlyphs">OPEN</text><path d="M483.8,1964.3 L496.8,1941.8 L522.8,1941.8 L535.8,1964.3 L522.8,1986.8 L496.8,1986.8 Z" fill="#a4a4a6" stroke="#222226" stroke-width="3"/><circle cx="509.8" cy="1964.3" r="17.5" fill="#3e3e42" stroke="#222226" stroke-width="3"/><circle cx="509.8" cy="1964.3" r="8.8" fill="#d8d8da" stroke="#222226" stroke-width="3"/><circle cx="509.8" cy="1964.3" r="3.6" fill="#8aaa5a"/><text x="509.8" y="2007.5" font-size="12.5" text-anchor="middle" stroke="#222226" stroke-width="0.45" textLength="39" lengthAdjust="spacingAndGlyphs">CLOSE</text><path d="M725.9,1418.9 L910.2,1418.9 L1039.6,1548.3 L1039.6,1733.6 L910.2,1862 L725.9,1862 L596,1733.6 L596,1548.3 Z" fill="none" stroke="#222226" stroke-width="2.6"/><path d="M736.0,1462.6 Q743.0,1455.5 753.0,1455.5 L883.9,1455.5 Q893.9,1455.5 900.9,1462.6 L997.0,1559.9 Q1004.0,1567.0 1004.0,1577.0 L1004.0,1706.0 Q1004.0,1716.0 996.9,1723.1 L901.0,1819.4 Q893.9,1826.5 883.9,1826.5 L753.0,1826.5 Q743.0,1826.5 736.0,1819.4 L640.5,1723.1 Q633.5,1716.0 633.5,1706.0 L633.5,1577.0 Q633.5,1567.0 640.5,1559.9 Z" fill="#050509" stroke="none" stroke-width="0"/><clipPath id="ball"><circle cx="818.0" cy="1640.5" r="110.5"/></clipPath><g clip-path="url(#ball)"><rect x="707.0" y="1529.5" width="222" height="111" fill="#cbcbcd"/><rect x="707.0" y="1640.5" width="222" height="111" fill="#050509"/><ellipse cx="818.0" cy="1640.5" rx="62" ry="170" fill="none" stroke="#7a7a7c" stroke-width="1"/><ellipse cx="818.0" cy="1640.5" rx="62" ry="170" fill="none" stroke="#7a7a7c" stroke-width="1"/><path d="M708.0,1589.5 Q818.0,1568.5 928.0,1589.5" fill="none" stroke="#555" stroke-width="1"/><path d="M708.0,1690.5 Q818.0,1712.5 928.0,1690.5" fill="none" stroke="#aaa" stroke-width="1"/><line x1="727.9" y1="1532.5" x2="727.9" y2="1640.5" stroke="#333" stroke-width="1.2" stroke-dasharray="3 6"/><line x1="727.9" y1="1640.5" x2="727.9" y2="1748.5" stroke="#bbb" stroke-width="1.2" stroke-dasharray="3 6"/><line x1="786.5" y1="1532.5" x2="786.5" y2="1640.5" stroke="#333" stroke-width="1.2" stroke-dasharray="3 6"/><line x1="786.5" y1="1640.5" x2="786.5" y2="1748.5" stroke="#bbb" stroke-width="1.2" stroke-dasharray="3 6"/><line x1="848" y1="1532.5" x2="848" y2="1640.5" stroke="#333" stroke-width="1.2" stroke-dasharray="3 6"/><line x1="848" y1="1640.5" x2="848" y2="1748.5" stroke="#bbb" stroke-width="1.2" stroke-dasharray="3 6"/><line x1="907.3" y1="1532.5" x2="907.3" y2="1640.5" stroke="#333" stroke-width="1.2" stroke-dasharray="3 6"/><line x1="907.3" y1="1640.5" x2="907.3" y2="1748.5" stroke="#bbb" stroke-width="1.2" stroke-dasharray="3 6"/><line x1="708.0" y1="1552.7" x2="928.0" y2="1552.7" stroke="#333" stroke-width="1.2" stroke-dasharray="1.5 9"/><line x1="708.0" y1="1612" x2="928.0" y2="1612" stroke="#333" stroke-width="1.2" stroke-dasharray="1.5 9"/><line x1="708.0" y1="1670.2" x2="928.0" y2="1670.2" stroke="#bbb" stroke-width="1.2" stroke-dasharray="1.5 9"/><line x1="708.0" y1="1729.5" x2="928.0" y2="1729.5" stroke="#bbb" stroke-width="1.2" stroke-dasharray="1.5 9"/><line x1="708.0" y1="1641.5" x2="928.0" y2="1641.5" stroke="#bbb" stroke-width="1.5" stroke-dasharray="1.2 5"/></g><text x="763.4" y="1560.0" font-size="12" text-anchor="middle" fill="#111" font-weight="normal" font-style="italic">33</text><text x="872.0" y="1560.0" font-size="12" text-anchor="middle" fill="#111" font-weight="normal" font-style="italic">3</text><text x="731.6" y="1592.0" font-size="12" text-anchor="middle" fill="#111" font-weight="normal" font-style="italic">3</text><text x="787.6" y="1585.0" font-size="12" text-anchor="middle" fill="#111" font-weight="normal" font-style="italic">3</text><text x="846.9" y="1585.0" font-size="12" text-anchor="middle" fill="#111" font-weight="normal" font-style="italic">3</text><text x="902.9" y="1592.0" font-size="12" text-anchor="middle" fill="#111" font-weight="normal" font-style="italic">3</text><text x="756.9" y="1616.0" font-size="12" text-anchor="middle" fill="#111" font-weight="normal" font-style="italic">33</text><text x="878.7" y="1616.0" font-size="12" text-anchor="middle" fill="#111" font-weight="normal" font-style="italic">3</text><rect x="723.4" y="1642.5" width="9.0" height="13.5" rx="0" fill="#cbcbcd"/><text x="727.9" y="1653.5" font-size="11" text-anchor="middle" fill="#111" font-weight="normal">0</text><rect x="781.3" y="1642.5" width="9.0" height="13.5" rx="0" fill="#cbcbcd"/><text x="785.8" y="1653.5" font-size="11" text-anchor="middle" fill="#111" font-weight="normal">0</text><rect x="844.1" y="1642.5" width="9.0" height="13.5" rx="0" fill="#cbcbcd"/><text x="848.6" y="1653.5" font-size="11" text-anchor="middle" fill="#111" font-weight="normal">0</text><rect x="902.8" y="1642.5" width="9.0" height="13.5" rx="0" fill="#cbcbcd"/><text x="907.3" y="1653.5" font-size="11" text-anchor="middle" fill="#111" font-weight="normal">0</text><text x="756.9" y="1674.0" font-size="12" text-anchor="middle" fill="#dcdcde" font-weight="normal" font-style="italic">33</text><text x="878.7" y="1674.0" font-size="12" text-anchor="middle" fill="#dcdcde" font-weight="normal" font-style="italic">3</text><text x="732.7" y="1699.4" font-size="12" text-anchor="middle" fill="#dcdcde" font-weight="normal" font-style="italic">33</text><text x="788.0" y="1706.0" font-size="12" text-anchor="middle" fill="#dcdcde" font-weight="normal" font-style="italic">33</text><text x="847.3" y="1706.0" font-size="12" text-anchor="middle" fill="#dcdcde" font-weight="normal" font-style="italic">33</text><text x="902.9" y="1699.4" font-size="12" text-anchor="middle" fill="#dcdcde" font-weight="normal" font-style="italic">33</text><text x="763.4" y="1730.0" font-size="12" text-anchor="middle" fill="#dcdcde" font-weight="normal" font-style="italic">33</text><text x="871.5" y="1730.0" font-size="12" text-anchor="middle" fill="#dcdcde" font-weight="normal" font-style="italic">3</text><rect x="811.8" y="1547.2" width="12.7" height="203.1" rx="0" fill="#c4c4c6"/><line x1="810.5" y1="1540.0" x2="810.5" y2="1640.5" stroke="#111" stroke-width="1.5" stroke-linecap="butt"/><line x1="825.8" y1="1540.0" x2="825.8" y2="1640.5" stroke="#111" stroke-width="1.5" stroke-linecap="butt"/><path d="M813,1547 L818,1534 L823,1547 Z" fill="#6a8090" stroke="#ccc" stroke-width="1"/><circle cx="818.0" cy="1640.5" r="130" fill="none" stroke="#5a5a5c" stroke-width="2.8"/><path d="M709.6,1671.6 A112.8,112.8 0 0 0 709.6,1609.4" fill="none" stroke="#c8341c" stroke-width="10"/><path d="M926.4,1609.4 A112.8,112.8 0 0 1 926.4,1671.6" fill="none" stroke="#c8341c" stroke-width="10"/><line x1="827.6" y1="1530.4" x2="828.3" y2="1522.9" stroke="#dcdcde" stroke-width="2.4" stroke-linecap="round"/><line x1="837.2" y1="1531.7" x2="838.5" y2="1524.3" stroke="#dcdcde" stroke-width="2.4" stroke-linecap="round"/><line x1="846.6" y1="1533.8" x2="848.5" y2="1526.5" stroke="#dcdcde" stroke-width="2.4" stroke-linecap="round"/><line x1="855.8" y1="1536.7" x2="858.4" y2="1529.6" stroke="#dcdcde" stroke-width="2.4" stroke-linecap="round"/><line x1="864.7" y1="1540.4" x2="867.9" y2="1533.6" stroke="#dcdcde" stroke-width="2.4" stroke-linecap="round"/><line x1="873.2" y1="1544.8" x2="878.5" y2="1535.7" stroke="#dcdcde" stroke-width="2.4" stroke-linecap="round"/><line x1="881.4" y1="1550.0" x2="885.7" y2="1543.8" stroke="#dcdcde" stroke-width="2.4" stroke-linecap="round"/><line x1="889.0" y1="1555.9" x2="893.8" y2="1550.1" stroke="#dcdcde" stroke-width="2.4" stroke-linecap="round"/><line x1="896.1" y1="1562.4" x2="901.4" y2="1557.1" stroke="#dcdcde" stroke-width="2.4" stroke-linecap="round"/><line x1="902.6" y1="1569.5" x2="908.4" y2="1564.7" stroke="#dcdcde" stroke-width="2.4" stroke-linecap="round"/><line x1="908.5" y1="1577.1" x2="914.7" y2="1572.8" stroke="#dcdcde" stroke-width="2.4" stroke-linecap="round"/><line x1="913.7" y1="1585.2" x2="922.8" y2="1580.0" stroke="#dcdcde" stroke-width="2.4" stroke-linecap="round"/><line x1="918.1" y1="1593.8" x2="924.9" y2="1590.6" stroke="#dcdcde" stroke-width="2.4" stroke-linecap="round"/><line x1="921.8" y1="1602.7" x2="928.9" y2="1600.1" stroke="#dcdcde" stroke-width="2.4" stroke-linecap="round"/><line x1="924.7" y1="1611.9" x2="932.0" y2="1610.0" stroke="#dcdcde" stroke-width="2.4" stroke-linecap="round"/><line x1="926.8" y1="1621.3" x2="934.2" y2="1620.0" stroke="#dcdcde" stroke-width="2.4" stroke-linecap="round"/><line x1="928.1" y1="1630.9" x2="935.6" y2="1630.2" stroke="#dcdcde" stroke-width="2.4" stroke-linecap="round"/><line x1="928.1" y1="1650.1" x2="935.6" y2="1650.8" stroke="#dcdcde" stroke-width="2.4" stroke-linecap="round"/><line x1="926.8" y1="1659.7" x2="934.2" y2="1661.0" stroke="#dcdcde" stroke-width="2.4" stroke-linecap="round"/><line x1="924.7" y1="1669.1" x2="932.0" y2="1671.0" stroke="#dcdcde" stroke-width="2.4" stroke-linecap="round"/><line x1="921.8" y1="1678.3" x2="928.9" y2="1680.9" stroke="#dcdcde" stroke-width="2.4" stroke-linecap="round"/><line x1="918.1" y1="1687.2" x2="924.9" y2="1690.4" stroke="#dcdcde" stroke-width="2.4" stroke-linecap="round"/><line x1="913.7" y1="1695.8" x2="922.8" y2="1701.0" stroke="#dcdcde" stroke-width="2.4" stroke-linecap="round"/><line x1="908.5" y1="1703.9" x2="914.7" y2="1708.2" stroke="#dcdcde" stroke-width="2.4" stroke-linecap="round"/><line x1="902.6" y1="1711.5" x2="908.4" y2="1716.3" stroke="#dcdcde" stroke-width="2.4" stroke-linecap="round"/><line x1="896.1" y1="1718.6" x2="901.4" y2="1723.9" stroke="#dcdcde" stroke-width="2.4" stroke-linecap="round"/><line x1="889.0" y1="1725.1" x2="893.8" y2="1730.9" stroke="#dcdcde" stroke-width="2.4" stroke-linecap="round"/><line x1="881.4" y1="1731.0" x2="885.7" y2="1737.2" stroke="#dcdcde" stroke-width="2.4" stroke-linecap="round"/><line x1="873.2" y1="1736.2" x2="878.5" y2="1745.3" stroke="#dcdcde" stroke-width="2.4" stroke-linecap="round"/><line x1="864.7" y1="1740.6" x2="867.9" y2="1747.4" stroke="#dcdcde" stroke-width="2.4" stroke-linecap="round"/><line x1="855.8" y1="1744.3" x2="858.4" y2="1751.4" stroke="#dcdcde" stroke-width="2.4" stroke-linecap="round"/><line x1="846.6" y1="1747.2" x2="848.5" y2="1754.5" stroke="#dcdcde" stroke-width="2.4" stroke-linecap="round"/><line x1="837.2" y1="1749.3" x2="838.5" y2="1756.7" stroke="#dcdcde" stroke-width="2.4" stroke-linecap="round"/><line x1="827.6" y1="1750.6" x2="828.3" y2="1758.1" stroke="#dcdcde" stroke-width="2.4" stroke-linecap="round"/><line x1="808.4" y1="1750.6" x2="807.7" y2="1758.1" stroke="#dcdcde" stroke-width="2.4" stroke-linecap="round"/><line x1="798.8" y1="1749.3" x2="797.5" y2="1756.7" stroke="#dcdcde" stroke-width="2.4" stroke-linecap="round"/><line x1="789.4" y1="1747.2" x2="787.5" y2="1754.5" stroke="#dcdcde" stroke-width="2.4" stroke-linecap="round"/><line x1="780.2" y1="1744.3" x2="777.6" y2="1751.4" stroke="#dcdcde" stroke-width="2.4" stroke-linecap="round"/><line x1="771.3" y1="1740.6" x2="768.1" y2="1747.4" stroke="#dcdcde" stroke-width="2.4" stroke-linecap="round"/><line x1="762.8" y1="1736.2" x2="757.5" y2="1745.3" stroke="#dcdcde" stroke-width="2.4" stroke-linecap="round"/><line x1="754.6" y1="1731.0" x2="750.3" y2="1737.2" stroke="#dcdcde" stroke-width="2.4" stroke-linecap="round"/><line x1="747.0" y1="1725.1" x2="742.2" y2="1730.9" stroke="#dcdcde" stroke-width="2.4" stroke-linecap="round"/><line x1="739.9" y1="1718.6" x2="734.6" y2="1723.9" stroke="#dcdcde" stroke-width="2.4" stroke-linecap="round"/><line x1="733.4" y1="1711.5" x2="727.6" y2="1716.3" stroke="#dcdcde" stroke-width="2.4" stroke-linecap="round"/><line x1="727.5" y1="1703.9" x2="721.3" y2="1708.2" stroke="#dcdcde" stroke-width="2.4" stroke-linecap="round"/><line x1="722.3" y1="1695.8" x2="713.2" y2="1701.0" stroke="#dcdcde" stroke-width="2.4" stroke-linecap="round"/><line x1="717.9" y1="1687.2" x2="711.1" y2="1690.4" stroke="#dcdcde" stroke-width="2.4" stroke-linecap="round"/><line x1="714.2" y1="1678.3" x2="707.1" y2="1680.9" stroke="#dcdcde" stroke-width="2.4" stroke-linecap="round"/><line x1="711.3" y1="1669.1" x2="704.0" y2="1671.0" stroke="#dcdcde" stroke-width="2.4" stroke-linecap="round"/><line x1="709.2" y1="1659.7" x2="701.8" y2="1661.0" stroke="#dcdcde" stroke-width="2.4" stroke-linecap="round"/><line x1="707.9" y1="1650.1" x2="700.4" y2="1650.8" stroke="#dcdcde" stroke-width="2.4" stroke-linecap="round"/><line x1="707.9" y1="1630.9" x2="700.4" y2="1630.2" stroke="#dcdcde" stroke-width="2.4" stroke-linecap="round"/><line x1="709.2" y1="1621.3" x2="701.8" y2="1620.0" stroke="#dcdcde" stroke-width="2.4" stroke-linecap="round"/><line x1="711.3" y1="1611.9" x2="704.0" y2="1610.0" stroke="#dcdcde" stroke-width="2.4" stroke-linecap="round"/><line x1="714.2" y1="1602.7" x2="707.1" y2="1600.1" stroke="#dcdcde" stroke-width="2.4" stroke-linecap="round"/><line x1="717.9" y1="1593.8" x2="711.1" y2="1590.6" stroke="#dcdcde" stroke-width="2.4" stroke-linecap="round"/><line x1="722.3" y1="1585.2" x2="713.2" y2="1580.0" stroke="#dcdcde" stroke-width="2.4" stroke-linecap="round"/><line x1="727.5" y1="1577.1" x2="721.3" y2="1572.8" stroke="#dcdcde" stroke-width="2.4" stroke-linecap="round"/><line x1="733.4" y1="1569.5" x2="727.6" y2="1564.7" stroke="#dcdcde" stroke-width="2.4" stroke-linecap="round"/><line x1="739.9" y1="1562.4" x2="734.6" y2="1557.1" stroke="#dcdcde" stroke-width="2.4" stroke-linecap="round"/><line x1="747.0" y1="1555.9" x2="742.2" y2="1550.1" stroke="#dcdcde" stroke-width="2.4" stroke-linecap="round"/><line x1="754.6" y1="1550.0" x2="750.3" y2="1543.8" stroke="#dcdcde" stroke-width="2.4" stroke-linecap="round"/><line x1="762.8" y1="1544.8" x2="757.5" y2="1535.7" stroke="#dcdcde" stroke-width="2.4" stroke-linecap="round"/><line x1="771.3" y1="1540.4" x2="768.1" y2="1533.6" stroke="#dcdcde" stroke-width="2.4" stroke-linecap="round"/><line x1="780.2" y1="1536.7" x2="777.6" y2="1529.6" stroke="#dcdcde" stroke-width="2.4" stroke-linecap="round"/><line x1="789.4" y1="1533.8" x2="787.5" y2="1526.5" stroke="#dcdcde" stroke-width="2.4" stroke-linecap="round"/><line x1="798.8" y1="1531.7" x2="797.5" y2="1524.3" stroke="#dcdcde" stroke-width="2.4" stroke-linecap="round"/><line x1="808.4" y1="1530.4" x2="807.7" y2="1522.9" stroke="#dcdcde" stroke-width="2.4" stroke-linecap="round"/><path d="M764.3,1525.4 A127,127 0 0 1 871.7,1525.4" fill="none" stroke="#d8a030" stroke-width="1.5"/><line x1="764.3" y1="1525.4" x2="767.7" y2="1532.6" stroke="#d8a030" stroke-width="1.5" stroke-linecap="butt"/><line x1="871.7" y1="1525.4" x2="868.3" y2="1532.6" stroke="#d8a030" stroke-width="1.5" stroke-linecap="butt"/><line x1="764.3" y1="1525.4" x2="766.4" y2="1529.9" stroke="#d8a030" stroke-width="1.2" stroke-linecap="butt"/><line x1="774.6" y1="1521.2" x2="775.6" y2="1524.0" stroke="#d8a030" stroke-width="1.2" stroke-linecap="butt"/><line x1="785.1" y1="1517.8" x2="785.9" y2="1520.7" stroke="#d8a030" stroke-width="1.2" stroke-linecap="butt"/><line x1="795.9" y1="1515.4" x2="796.5" y2="1518.4" stroke="#d8a030" stroke-width="1.2" stroke-linecap="butt"/><line x1="806.9" y1="1514.0" x2="807.2" y2="1517.0" stroke="#d8a030" stroke-width="1.2" stroke-linecap="butt"/><line x1="818.0" y1="1513.5" x2="818.0" y2="1516.5" stroke="#d8a030" stroke-width="1.2" stroke-linecap="butt"/><line x1="829.1" y1="1514.0" x2="828.6" y2="1519.0" stroke="#d8a030" stroke-width="1.2" stroke-linecap="butt"/><line x1="840.1" y1="1515.4" x2="839.5" y2="1518.4" stroke="#d8a030" stroke-width="1.2" stroke-linecap="butt"/><line x1="850.9" y1="1517.8" x2="850.1" y2="1520.7" stroke="#d8a030" stroke-width="1.2" stroke-linecap="butt"/><line x1="861.4" y1="1521.2" x2="860.4" y2="1524.0" stroke="#d8a030" stroke-width="1.2" stroke-linecap="butt"/><line x1="871.7" y1="1525.4" x2="869.6" y2="1529.9" stroke="#d8a030" stroke-width="1.2" stroke-linecap="butt"/><path d="M871.7,1755.6 A127,127 0 0 1 764.3,1755.6" fill="none" stroke="#d8a030" stroke-width="1.5"/><line x1="871.7" y1="1755.6" x2="868.3" y2="1748.4" stroke="#d8a030" stroke-width="1.5" stroke-linecap="butt"/><line x1="764.3" y1="1755.6" x2="767.7" y2="1748.4" stroke="#d8a030" stroke-width="1.5" stroke-linecap="butt"/><line x1="871.7" y1="1755.6" x2="869.6" y2="1751.1" stroke="#d8a030" stroke-width="1.2" stroke-linecap="butt"/><line x1="861.4" y1="1759.8" x2="860.4" y2="1757.0" stroke="#d8a030" stroke-width="1.2" stroke-linecap="butt"/><line x1="850.9" y1="1763.2" x2="850.1" y2="1760.3" stroke="#d8a030" stroke-width="1.2" stroke-linecap="butt"/><line x1="840.1" y1="1765.6" x2="839.5" y2="1762.6" stroke="#d8a030" stroke-width="1.2" stroke-linecap="butt"/><line x1="829.1" y1="1767.0" x2="828.8" y2="1764.0" stroke="#d8a030" stroke-width="1.2" stroke-linecap="butt"/><line x1="818.0" y1="1767.5" x2="818.0" y2="1764.5" stroke="#d8a030" stroke-width="1.2" stroke-linecap="butt"/><line x1="806.9" y1="1767.0" x2="807.4" y2="1762.0" stroke="#d8a030" stroke-width="1.2" stroke-linecap="butt"/><line x1="795.9" y1="1765.6" x2="796.5" y2="1762.6" stroke="#d8a030" stroke-width="1.2" stroke-linecap="butt"/><line x1="785.1" y1="1763.2" x2="785.9" y2="1760.3" stroke="#d8a030" stroke-width="1.2" stroke-linecap="butt"/><line x1="774.6" y1="1759.8" x2="775.6" y2="1757.0" stroke="#d8a030" stroke-width="1.2" stroke-linecap="butt"/><line x1="764.3" y1="1755.6" x2="766.4" y2="1751.1" stroke="#d8a030" stroke-width="1.2" stroke-linecap="butt"/><path d="M933.1,1586.8 A127,127 0 0 1 933.1,1694.2" fill="none" stroke="#d8a030" stroke-width="1.5"/><line x1="933.1" y1="1586.8" x2="925.9" y2="1590.2" stroke="#d8a030" stroke-width="1.5" stroke-linecap="butt"/><line x1="933.1" y1="1694.2" x2="925.9" y2="1690.8" stroke="#d8a030" stroke-width="1.5" stroke-linecap="butt"/><line x1="933.1" y1="1586.8" x2="928.6" y2="1588.9" stroke="#d8a030" stroke-width="1.2" stroke-linecap="butt"/><line x1="937.3" y1="1597.1" x2="934.5" y2="1598.1" stroke="#d8a030" stroke-width="1.2" stroke-linecap="butt"/><line x1="940.7" y1="1607.6" x2="937.8" y2="1608.4" stroke="#d8a030" stroke-width="1.2" stroke-linecap="butt"/><line x1="943.1" y1="1618.4" x2="940.1" y2="1619.0" stroke="#d8a030" stroke-width="1.2" stroke-linecap="butt"/><line x1="944.5" y1="1629.4" x2="941.5" y2="1629.7" stroke="#d8a030" stroke-width="1.2" stroke-linecap="butt"/><line x1="945.0" y1="1640.5" x2="942.0" y2="1640.5" stroke="#d8a030" stroke-width="1.2" stroke-linecap="butt"/><line x1="944.5" y1="1651.6" x2="939.5" y2="1651.1" stroke="#d8a030" stroke-width="1.2" stroke-linecap="butt"/><line x1="943.1" y1="1662.6" x2="940.1" y2="1662.0" stroke="#d8a030" stroke-width="1.2" stroke-linecap="butt"/><line x1="940.7" y1="1673.4" x2="937.8" y2="1672.6" stroke="#d8a030" stroke-width="1.2" stroke-linecap="butt"/><line x1="937.3" y1="1683.9" x2="934.5" y2="1682.9" stroke="#d8a030" stroke-width="1.2" stroke-linecap="butt"/><line x1="933.1" y1="1694.2" x2="928.6" y2="1692.1" stroke="#d8a030" stroke-width="1.2" stroke-linecap="butt"/><path d="M818.0,1514 L825.0,1522 L818.0,1530 L811.0,1522 Z" fill="#dcdcde"/><path d="M818.0,1752.2 L825.0,1760.2 L818.0,1768.2 L811.0,1760.2 Z" fill="#dcdcde"/><path d="M698.7,1632.5 L705.7,1640.5 L698.7,1648.5 L691.7,1640.5 Z" fill="#dcdcde"/><path d="M937,1632.5 L944,1640.5 L937,1648.5 L930,1640.5 Z" fill="#dcdcde"/><line x1="792.4" y1="1513.6" x2="792.4" y2="1580.1" stroke="#d8a030" stroke-width="2.5" stroke-linecap="butt"/><line x1="878.7" y1="1615.3" x2="946.8" y2="1615.3" stroke="#d8a030" stroke-width="2.5" stroke-linecap="butt"/><line x1="843.6" y1="1702.0" x2="843.6" y2="1768.0" stroke="#d8a030" stroke-width="2.5" stroke-linecap="butt"/><rect x="740.7" y="1473.2" width="154.6" height="9.9" rx="0" fill="#d6d6d8"/><line x1="745.0" y1="1483.0" x2="745.0" y2="1491.5" stroke="#d6d6d8" stroke-width="1.3" stroke-linecap="butt"/><line x1="749.9" y1="1483.0" x2="749.9" y2="1488.0" stroke="#d6d6d8" stroke-width="1.3" stroke-linecap="butt"/><line x1="754.7" y1="1483.0" x2="754.7" y2="1488.0" stroke="#d6d6d8" stroke-width="1.3" stroke-linecap="butt"/><line x1="759.6" y1="1483.0" x2="759.6" y2="1488.0" stroke="#d6d6d8" stroke-width="1.3" stroke-linecap="butt"/><line x1="764.5" y1="1483.0" x2="764.5" y2="1488.0" stroke="#d6d6d8" stroke-width="1.3" stroke-linecap="butt"/><line x1="769.3" y1="1483.0" x2="769.3" y2="1491.5" stroke="#d6d6d8" stroke-width="1.3" stroke-linecap="butt"/><line x1="774.2" y1="1483.0" x2="774.2" y2="1488.0" stroke="#d6d6d8" stroke-width="1.3" stroke-linecap="butt"/><line x1="779.1" y1="1483.0" x2="779.1" y2="1488.0" stroke="#d6d6d8" stroke-width="1.3" stroke-linecap="butt"/><line x1="783.9" y1="1483.0" x2="783.9" y2="1488.0" stroke="#d6d6d8" stroke-width="1.3" stroke-linecap="butt"/><line x1="788.8" y1="1483.0" x2="788.8" y2="1488.0" stroke="#d6d6d8" stroke-width="1.3" stroke-linecap="butt"/><line x1="793.7" y1="1483.0" x2="793.7" y2="1491.5" stroke="#d6d6d8" stroke-width="1.3" stroke-linecap="butt"/><line x1="798.5" y1="1483.0" x2="798.5" y2="1488.0" stroke="#d6d6d8" stroke-width="1.3" stroke-linecap="butt"/><line x1="803.4" y1="1483.0" x2="803.4" y2="1488.0" stroke="#d6d6d8" stroke-width="1.3" stroke-linecap="butt"/><line x1="808.3" y1="1483.0" x2="808.3" y2="1488.0" stroke="#d6d6d8" stroke-width="1.3" stroke-linecap="butt"/><line x1="813.1" y1="1483.0" x2="813.1" y2="1488.0" stroke="#d6d6d8" stroke-width="1.3" stroke-linecap="butt"/><line x1="818.0" y1="1483.0" x2="818.0" y2="1491.5" stroke="#d6d6d8" stroke-width="1.3" stroke-linecap="butt"/><line x1="822.9" y1="1483.0" x2="822.9" y2="1488.0" stroke="#d6d6d8" stroke-width="1.3" stroke-linecap="butt"/><line x1="827.7" y1="1483.0" x2="827.7" y2="1488.0" stroke="#d6d6d8" stroke-width="1.3" stroke-linecap="butt"/><line x1="832.6" y1="1483.0" x2="832.6" y2="1488.0" stroke="#d6d6d8" stroke-width="1.3" stroke-linecap="butt"/><line x1="837.5" y1="1483.0" x2="837.5" y2="1488.0" stroke="#d6d6d8" stroke-width="1.3" stroke-linecap="butt"/><line x1="842.3" y1="1483.0" x2="842.3" y2="1491.5" stroke="#d6d6d8" stroke-width="1.3" stroke-linecap="butt"/><line x1="847.2" y1="1483.0" x2="847.2" y2="1488.0" stroke="#d6d6d8" stroke-width="1.3" stroke-linecap="butt"/><line x1="852.1" y1="1483.0" x2="852.1" y2="1488.0" stroke="#d6d6d8" stroke-width="1.3" stroke-linecap="butt"/><line x1="856.9" y1="1483.0" x2="856.9" y2="1488.0" stroke="#d6d6d8" stroke-width="1.3" stroke-linecap="butt"/><line x1="861.8" y1="1483.0" x2="861.8" y2="1488.0" stroke="#d6d6d8" stroke-width="1.3" stroke-linecap="butt"/><line x1="866.7" y1="1483.0" x2="866.7" y2="1491.5" stroke="#d6d6d8" stroke-width="1.3" stroke-linecap="butt"/><line x1="871.5" y1="1483.0" x2="871.5" y2="1488.0" stroke="#d6d6d8" stroke-width="1.3" stroke-linecap="butt"/><line x1="876.4" y1="1483.0" x2="876.4" y2="1488.0" stroke="#d6d6d8" stroke-width="1.3" stroke-linecap="butt"/><line x1="881.3" y1="1483.0" x2="881.3" y2="1488.0" stroke="#d6d6d8" stroke-width="1.3" stroke-linecap="butt"/><line x1="886.1" y1="1483.0" x2="886.1" y2="1488.0" stroke="#d6d6d8" stroke-width="1.3" stroke-linecap="butt"/><line x1="891.0" y1="1483.0" x2="891.0" y2="1491.5" stroke="#d6d6d8" stroke-width="1.3" stroke-linecap="butt"/><path d="M813.5,1474 L822,1474 L817.8,1481 Z" fill="#050509"/><text x="817.8" y="1470.3" font-size="15" text-anchor="middle" fill="#dcdcde" textLength="83" lengthAdjust="spacingAndGlyphs">ROLL RATE</text><text x="817.8" y="1504.0" font-size="13" text-anchor="middle" fill="#dcdcde">0</text><rect x="740.7" y="1797.8" width="154.6" height="9.9" rx="0" fill="#d6d6d8"/><line x1="745.0" y1="1797.8" x2="745.0" y2="1789.3" stroke="#d6d6d8" stroke-width="1.3" stroke-linecap="butt"/><line x1="749.9" y1="1797.8" x2="749.9" y2="1792.8" stroke="#d6d6d8" stroke-width="1.3" stroke-linecap="butt"/><line x1="754.7" y1="1797.8" x2="754.7" y2="1792.8" stroke="#d6d6d8" stroke-width="1.3" stroke-linecap="butt"/><line x1="759.6" y1="1797.8" x2="759.6" y2="1792.8" stroke="#d6d6d8" stroke-width="1.3" stroke-linecap="butt"/><line x1="764.5" y1="1797.8" x2="764.5" y2="1792.8" stroke="#d6d6d8" stroke-width="1.3" stroke-linecap="butt"/><line x1="769.3" y1="1797.8" x2="769.3" y2="1789.3" stroke="#d6d6d8" stroke-width="1.3" stroke-linecap="butt"/><line x1="774.2" y1="1797.8" x2="774.2" y2="1792.8" stroke="#d6d6d8" stroke-width="1.3" stroke-linecap="butt"/><line x1="779.1" y1="1797.8" x2="779.1" y2="1792.8" stroke="#d6d6d8" stroke-width="1.3" stroke-linecap="butt"/><line x1="783.9" y1="1797.8" x2="783.9" y2="1792.8" stroke="#d6d6d8" stroke-width="1.3" stroke-linecap="butt"/><line x1="788.8" y1="1797.8" x2="788.8" y2="1792.8" stroke="#d6d6d8" stroke-width="1.3" stroke-linecap="butt"/><line x1="793.7" y1="1797.8" x2="793.7" y2="1789.3" stroke="#d6d6d8" stroke-width="1.3" stroke-linecap="butt"/><line x1="798.5" y1="1797.8" x2="798.5" y2="1792.8" stroke="#d6d6d8" stroke-width="1.3" stroke-linecap="butt"/><line x1="803.4" y1="1797.8" x2="803.4" y2="1792.8" stroke="#d6d6d8" stroke-width="1.3" stroke-linecap="butt"/><line x1="808.3" y1="1797.8" x2="808.3" y2="1792.8" stroke="#d6d6d8" stroke-width="1.3" stroke-linecap="butt"/><line x1="813.1" y1="1797.8" x2="813.1" y2="1792.8" stroke="#d6d6d8" stroke-width="1.3" stroke-linecap="butt"/><line x1="818.0" y1="1797.8" x2="818.0" y2="1789.3" stroke="#d6d6d8" stroke-width="1.3" stroke-linecap="butt"/><line x1="822.9" y1="1797.8" x2="822.9" y2="1792.8" stroke="#d6d6d8" stroke-width="1.3" stroke-linecap="butt"/><line x1="827.7" y1="1797.8" x2="827.7" y2="1792.8" stroke="#d6d6d8" stroke-width="1.3" stroke-linecap="butt"/><line x1="832.6" y1="1797.8" x2="832.6" y2="1792.8" stroke="#d6d6d8" stroke-width="1.3" stroke-linecap="butt"/><line x1="837.5" y1="1797.8" x2="837.5" y2="1792.8" stroke="#d6d6d8" stroke-width="1.3" stroke-linecap="butt"/><line x1="842.3" y1="1797.8" x2="842.3" y2="1789.3" stroke="#d6d6d8" stroke-width="1.3" stroke-linecap="butt"/><line x1="847.2" y1="1797.8" x2="847.2" y2="1792.8" stroke="#d6d6d8" stroke-width="1.3" stroke-linecap="butt"/><line x1="852.1" y1="1797.8" x2="852.1" y2="1792.8" stroke="#d6d6d8" stroke-width="1.3" stroke-linecap="butt"/><line x1="856.9" y1="1797.8" x2="856.9" y2="1792.8" stroke="#d6d6d8" stroke-width="1.3" stroke-linecap="butt"/><line x1="861.8" y1="1797.8" x2="861.8" y2="1792.8" stroke="#d6d6d8" stroke-width="1.3" stroke-linecap="butt"/><line x1="866.7" y1="1797.8" x2="866.7" y2="1789.3" stroke="#d6d6d8" stroke-width="1.3" stroke-linecap="butt"/><line x1="871.5" y1="1797.8" x2="871.5" y2="1792.8" stroke="#d6d6d8" stroke-width="1.3" stroke-linecap="butt"/><line x1="876.4" y1="1797.8" x2="876.4" y2="1792.8" stroke="#d6d6d8" stroke-width="1.3" stroke-linecap="butt"/><line x1="881.3" y1="1797.8" x2="881.3" y2="1792.8" stroke="#d6d6d8" stroke-width="1.3" stroke-linecap="butt"/><line x1="886.1" y1="1797.8" x2="886.1" y2="1792.8" stroke="#d6d6d8" stroke-width="1.3" stroke-linecap="butt"/><line x1="891.0" y1="1797.8" x2="891.0" y2="1789.3" stroke="#d6d6d8" stroke-width="1.3" stroke-linecap="butt"/><path d="M813.5,1807 L822,1807 L817.8,1800 Z" fill="#050509"/><text x="817.8" y="1822.5" font-size="15" text-anchor="middle" fill="#dcdcde" textLength="78" lengthAdjust="spacingAndGlyphs">YAW RATE</text><text x="817.8" y="1786.0" font-size="13" text-anchor="middle" fill="#dcdcde">0</text><rect x="975.4" y="1563.2" width="9.9" height="155.6" rx="0" fill="#d6d6d8"/><line x1="975.4" y1="1567.0" x2="966.4" y2="1567.0" stroke="#d6d6d8" stroke-width="1.3" stroke-linecap="butt"/><line x1="975.4" y1="1571.9" x2="969.9" y2="1571.9" stroke="#d6d6d8" stroke-width="1.3" stroke-linecap="butt"/><line x1="975.4" y1="1576.9" x2="969.9" y2="1576.9" stroke="#d6d6d8" stroke-width="1.3" stroke-linecap="butt"/><line x1="975.4" y1="1581.8" x2="969.9" y2="1581.8" stroke="#d6d6d8" stroke-width="1.3" stroke-linecap="butt"/><line x1="975.4" y1="1586.7" x2="969.9" y2="1586.7" stroke="#d6d6d8" stroke-width="1.3" stroke-linecap="butt"/><line x1="975.4" y1="1591.7" x2="966.4" y2="1591.7" stroke="#d6d6d8" stroke-width="1.3" stroke-linecap="butt"/><line x1="975.4" y1="1596.6" x2="969.9" y2="1596.6" stroke="#d6d6d8" stroke-width="1.3" stroke-linecap="butt"/><line x1="975.4" y1="1601.5" x2="969.9" y2="1601.5" stroke="#d6d6d8" stroke-width="1.3" stroke-linecap="butt"/><line x1="975.4" y1="1606.5" x2="969.9" y2="1606.5" stroke="#d6d6d8" stroke-width="1.3" stroke-linecap="butt"/><line x1="975.4" y1="1611.4" x2="969.9" y2="1611.4" stroke="#d6d6d8" stroke-width="1.3" stroke-linecap="butt"/><line x1="975.4" y1="1616.3" x2="966.4" y2="1616.3" stroke="#d6d6d8" stroke-width="1.3" stroke-linecap="butt"/><line x1="975.4" y1="1621.3" x2="969.9" y2="1621.3" stroke="#d6d6d8" stroke-width="1.3" stroke-linecap="butt"/><line x1="975.4" y1="1626.2" x2="969.9" y2="1626.2" stroke="#d6d6d8" stroke-width="1.3" stroke-linecap="butt"/><line x1="975.4" y1="1631.1" x2="969.9" y2="1631.1" stroke="#d6d6d8" stroke-width="1.3" stroke-linecap="butt"/><line x1="975.4" y1="1636.1" x2="969.9" y2="1636.1" stroke="#d6d6d8" stroke-width="1.3" stroke-linecap="butt"/><line x1="975.4" y1="1641.0" x2="966.4" y2="1641.0" stroke="#d6d6d8" stroke-width="1.3" stroke-linecap="butt"/><line x1="975.4" y1="1645.9" x2="969.9" y2="1645.9" stroke="#d6d6d8" stroke-width="1.3" stroke-linecap="butt"/><line x1="975.4" y1="1650.9" x2="969.9" y2="1650.9" stroke="#d6d6d8" stroke-width="1.3" stroke-linecap="butt"/><line x1="975.4" y1="1655.8" x2="969.9" y2="1655.8" stroke="#d6d6d8" stroke-width="1.3" stroke-linecap="butt"/><line x1="975.4" y1="1660.7" x2="969.9" y2="1660.7" stroke="#d6d6d8" stroke-width="1.3" stroke-linecap="butt"/><line x1="975.4" y1="1665.7" x2="966.4" y2="1665.7" stroke="#d6d6d8" stroke-width="1.3" stroke-linecap="butt"/><line x1="975.4" y1="1670.6" x2="969.9" y2="1670.6" stroke="#d6d6d8" stroke-width="1.3" stroke-linecap="butt"/><line x1="975.4" y1="1675.5" x2="969.9" y2="1675.5" stroke="#d6d6d8" stroke-width="1.3" stroke-linecap="butt"/><line x1="975.4" y1="1680.5" x2="969.9" y2="1680.5" stroke="#d6d6d8" stroke-width="1.3" stroke-linecap="butt"/><line x1="975.4" y1="1685.4" x2="969.9" y2="1685.4" stroke="#d6d6d8" stroke-width="1.3" stroke-linecap="butt"/><line x1="975.4" y1="1690.3" x2="966.4" y2="1690.3" stroke="#d6d6d8" stroke-width="1.3" stroke-linecap="butt"/><line x1="975.4" y1="1695.3" x2="969.9" y2="1695.3" stroke="#d6d6d8" stroke-width="1.3" stroke-linecap="butt"/><line x1="975.4" y1="1700.2" x2="969.9" y2="1700.2" stroke="#d6d6d8" stroke-width="1.3" stroke-linecap="butt"/><line x1="975.4" y1="1705.1" x2="969.9" y2="1705.1" stroke="#d6d6d8" stroke-width="1.3" stroke-linecap="butt"/><line x1="975.4" y1="1710.1" x2="969.9" y2="1710.1" stroke="#d6d6d8" stroke-width="1.3" stroke-linecap="butt"/><line x1="975.4" y1="1715.0" x2="966.4" y2="1715.0" stroke="#d6d6d8" stroke-width="1.3" stroke-linecap="butt"/><path d="M984.5,1636.5 L984.5,1645 L977.5,1640.8 Z" fill="#050509"/><text x="959.6" y="1645.5" font-size="13" text-anchor="middle" fill="#dcdcde">0</text><text x="994.1" y="1590.0" font-size="14" text-anchor="middle" fill="#dcdcde">P</text><text x="994.1" y="1603.6" font-size="14" text-anchor="middle" fill="#dcdcde">I</text><text x="994.1" y="1617.2" font-size="14" text-anchor="middle" fill="#dcdcde">T</text><text x="994.1" y="1630.8" font-size="14" text-anchor="middle" fill="#dcdcde">C</text><text x="994.1" y="1644.4" font-size="14" text-anchor="middle" fill="#dcdcde">H</text><text x="994.1" y="1663.0" font-size="14" text-anchor="middle" fill="#dcdcde">R</text><text x="994.1" y="1676.6" font-size="14" text-anchor="middle" fill="#dcdcde">A</text><text x="994.1" y="1690.2" font-size="14" text-anchor="middle" fill="#dcdcde">T</text><text x="994.1" y="1703.8" font-size="14" text-anchor="middle" fill="#dcdcde">E</text><rect x="1075.2" y="1440.6" width="94.3" height="94.4" rx="8" fill="none" stroke="#222226" stroke-width="2.6"/><rect x="1085.5" y="1451.0" width="74.0" height="74.0" rx="3" fill="#b9a1aa" stroke="#222226" stroke-width="3"/><text x="1122.1" y="1484.0" font-size="15" text-anchor="middle" stroke="#222226" stroke-width="0.45" textLength="63" lengthAdjust="spacingAndGlyphs">MASTER</text><text x="1122.1" y="1501.4" font-size="15" text-anchor="middle" stroke="#222226" stroke-width="0.45" textLength="57" lengthAdjust="spacingAndGlyphs">ALARM</text><text x="1121.7" y="1572.0" font-size="16" text-anchor="middle" stroke="#222226" stroke-width="0.45" textLength="122.5" lengthAdjust="spacingAndGlyphs">RATE/ERR MON</text><text x="1122.3" y="1585.4" font-size="11.5" text-anchor="middle" stroke="#222226" stroke-width="0.45" textLength="86.6" lengthAdjust="spacingAndGlyphs">RNDZ RADAR</text><path d="M1096.6,1619.8 L1109.6,1597.5 L1135.6,1597.5 L1148.6,1619.8 L1135.6,1642.1 L1109.6,1642.1 Z" fill="#a4a4a6" stroke="#222226" stroke-width="3"/><circle cx="1122.6" cy="1620.6" r="17.8" fill="#3e3e42" stroke="#222226" stroke-width="3"/><path d="M1117.6,1625.8 L1117.6,1618.8 A5,5 0 0 1 1127.6,1618.8 L1127.6,1625.8 Z" fill="#c8c8ca" stroke="#222226" stroke-width="2.5"/><rect x="1109.1" y="1625.3" width="27.0" height="26.5" rx="1" fill="#c8c8ca" stroke="#222226" stroke-width="3"/><line x1="1113.6" y1="1648.8" x2="1131.6" y2="1648.8" stroke="#8fb060" stroke-width="2.6" stroke-linecap="butt"/><text x="1121.9" y="1663.0" font-size="12" text-anchor="middle" stroke="#222226" stroke-width="0.45" textLength="107.2" lengthAdjust="spacingAndGlyphs">LDG RDR/CMPTR</text><text x="1121.7" y="1701.5" font-size="16" text-anchor="middle" stroke="#222226" stroke-width="0.45" textLength="122.5" lengthAdjust="spacingAndGlyphs">ATTITUDE MON</text><text x="1122.1" y="1713.9" font-size="11.5" text-anchor="middle" stroke="#222226" stroke-width="0.45" textLength="30" lengthAdjust="spacingAndGlyphs">PGNS</text><path d="M1096.6,1748.8 L1109.6,1726.5 L1135.6,1726.5 L1148.6,1748.8 L1135.6,1771.1 L1109.6,1771.1 Z" fill="#a4a4a6" stroke="#222226" stroke-width="3"/><circle cx="1122.6" cy="1749.6" r="17.8" fill="#3e3e42" stroke="#222226" stroke-width="3"/><path d="M1117.6,1754.8 L1117.6,1747.8 A5,5 0 0 1 1127.6,1747.8 L1127.6,1754.8 Z" fill="#c8c8ca" stroke="#222226" stroke-width="2.5"/><rect x="1109.1" y="1754.3" width="27.0" height="26.5" rx="1" fill="#c8c8ca" stroke="#222226" stroke-width="3"/><line x1="1113.6" y1="1777.8" x2="1131.6" y2="1777.8" stroke="#8fb060" stroke-width="2.6" stroke-linecap="butt"/><text x="1122.6" y="1793.0" font-size="12.5" text-anchor="middle" stroke="#222226" stroke-width="0.45" textLength="26" lengthAdjust="spacingAndGlyphs">AGS</text><text x="165.0" y="2060.5" font-size="16.5" text-anchor="middle" stroke="#222226" stroke-width="0.45" textLength="144" lengthAdjust="spacingAndGlyphs">TEMP/PRESS MON</text><rect x="71.4" y="2066.0" width="38.6" height="23.3" rx="1.5" fill="#25252a"/><text x="90.7" y="2077.0" font-size="12" text-anchor="middle" fill="#e8e8ea" textLength="35" lengthAdjust="spacingAndGlyphs">2750/</text><text x="90.7" y="2088.0" font-size="12" text-anchor="middle" fill="#e8e8ea" textLength="32" lengthAdjust="spacingAndGlyphs">3200</text><text x="121.9" y="2077.4" font-size="12.5" text-anchor="middle" stroke="#222226" stroke-width="0.45" textLength="16.2" lengthAdjust="spacingAndGlyphs">He</text><text x="199.1" y="2077.4" font-size="12.5" text-anchor="middle" stroke="#222226" stroke-width="0.45" textLength="47.8" lengthAdjust="spacingAndGlyphs">PRPLNT</text><rect x="237.0" y="2067.7" width="53.0" height="10.6" rx="1.5" fill="#25252a"/><text x="263.5" y="2076.6" font-size="12" text-anchor="middle" fill="#e8e8ea" textLength="50" lengthAdjust="spacingAndGlyphs">178/188</text><text x="244.8" y="2095.2" font-size="12.5" text-anchor="middle" stroke="#222226" stroke-width="0.45" textLength="73.3" lengthAdjust="spacingAndGlyphs">FUEL MANF</text><rect x="245.5" y="2098.6" width="53.0" height="9.7" rx="1.5" fill="#25252a"/><text x="272.0" y="2106.6" font-size="12" text-anchor="middle" fill="#e8e8ea" textLength="50.0" lengthAdjust="spacingAndGlyphs">175/188</text><text x="242.1" y="2122.0" font-size="12.5" text-anchor="middle" stroke="#222226" stroke-width="0.45" textLength="33.8" lengthAdjust="spacingAndGlyphs">OXID</text><text x="244.6" y="2133.3" font-size="12.5" text-anchor="middle" stroke="#222226" stroke-width="0.45" textLength="38.8" lengthAdjust="spacingAndGlyphs">MANF</text><rect x="237.0" y="2136.7" width="53.0" height="9.8" rx="1.5" fill="#25252a"/><text x="263.5" y="2144.8" font-size="12" text-anchor="middle" fill="#e8e8ea" textLength="50" lengthAdjust="spacingAndGlyphs">175/188</text><line x1="134.0" y1="2074.5" x2="136.2" y2="2080.4" stroke="#222226" stroke-width="2.6" stroke-linecap="butt"/><line x1="169.3" y1="2077.4" x2="172.2" y2="2072.0" stroke="#222226" stroke-width="2.6" stroke-linecap="butt"/><line x1="199.0" y1="2098.6" x2="204.0" y2="2092.0" stroke="#222226" stroke-width="2.6" stroke-linecap="butt"/><line x1="216.7" y1="2125.3" x2="223.0" y2="2122.7" stroke="#222226" stroke-width="2.6" stroke-linecap="butt"/><clipPath id="k1532142"><circle cx="153.2" cy="2142.2" r="64"/></clipPath><circle cx="153.2" cy="2142.2" r="64" fill="rgba(0,0,0,0.108)"/><g clip-path="url(#k1532142)"><path d="M129.3,2084.6 L142.6,2081.4 L181.3,2136.0 L186.4,2210.0 L151.0,2215.0 L125.3,2150.3 Z" fill="rgba(0,0,0,0.135)" stroke="#222226" stroke-width="3" stroke-linejoin="round"/></g><circle cx="153.2" cy="2142.2" r="64" fill="none" stroke="#222226" stroke-width="3"/><path d="M138.6,2093.5 L144.0,2124.0 L149.2,2123.0 L143.8,2092.5 Z" fill="#dcdcde" stroke="#222226" stroke-width="2.2"/><circle cx="153.2" cy="2142.2" r="7.5" fill="rgba(255,255,255,0.12)" stroke="#222226" stroke-width="2.8"/><text x="510.0" y="2095.2" font-size="16.5" text-anchor="middle" stroke="#222226" stroke-width="0.45" textLength="82.6" lengthAdjust="spacingAndGlyphs">ACA PROP</text><text x="510.5" y="2108.3" font-size="12.5" text-anchor="middle" stroke="#222226" stroke-width="0.45" textLength="49.5" lengthAdjust="spacingAndGlyphs">ENABLE</text><path d="M483.4,2143.0 L496.6,2120.4 L523.0,2120.4 L536.2,2143.0 L523.0,2165.6 L496.6,2165.6 Z" fill="#a4a4a6" stroke="#222226" stroke-width="3"/><circle cx="509.8" cy="2144.3" r="17.2" fill="#4a4a4e" stroke="#222226" stroke-width="3"/><path d="M502.40000000000003,2126 L504.40000000000003,2141 A5.4,5.4 0 0 0 515.2,2141 L517.2,2126 Z" fill="#c8c8ca" stroke="#222226" stroke-width="2.6"/><path d="M504.40000000000003,2141 A5.4,5.4 0 0 0 515.2,2141 Z" fill="#222226"/><ellipse cx="509.8" cy="2144.3" rx="2.6" ry="1.1" fill="#c8c8ca"/><ellipse cx="509.8" cy="2118" rx="9.5" ry="7.8" fill="#c8c8ca" stroke="#222226" stroke-width="2.6"/><ellipse cx="509.8" cy="2114" rx="4.2" ry="2.2" fill="#8db15e"/><text x="510.4" y="2185.4" font-size="12.5" text-anchor="middle" stroke="#222226" stroke-width="0.45" textLength="53.8" lengthAdjust="spacingAndGlyphs">DISABLE</text><text x="688.5" y="1929.4" font-size="15.5" text-anchor="middle" stroke="#222226" stroke-width="0.45" textLength="61.7" lengthAdjust="spacingAndGlyphs">GLYCOL</text><text x="776.5" y="1958.0" font-size="12.5" text-anchor="middle" stroke="#222226" stroke-width="0.45" textLength="66.7" lengthAdjust="spacingAndGlyphs">INST (SEC)</text><text x="776.5" y="1983.8" font-size="12" text-anchor="middle" stroke="#222226" stroke-width="0.45" textLength="37" lengthAdjust="spacingAndGlyphs">PUMP</text><text x="776.8" y="1996.1" font-size="12" text-anchor="middle" stroke="#222226" stroke-width="0.45">1</text><text x="778.0" y="2020.8" font-size="12" text-anchor="middle" stroke="#222226" stroke-width="0.45" textLength="37.0" lengthAdjust="spacingAndGlyphs">PUMP</text><text x="778.0" y="2033.2" font-size="12" text-anchor="middle" stroke="#222226" stroke-width="0.45">2</text><line x1="735.8" y1="1959.0" x2="740.7" y2="1954.0" stroke="#222226" stroke-width="2.6" stroke-linecap="butt"/><line x1="748.0" y1="1986.0" x2="753.5" y2="1985.0" stroke="#222226" stroke-width="2.6" stroke-linecap="butt"/><line x1="751.0" y1="2023.0" x2="756.0" y2="2026.0" stroke="#222226" stroke-width="2.6" stroke-linecap="butt"/><clipPath id="k6882007"><circle cx="688.8" cy="2007.5" r="64.2"/></clipPath><circle cx="688.8" cy="2007.5" r="64.2" fill="rgba(0,0,0,0.108)"/><g clip-path="url(#k6882007)"><path d="M600.0,2010.0 L681.4,1979.8 L750.6,1986.2 L753.0,1991.2 L696.2,2034.2 L600.0,2050.0 Z" fill="rgba(0,0,0,0.135)" stroke="#222226" stroke-width="3" stroke-linejoin="round"/></g><circle cx="688.8" cy="2007.5" r="64.2" fill="none" stroke="#222226" stroke-width="3"/><path d="M709.3,2003.8 L741.4,1995.1 L740.0,1990.1 L707.9,1998.8 Z" fill="#dcdcde" stroke="#222226" stroke-width="2.2"/><circle cx="688.8" cy="2007.5" r="7.5" fill="rgba(255,255,255,0.12)" stroke="#222226" stroke-width="2.8"/><path d="M802.2,2007.0 L815.4,1984.6 L841.8,1984.6 L855.0,2007.0 L841.8,2029.4 L815.4,2029.4 Z" fill="rgba(0,0,0,0.15)" stroke="#222226" stroke-width="3"/><circle cx="828.6" cy="2007" r="18.3" fill="rgba(0,0,0,0.07)" stroke="#222226" stroke-width="3"/><text x="688.3" y="2141.9" font-size="15.5" text-anchor="middle" stroke="#222226" stroke-width="0.45" textLength="75.1" lengthAdjust="spacingAndGlyphs">SUIT FAN</text><text x="755.5" y="2170.5" font-size="12.5" text-anchor="middle" stroke="#222226" stroke-width="0.45" textLength="24.7" lengthAdjust="spacingAndGlyphs">OFF</text><text x="768.9" y="2203.6" font-size="12.5" text-anchor="middle" stroke="#222226" stroke-width="0.45">1</text><text x="770.3" y="2242.0" font-size="12.5" text-anchor="middle" stroke="#222226" stroke-width="0.45">2</text><line x1="735.8" y1="2172.0" x2="740.7" y2="2167.0" stroke="#222226" stroke-width="2.6" stroke-linecap="butt"/><line x1="752.0" y1="2198.0" x2="757.5" y2="2197.0" stroke="#222226" stroke-width="2.6" stroke-linecap="butt"/><line x1="751.0" y1="2236.0" x2="756.0" y2="2239.0" stroke="#222226" stroke-width="2.6" stroke-linecap="butt"/><clipPath id="k6882219"><circle cx="688.8" cy="2219.9" r="64.2"/></clipPath><circle cx="688.8" cy="2219.9" r="64.2" fill="rgba(0,0,0,0.108)"/><g clip-path="url(#k6882219)"><path d="M600.0,2222.0 L681.4,2192.2 L750.6,2198.6 L753.0,2203.6 L696.2,2246.6 L600.0,2262.0 Z" fill="rgba(0,0,0,0.135)" stroke="#222226" stroke-width="3" stroke-linejoin="round"/></g><circle cx="688.8" cy="2219.9" r="64.2" fill="none" stroke="#222226" stroke-width="3"/><path d="M709.3,2216.2 L741.4,2207.5 L740.0,2202.5 L707.9,2211.2 Z" fill="#dcdcde" stroke="#222226" stroke-width="2.2"/><circle cx="688.8" cy="2219.9" r="7.5" fill="rgba(255,255,255,0.12)" stroke="#222226" stroke-width="2.8"/><path d="M802.2,2219.4 L815.4,2197.0 L841.8,2197.0 L855.0,2219.4 L841.8,2241.8 L815.4,2241.8 Z" fill="rgba(0,0,0,0.15)" stroke="#222226" stroke-width="3"/><circle cx="828.6" cy="2219.4" r="18.3" fill="rgba(0,0,0,0.07)" stroke="#222226" stroke-width="3"/><text x="977.2" y="2032.2" font-size="16" text-anchor="middle" textLength="149.7" lengthAdjust="spacingAndGlyphs">O<tspan font-size="11" dy="3">2</tspan><tspan dy="-3">/H</tspan><tspan font-size="11" dy="3">2</tspan><tspan dy="-3">O QTY MON</tspan></text><text x="921.0" y="2053.0" font-size="12.5" text-anchor="middle" stroke="#222226" stroke-width="0.45" textLength="69.2" lengthAdjust="spacingAndGlyphs">C/W RESET</text><rect x="849.4" y="2056.9" width="69.2" height="12.3" rx="1.5" fill="#25252a"/><text x="884.0" y="2067.5" font-size="12.5" text-anchor="middle" fill="#e8e8ea" textLength="66.20000000000005" lengthAdjust="spacingAndGlyphs">AGS (AEA)</text><text x="1018.3" y="2053.0" font-size="12.5" text-anchor="middle" stroke="#222226" stroke-width="0.45" textLength="34.6" lengthAdjust="spacingAndGlyphs">DES 1</text><text x="1051.2" y="2070.2" font-size="12.5" text-anchor="middle" stroke="#222226" stroke-width="0.45" textLength="36.0" lengthAdjust="spacingAndGlyphs">DES 2</text><text x="1068.0" y="2102.3" font-size="12.5" text-anchor="middle" stroke="#222226" stroke-width="0.45" textLength="35.1" lengthAdjust="spacingAndGlyphs">ACS 1</text><text x="1067.5" y="2141.9" font-size="12.5" text-anchor="middle" stroke="#222226" stroke-width="0.45" textLength="36.1" lengthAdjust="spacingAndGlyphs">ACS 2</text><line x1="960.5" y1="2052.0" x2="962.0" y2="2058.0" stroke="#222226" stroke-width="2.6" stroke-linecap="butt"/><line x1="997.5" y1="2052.5" x2="996.0" y2="2058.0" stroke="#222226" stroke-width="2.6" stroke-linecap="butt"/><line x1="1027.0" y1="2076.0" x2="1023.0" y2="2081.0" stroke="#222226" stroke-width="2.6" stroke-linecap="butt"/><line x1="1049.0" y1="2100.0" x2="1044.0" y2="2102.0" stroke="#222226" stroke-width="2.6" stroke-linecap="butt"/><line x1="1045.0" y1="2136.0" x2="1050.0" y2="2138.5" stroke="#222226" stroke-width="2.6" stroke-linecap="butt"/><clipPath id="k9772117"><circle cx="977.8" cy="2117.2" r="64.2"/></clipPath><circle cx="977.8" cy="2117.2" r="64.2" fill="rgba(0,0,0,0.108)"/><g clip-path="url(#k9772117)"><path d="M950.7,2108.3 L989.2,2054.4 L997.6,2054.9 L1005.0,2123.1 L985.0,2200.0 L940.0,2200.0 Z" fill="rgba(0,0,0,0.135)" stroke="#222226" stroke-width="3" stroke-linejoin="round"/></g><circle cx="977.8" cy="2117.2" r="64.2" fill="none" stroke="#222226" stroke-width="3"/><path d="M984.5,2068.3 L976.0,2100.3 L981.0,2101.7 L989.5,2069.7 Z" fill="#dcdcde" stroke="#222226" stroke-width="2.2"/><circle cx="977.8" cy="2117.2" r="7.5" fill="rgba(255,255,255,0.12)" stroke="#222226" stroke-width="2.8"/><text x="934.4" y="2215" font-size="16" text-anchor="middle" textLength="32" lengthAdjust="spacingAndGlyphs">CO<tspan font-size="11" dy="3">2</tspan></text><text x="1019.8" y="2215" font-size="16" text-anchor="middle" textLength="69" lengthAdjust="spacingAndGlyphs">H<tspan font-size="11" dy="3">2</tspan><tspan dy="-3">O SEP</tspan></text><path d="M908.0,2244.6 L921.2,2222.2 L947.6,2222.2 L960.8,2244.6 L947.6,2267.0 L921.2,2267.0 Z" fill="rgba(0,0,0,0.15)" stroke="#222226" stroke-width="3"/><circle cx="934.4" cy="2244.6" r="18.3" fill="rgba(0,0,0,0.07)" stroke="#222226" stroke-width="3"/><path d="M993.4,2244.6 L1006.6,2222.2 L1033.0,2222.2 L1046.2,2244.6 L1033.0,2267.0 L1006.6,2267.0 Z" fill="rgba(0,0,0,0.15)" stroke="#222226" stroke-width="3"/><circle cx="1019.8" cy="2244.6" r="18.3" fill="rgba(0,0,0,0.07)" stroke="#222226" stroke-width="3"/>
</svg></body></html>
